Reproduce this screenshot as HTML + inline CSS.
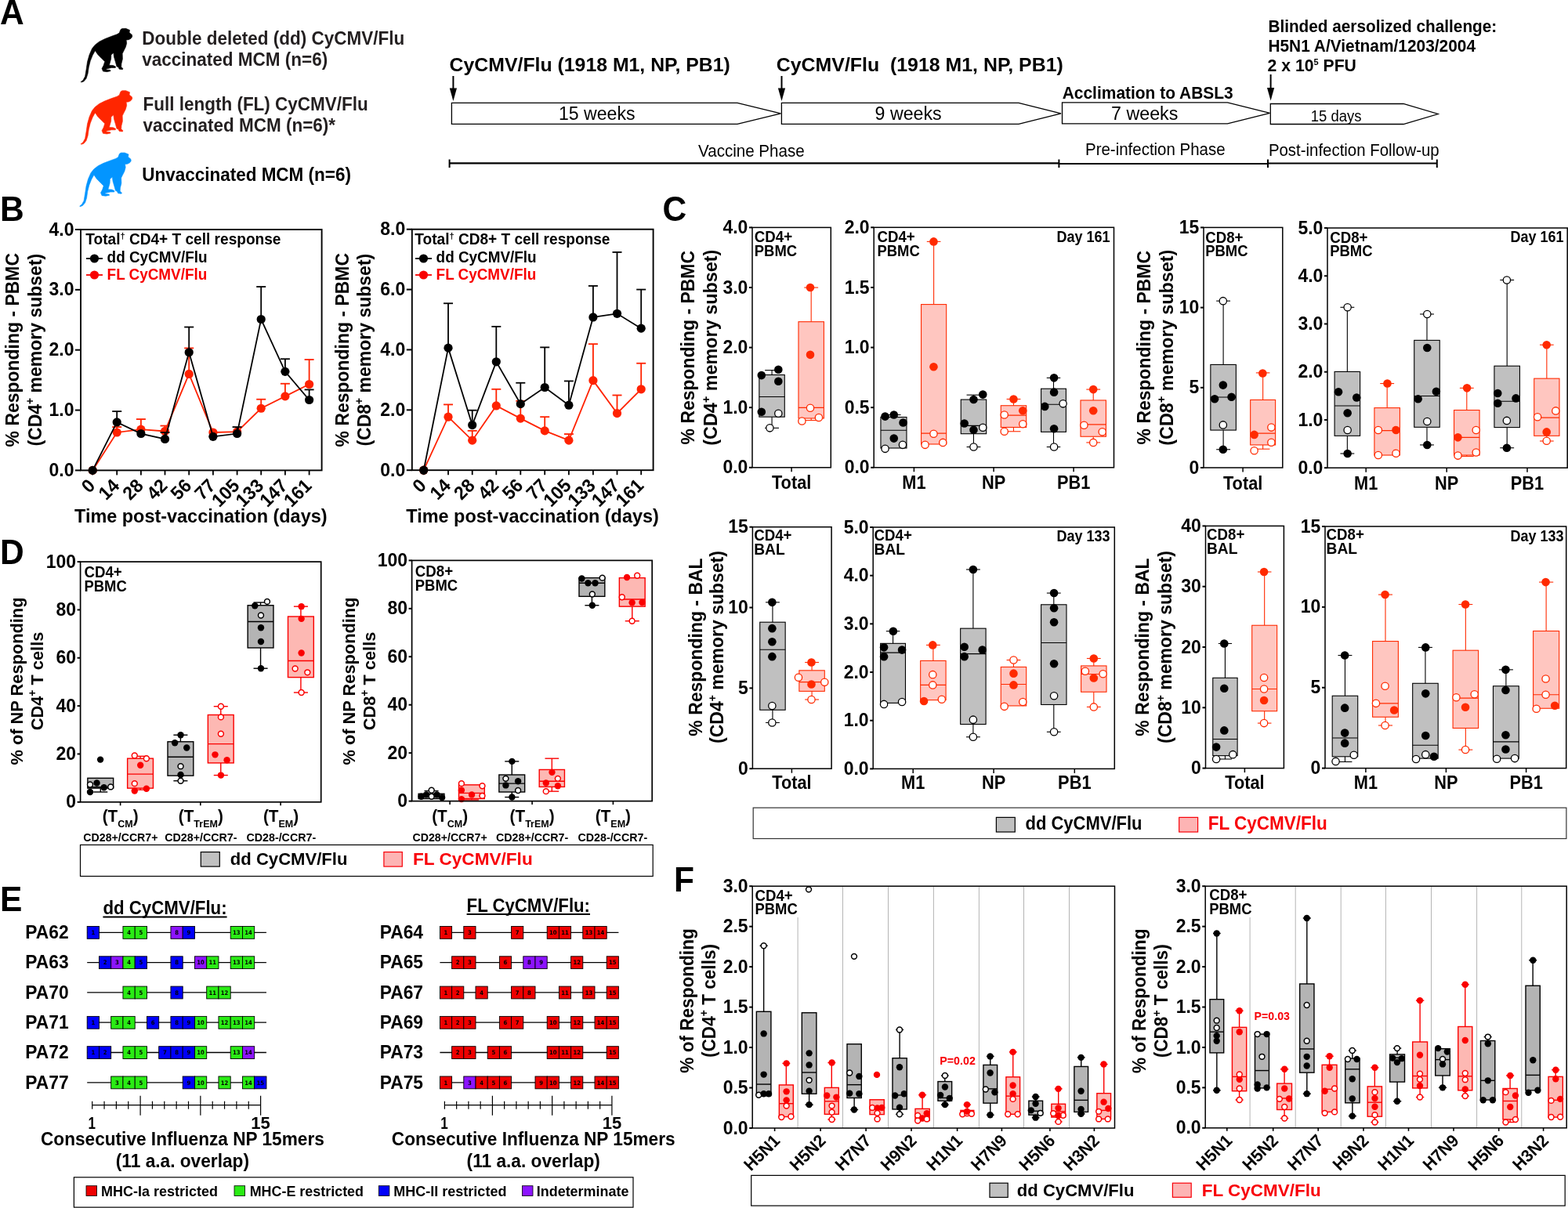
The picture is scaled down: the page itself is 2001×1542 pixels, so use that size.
<!DOCTYPE html>
<html><head><meta charset="utf-8"><title>Figure</title>
<style>
html,body{margin:0;padding:0;background:#fff;}
body{width:2001px;height:1542px;overflow:hidden;}
svg{display:block;font-family:'Liberation Sans', Arial, Helvetica, sans-serif;font-weight:bold;}
</style></head><body>
<svg width="2001" height="1542" viewBox="0 0 2001 1542">
<rect x="0" y="0" width="2001" height="1542" fill="#fff"/>
<text x="0" y="0" font-size="42.5" transform="translate(0 30.9) scale(1 1.04)">A</text>
<path d="M103.17 104.45 L105.89 102.48 L108.6 97.55 L110.07 88.68 L111.55 78.82 L114.02 69.95 L117.47 62.06 L121.16 57.38 L126.59 53.19 L133.49 49.74 L142.36 46.29 L149.26 43.83 L152.21 42.1 L153.94 37.67 L155.91 36.44 L160.59 36.34 L165.52 38.41 L165.03 41.61 L168.48 44.57 L168.72 46.79 L167 49.25 L164.04 50.73 L161.09 50.97 L161.68 55.16 L160.35 60.09 L157.88 65.02 L156.16 68.47 L156.4 75.37 L154.92 81.29 L154.68 85.47 L156.9 87.45 L156.4 88.68 L152.21 88.19 L150.74 85.47 L149.01 84.98 L147.29 78.82 L145.56 72.91 L144.82 67.49 L141.86 69.95 L141.62 75.37 L139.4 83.26 L144.33 83.5 L147.53 84.98 L147.29 86.46 L142.36 86.46 L135.46 87.94 L135.95 88.92 L140.63 89.42 L141.12 90.65 L136.44 91.64 L131.51 91.04 L130.04 87.45 L132.25 83.26 L133.73 78.57 L129.54 74.39 L124.86 69.7 L121.41 64.63 L118.21 70.44 L115.25 77.84 L113.28 85.72 L112.05 94.1 L110.07 100.26 L106.87 103.96 L103.67 105.04Z" fill="#000" stroke="#000" stroke-width="0.6" stroke-linejoin="round"/>
<path d="M103.17 183.75 L105.89 181.78 L108.6 176.85 L110.07 167.98 L111.55 158.12 L114.02 149.25 L117.47 141.36 L121.16 136.68 L126.59 132.49 L133.49 129.04 L142.36 125.59 L149.26 123.13 L152.21 121.4 L153.94 116.97 L155.91 115.74 L160.59 115.64 L165.52 117.71 L165.03 120.91 L168.48 123.87 L168.72 126.09 L167 128.55 L164.04 130.03 L161.09 130.27 L161.68 134.46 L160.35 139.39 L157.88 144.32 L156.16 147.77 L156.4 154.67 L154.92 160.59 L154.68 164.77 L156.9 166.75 L156.4 167.98 L152.21 167.49 L150.74 164.77 L149.01 164.28 L147.29 158.12 L145.56 152.21 L144.82 146.79 L141.86 149.25 L141.62 154.67 L139.4 162.56 L144.33 162.8 L147.53 164.28 L147.29 165.76 L142.36 165.76 L135.46 167.24 L135.95 168.22 L140.63 168.72 L141.12 169.95 L136.44 170.94 L131.51 170.34 L130.04 166.75 L132.25 162.56 L133.73 157.87 L129.54 153.69 L124.86 149 L121.41 143.93 L118.21 149.74 L115.25 157.14 L113.28 165.02 L112.05 173.4 L110.07 179.56 L106.87 183.26 L103.67 184.34Z" fill="#ff2600" stroke="#ff2600" stroke-width="0.6" stroke-linejoin="round"/>
<path d="M101.67 263.05 L104.39 261.08 L107.1 256.15 L108.57 247.28 L110.05 237.42 L112.52 228.55 L115.97 220.66 L119.66 215.98 L125.09 211.79 L131.99 208.34 L140.86 204.89 L147.76 202.43 L150.71 200.7 L152.44 196.27 L154.41 195.04 L159.09 194.94 L164.02 197.01 L163.53 200.21 L166.98 203.17 L167.22 205.39 L165.5 207.85 L162.54 209.33 L159.59 209.57 L160.18 213.76 L158.85 218.69 L156.38 223.62 L154.66 227.07 L154.9 233.97 L153.42 239.89 L153.18 244.07 L155.4 246.05 L154.9 247.28 L150.71 246.79 L149.24 244.07 L147.51 243.58 L145.79 237.42 L144.06 231.51 L143.32 226.09 L140.36 228.55 L140.12 233.97 L137.9 241.86 L142.83 242.1 L146.03 243.58 L145.79 245.06 L140.86 245.06 L133.96 246.54 L134.45 247.52 L139.13 248.02 L139.62 249.25 L134.94 250.24 L130.01 249.64 L128.54 246.05 L130.75 241.86 L132.23 237.17 L128.04 232.99 L123.36 228.3 L119.91 223.23 L116.71 229.04 L113.75 236.44 L111.78 244.32 L110.55 252.7 L108.57 258.86 L105.37 262.56 L102.17 263.64Z" fill="#0395ff" stroke="#0395ff" stroke-width="0.6" stroke-linejoin="round"/>
<text x="0" y="0" font-size="22.5" fill="#231f20" textLength="335" lengthAdjust="spacingAndGlyphs" transform="translate(181.2 57.3) scale(1 1.04)">Double deleted (dd) CyCMV/Flu</text>
<text x="0" y="0" font-size="22.5" fill="#231f20" textLength="237" lengthAdjust="spacingAndGlyphs" transform="translate(181.2 83.6) scale(1 1.04)">vaccinated MCM (n=6)</text>
<text x="0" y="0" font-size="22.5" fill="#231f20" transform="translate(182.5 141.2) scale(1 1.04)">Full length (FL) CyCMV/Flu</text>
<text x="0" y="0" font-size="22.5" fill="#231f20" transform="translate(182.5 167.5) scale(1 1.04)">vaccinated MCM (n=6)*</text>
<text x="0" y="0" font-size="22.5" transform="translate(181.2 231) scale(1 1.04)">Unvaccinated MCM (n=6)</text>
<text x="0" y="0" font-size="23.2" textLength="358.2" lengthAdjust="spacingAndGlyphs" transform="translate(573.6 91) scale(1 1.04)">CyCMV/Flu (1918 M1, NP, PB1)</text>
<text x="0" y="0" font-size="23.2" textLength="366" lengthAdjust="spacingAndGlyphs" transform="translate(990.8 91) scale(1 1.04)" xml:space="preserve">CyCMV/Flu  (1918 M1, NP, PB1)</text>
<line x1="578.4" y1="97" x2="578.4" y2="115" stroke="#000" stroke-width="2"/>
<path d="M573.8 112.5 L583 112.5 L578.4 129Z" fill="#000" stroke="none" stroke-width="0"/>
<line x1="997.5" y1="97" x2="997.5" y2="115" stroke="#000" stroke-width="2"/>
<path d="M992.9 112.5 L1002.1 112.5 L997.5 129Z" fill="#000" stroke="none" stroke-width="0"/>
<line x1="1621.6" y1="95" x2="1621.6" y2="114.5" stroke="#000" stroke-width="2"/>
<path d="M1617 112 L1626.2 112 L1621.6 128.5Z" fill="#000" stroke="none" stroke-width="0"/>
<path d="M576.4 131.3 L941 131.3 L996.4 144.8 L941 158.3 L576.4 158.3Z" fill="#fff" stroke="#000" stroke-width="1.3"/>
<path d="M997.4 131.3 L1300 131.3 L1354 144.8 L1300 158.3 L997.4 158.3Z" fill="#fff" stroke="#000" stroke-width="1.3"/>
<path d="M1355.5 130.8 L1566.5 130.8 L1620.5 144.3 L1566.5 157.8 L1355.5 157.8Z" fill="#fff" stroke="#000" stroke-width="1.3"/>
<path d="M1621.3 132.5 L1791 132.5 L1835.1 145.5 L1791 158.5 L1621.3 158.5Z" fill="#fff" stroke="#000" stroke-width="1.3"/>
<text x="0" y="0" font-size="23" font-weight="normal" textLength="97.5" lengthAdjust="spacingAndGlyphs" transform="translate(713 153.3) scale(1 1.04)">15 weeks</text>
<text x="0" y="0" font-size="23" font-weight="normal" textLength="85" lengthAdjust="spacingAndGlyphs" transform="translate(1116.6 153.3) scale(1 1.04)">9 weeks</text>
<text x="0" y="0" font-size="23" font-weight="normal" textLength="85.4" lengthAdjust="spacingAndGlyphs" transform="translate(1418 153.3) scale(1 1.04)">7 weeks</text>
<text x="0" y="0" font-size="19.5" font-weight="normal" textLength="64.7" lengthAdjust="spacingAndGlyphs" transform="translate(1672.8 154.5) scale(1 1.04)">15 days</text>
<text x="0" y="0" font-size="20.9" textLength="218" lengthAdjust="spacingAndGlyphs" transform="translate(1355.7 126) scale(1 1.04)">Acclimation to ABSL3</text>
<text x="0" y="0" font-size="20.8" textLength="291.8" lengthAdjust="spacingAndGlyphs" transform="translate(1618.4 40.6) scale(1 1.04)">Blinded aersolized challenge:</text>
<text x="0" y="0" font-size="20.8" textLength="264.6" lengthAdjust="spacingAndGlyphs" transform="translate(1618.4 65.9) scale(1 1.04)">H5N1 A/Vietnam/1203/2004</text>
<text x="0" y="0" font-size="21.2" transform="translate(1617.6 90.6) scale(1 1.04)">2 x 10<tspan font-size="11" dy="-7">5</tspan><tspan dy="7"> PFU</tspan></text>
<text x="0" y="0" font-size="20.5" font-weight="normal" textLength="135.7" lengthAdjust="spacingAndGlyphs" transform="translate(891 199.7) scale(1 1.04)">Vaccine Phase</text>
<text x="0" y="0" font-size="20.5" font-weight="normal" textLength="178.6" lengthAdjust="spacingAndGlyphs" transform="translate(1385 198.4) scale(1 1.04)">Pre-infection Phase</text>
<text x="0" y="0" font-size="20.4" font-weight="normal" textLength="217.8" lengthAdjust="spacingAndGlyphs" transform="translate(1618.9 198.6) scale(1 1.04)">Post-infection Follow-up</text>
<line x1="573" y1="208.3" x2="1351.4" y2="208.3" stroke="#000" stroke-width="2.2"/>
<line x1="1351.4" y1="209" x2="1618" y2="209" stroke="#000" stroke-width="2.2"/>
<line x1="1618" y1="208.5" x2="1834" y2="208.5" stroke="#000" stroke-width="2.2"/>
<line x1="573.6" y1="203.5" x2="573.6" y2="214" stroke="#000" stroke-width="2"/>
<line x1="1351.4" y1="203.5" x2="1351.4" y2="214" stroke="#000" stroke-width="2"/>
<line x1="1618" y1="203.5" x2="1618" y2="214" stroke="#000" stroke-width="2"/>
<line x1="1833.8" y1="203.5" x2="1833.8" y2="214" stroke="#000" stroke-width="2"/>
<text x="0" y="0" font-size="42.5" transform="translate(0 281.8) scale(1 1.04)">B</text>
<line x1="149.2" y1="551.98" x2="149.2" y2="545.07" stroke="#ff2200" stroke-width="1.8"/>
<line x1="143.2" y1="545.07" x2="155.2" y2="545.07" stroke="#ff2200" stroke-width="1.8"/>
<line x1="179.9" y1="548.14" x2="179.9" y2="535.08" stroke="#ff2200" stroke-width="1.8"/>
<line x1="173.9" y1="535.08" x2="185.9" y2="535.08" stroke="#ff2200" stroke-width="1.8"/>
<line x1="210.5" y1="550.45" x2="210.5" y2="543.53" stroke="#ff2200" stroke-width="1.8"/>
<line x1="204.5" y1="543.53" x2="216.5" y2="543.53" stroke="#ff2200" stroke-width="1.8"/>
<line x1="241.2" y1="477.44" x2="241.2" y2="444.39" stroke="#ff2200" stroke-width="1.8"/>
<line x1="235.2" y1="444.39" x2="247.2" y2="444.39" stroke="#ff2200" stroke-width="1.8"/>
<line x1="333.2" y1="521.24" x2="333.2" y2="509.72" stroke="#ff2200" stroke-width="1.8"/>
<line x1="327.2" y1="509.72" x2="339.2" y2="509.72" stroke="#ff2200" stroke-width="1.8"/>
<line x1="363.9" y1="505.87" x2="363.9" y2="489.74" stroke="#ff2200" stroke-width="1.8"/>
<line x1="357.9" y1="489.74" x2="369.9" y2="489.74" stroke="#ff2200" stroke-width="1.8"/>
<line x1="394.6" y1="490.5" x2="394.6" y2="459" stroke="#ff2200" stroke-width="1.8"/>
<line x1="388.6" y1="459" x2="400.6" y2="459" stroke="#ff2200" stroke-width="1.8"/>
<path d="M118.2 600.4 L149.2 551.98 L179.9 548.14 L210.5 550.45 L241.2 477.44 L271.9 551.98 L302.6 551.22 L333.2 521.24 L363.9 505.87 L394.6 490.5" fill="none" stroke="#ff2200" stroke-width="1.8"/>
<circle cx="118.2" cy="600.4" r="5.6" fill="#ff2200" stroke="none" stroke-width="1"/>
<circle cx="149.2" cy="551.98" r="5.6" fill="#ff2200" stroke="none" stroke-width="1"/>
<circle cx="179.9" cy="548.14" r="5.6" fill="#ff2200" stroke="none" stroke-width="1"/>
<circle cx="210.5" cy="550.45" r="5.6" fill="#ff2200" stroke="none" stroke-width="1"/>
<circle cx="241.2" cy="477.44" r="5.6" fill="#ff2200" stroke="none" stroke-width="1"/>
<circle cx="271.9" cy="551.98" r="5.6" fill="#ff2200" stroke="none" stroke-width="1"/>
<circle cx="302.6" cy="551.22" r="5.6" fill="#ff2200" stroke="none" stroke-width="1"/>
<circle cx="333.2" cy="521.24" r="5.6" fill="#ff2200" stroke="none" stroke-width="1"/>
<circle cx="363.9" cy="505.87" r="5.6" fill="#ff2200" stroke="none" stroke-width="1"/>
<circle cx="394.6" cy="490.5" r="5.6" fill="#ff2200" stroke="none" stroke-width="1"/>
<line x1="149.2" y1="538.92" x2="149.2" y2="525.09" stroke="#000" stroke-width="1.8"/>
<line x1="143.2" y1="525.09" x2="155.2" y2="525.09" stroke="#000" stroke-width="1.8"/>
<line x1="210.5" y1="560.44" x2="210.5" y2="551.98" stroke="#000" stroke-width="1.8"/>
<line x1="204.5" y1="551.98" x2="216.5" y2="551.98" stroke="#000" stroke-width="1.8"/>
<line x1="241.2" y1="449.77" x2="241.2" y2="417.5" stroke="#000" stroke-width="1.8"/>
<line x1="235.2" y1="417.5" x2="247.2" y2="417.5" stroke="#000" stroke-width="1.8"/>
<line x1="302.6" y1="553.52" x2="302.6" y2="545.07" stroke="#000" stroke-width="1.8"/>
<line x1="296.6" y1="545.07" x2="308.6" y2="545.07" stroke="#000" stroke-width="1.8"/>
<line x1="333.2" y1="407.51" x2="333.2" y2="366.01" stroke="#000" stroke-width="1.8"/>
<line x1="327.2" y1="366.01" x2="339.2" y2="366.01" stroke="#000" stroke-width="1.8"/>
<line x1="363.9" y1="474.37" x2="363.9" y2="458.23" stroke="#000" stroke-width="1.8"/>
<line x1="357.9" y1="458.23" x2="369.9" y2="458.23" stroke="#000" stroke-width="1.8"/>
<line x1="394.6" y1="510.49" x2="394.6" y2="497.42" stroke="#000" stroke-width="1.8"/>
<line x1="388.6" y1="497.42" x2="400.6" y2="497.42" stroke="#000" stroke-width="1.8"/>
<path d="M118.2 600.4 L149.2 538.92 L179.9 553.52 L210.5 560.44 L241.2 449.77 L271.9 557.36 L302.6 553.52 L333.2 407.51 L363.9 474.37 L394.6 510.49" fill="none" stroke="#000" stroke-width="1.8"/>
<circle cx="118.2" cy="600.4" r="5.6" fill="#000" stroke="none" stroke-width="1"/>
<circle cx="149.2" cy="538.92" r="5.6" fill="#000" stroke="none" stroke-width="1"/>
<circle cx="179.9" cy="553.52" r="5.6" fill="#000" stroke="none" stroke-width="1"/>
<circle cx="210.5" cy="560.44" r="5.6" fill="#000" stroke="none" stroke-width="1"/>
<circle cx="241.2" cy="449.77" r="5.6" fill="#000" stroke="none" stroke-width="1"/>
<circle cx="271.9" cy="557.36" r="5.6" fill="#000" stroke="none" stroke-width="1"/>
<circle cx="302.6" cy="553.52" r="5.6" fill="#000" stroke="none" stroke-width="1"/>
<circle cx="333.2" cy="407.51" r="5.6" fill="#000" stroke="none" stroke-width="1"/>
<circle cx="363.9" cy="474.37" r="5.6" fill="#000" stroke="none" stroke-width="1"/>
<circle cx="394.6" cy="510.49" r="5.6" fill="#000" stroke="none" stroke-width="1"/>
<rect x="103" y="293" width="307.6" height="307.4" fill="none" stroke="#000" stroke-width="1.9"/>
<line x1="96" y1="293" x2="103" y2="293" stroke="#000" stroke-width="2"/>
<text x="0" y="0" font-size="23" text-anchor="end" transform="translate(94.5 300.59) scale(1 1.04)">4.0</text>
<line x1="96" y1="369.85" x2="103" y2="369.85" stroke="#000" stroke-width="2"/>
<text x="0" y="0" font-size="23" text-anchor="end" transform="translate(94.5 377.44) scale(1 1.04)">3.0</text>
<line x1="96" y1="446.7" x2="103" y2="446.7" stroke="#000" stroke-width="2"/>
<text x="0" y="0" font-size="23" text-anchor="end" transform="translate(94.5 454.29) scale(1 1.04)">2.0</text>
<line x1="96" y1="523.55" x2="103" y2="523.55" stroke="#000" stroke-width="2"/>
<text x="0" y="0" font-size="23" text-anchor="end" transform="translate(94.5 531.14) scale(1 1.04)">1.0</text>
<line x1="96" y1="600.4" x2="103" y2="600.4" stroke="#000" stroke-width="2"/>
<text x="0" y="0" font-size="23" text-anchor="end" transform="translate(94.5 607.99) scale(1 1.04)">0.0</text>
<line x1="118.2" y1="600.4" x2="118.2" y2="606.4" stroke="#000" stroke-width="1.8"/>
<text x="0" y="0" font-size="23" text-anchor="end" transform="translate(122.7 621.4) rotate(-45) scale(1 1.04)">0</text>
<line x1="149.2" y1="600.4" x2="149.2" y2="606.4" stroke="#000" stroke-width="1.8"/>
<text x="0" y="0" font-size="23" text-anchor="end" transform="translate(153.7 621.4) rotate(-45) scale(1 1.04)">14</text>
<line x1="179.9" y1="600.4" x2="179.9" y2="606.4" stroke="#000" stroke-width="1.8"/>
<text x="0" y="0" font-size="23" text-anchor="end" transform="translate(184.4 621.4) rotate(-45) scale(1 1.04)">28</text>
<line x1="210.5" y1="600.4" x2="210.5" y2="606.4" stroke="#000" stroke-width="1.8"/>
<text x="0" y="0" font-size="23" text-anchor="end" transform="translate(215 621.4) rotate(-45) scale(1 1.04)">42</text>
<line x1="241.2" y1="600.4" x2="241.2" y2="606.4" stroke="#000" stroke-width="1.8"/>
<text x="0" y="0" font-size="23" text-anchor="end" transform="translate(245.7 621.4) rotate(-45) scale(1 1.04)">56</text>
<line x1="271.9" y1="600.4" x2="271.9" y2="606.4" stroke="#000" stroke-width="1.8"/>
<text x="0" y="0" font-size="23" text-anchor="end" transform="translate(276.4 621.4) rotate(-45) scale(1 1.04)">77</text>
<line x1="302.6" y1="600.4" x2="302.6" y2="606.4" stroke="#000" stroke-width="1.8"/>
<text x="0" y="0" font-size="23" text-anchor="end" transform="translate(307.1 621.4) rotate(-45) scale(1 1.04)">105</text>
<line x1="333.2" y1="600.4" x2="333.2" y2="606.4" stroke="#000" stroke-width="1.8"/>
<text x="0" y="0" font-size="23" text-anchor="end" transform="translate(337.7 621.4) rotate(-45) scale(1 1.04)">133</text>
<line x1="363.9" y1="600.4" x2="363.9" y2="606.4" stroke="#000" stroke-width="1.8"/>
<text x="0" y="0" font-size="23" text-anchor="end" transform="translate(368.4 621.4) rotate(-45) scale(1 1.04)">147</text>
<line x1="394.6" y1="600.4" x2="394.6" y2="606.4" stroke="#000" stroke-width="1.8"/>
<text x="0" y="0" font-size="23" text-anchor="end" transform="translate(399.1 621.4) rotate(-45) scale(1 1.04)">161</text>
<text x="0" y="0" font-size="23.4" textLength="322.5" lengthAdjust="spacingAndGlyphs" transform="translate(95 667.4) scale(1 1.04)">Time post-vaccination (days)</text>
<text x="0" y="0" font-size="23" text-anchor="middle" textLength="247.4" lengthAdjust="spacingAndGlyphs" transform="translate(24.3 446.7) rotate(-90) scale(1 1.04)">% Responding - PBMC</text>
<text x="0" y="0" font-size="23" text-anchor="middle" transform="translate(52.5 446.7) rotate(-90) scale(1 1.04)">(CD4<tspan font-size="14" dy="-9">+</tspan><tspan dy="9"> memory subset)</tspan></text>
<text x="0" y="0" font-size="19.1" transform="translate(109.3 311.9) scale(1 1.04)">Total<tspan font-size="11" dy="-7">†</tspan><tspan dy="7"> CD4+ T cell response</tspan></text>
<line x1="110" y1="330" x2="131" y2="330" stroke="#000" stroke-width="1.8"/>
<circle cx="120.5" cy="330" r="5.6" fill="#000" stroke="none" stroke-width="1"/>
<line x1="110" y1="351" x2="131" y2="351" stroke="#f80000" stroke-width="1.8"/>
<circle cx="120.5" cy="351" r="5.6" fill="#f80000" stroke="none" stroke-width="1"/>
<text x="0" y="0" font-size="18.9" transform="translate(136.6 335.3) scale(1 1.04)">dd CyCMV/Flu</text>
<text x="0" y="0" font-size="18.9" fill="#f80000" transform="translate(136.6 356.5) scale(1 1.04)">FL CyCMV/Flu</text>
<line x1="572" y1="532.17" x2="572" y2="516.41" stroke="#ff2200" stroke-width="1.8"/>
<line x1="566" y1="516.41" x2="578" y2="516.41" stroke="#ff2200" stroke-width="1.8"/>
<line x1="602.7" y1="562.15" x2="602.7" y2="549.85" stroke="#ff2200" stroke-width="1.8"/>
<line x1="596.7" y1="549.85" x2="608.7" y2="549.85" stroke="#ff2200" stroke-width="1.8"/>
<line x1="633.3" y1="517.94" x2="633.3" y2="496.8" stroke="#ff2200" stroke-width="1.8"/>
<line x1="627.3" y1="496.8" x2="639.3" y2="496.8" stroke="#ff2200" stroke-width="1.8"/>
<line x1="664.3" y1="534.09" x2="664.3" y2="511.79" stroke="#ff2200" stroke-width="1.8"/>
<line x1="658.3" y1="511.79" x2="670.3" y2="511.79" stroke="#ff2200" stroke-width="1.8"/>
<line x1="695.2" y1="549.85" x2="695.2" y2="532.17" stroke="#ff2200" stroke-width="1.8"/>
<line x1="689.2" y1="532.17" x2="701.2" y2="532.17" stroke="#ff2200" stroke-width="1.8"/>
<line x1="725.9" y1="562.15" x2="725.9" y2="554.08" stroke="#ff2200" stroke-width="1.8"/>
<line x1="719.9" y1="554.08" x2="731.9" y2="554.08" stroke="#ff2200" stroke-width="1.8"/>
<line x1="756.9" y1="485.66" x2="756.9" y2="439.15" stroke="#ff2200" stroke-width="1.8"/>
<line x1="750.9" y1="439.15" x2="762.9" y2="439.15" stroke="#ff2200" stroke-width="1.8"/>
<line x1="787.5" y1="527.55" x2="787.5" y2="504.49" stroke="#ff2200" stroke-width="1.8"/>
<line x1="781.5" y1="504.49" x2="793.5" y2="504.49" stroke="#ff2200" stroke-width="1.8"/>
<line x1="818.2" y1="496.8" x2="818.2" y2="463.75" stroke="#ff2200" stroke-width="1.8"/>
<line x1="812.2" y1="463.75" x2="824.2" y2="463.75" stroke="#ff2200" stroke-width="1.8"/>
<path d="M540.7 600.2 L572 532.17 L602.7 562.15 L633.3 517.94 L664.3 534.09 L695.2 549.85 L725.9 562.15 L756.9 485.66 L787.5 527.55 L818.2 496.8" fill="none" stroke="#ff2200" stroke-width="1.8"/>
<circle cx="540.7" cy="600.2" r="5.6" fill="#ff2200" stroke="none" stroke-width="1"/>
<circle cx="572" cy="532.17" r="5.6" fill="#ff2200" stroke="none" stroke-width="1"/>
<circle cx="602.7" cy="562.15" r="5.6" fill="#ff2200" stroke="none" stroke-width="1"/>
<circle cx="633.3" cy="517.94" r="5.6" fill="#ff2200" stroke="none" stroke-width="1"/>
<circle cx="664.3" cy="534.09" r="5.6" fill="#ff2200" stroke="none" stroke-width="1"/>
<circle cx="695.2" cy="549.85" r="5.6" fill="#ff2200" stroke="none" stroke-width="1"/>
<circle cx="725.9" cy="562.15" r="5.6" fill="#ff2200" stroke="none" stroke-width="1"/>
<circle cx="756.9" cy="485.66" r="5.6" fill="#ff2200" stroke="none" stroke-width="1"/>
<circle cx="787.5" cy="527.55" r="5.6" fill="#ff2200" stroke="none" stroke-width="1"/>
<circle cx="818.2" cy="496.8" r="5.6" fill="#ff2200" stroke="none" stroke-width="1"/>
<line x1="572" y1="444.14" x2="572" y2="387.26" stroke="#000" stroke-width="1.8"/>
<line x1="566" y1="387.26" x2="578" y2="387.26" stroke="#000" stroke-width="1.8"/>
<line x1="602.7" y1="542.54" x2="602.7" y2="523.71" stroke="#000" stroke-width="1.8"/>
<line x1="596.7" y1="523.71" x2="608.7" y2="523.71" stroke="#000" stroke-width="1.8"/>
<line x1="633.3" y1="461.83" x2="633.3" y2="416.85" stroke="#000" stroke-width="1.8"/>
<line x1="627.3" y1="416.85" x2="639.3" y2="416.85" stroke="#000" stroke-width="1.8"/>
<line x1="664.3" y1="515.64" x2="664.3" y2="488.73" stroke="#000" stroke-width="1.8"/>
<line x1="658.3" y1="488.73" x2="670.3" y2="488.73" stroke="#000" stroke-width="1.8"/>
<line x1="695.2" y1="494.5" x2="695.2" y2="443.38" stroke="#000" stroke-width="1.8"/>
<line x1="689.2" y1="443.38" x2="701.2" y2="443.38" stroke="#000" stroke-width="1.8"/>
<line x1="725.9" y1="517.18" x2="725.9" y2="486.43" stroke="#000" stroke-width="1.8"/>
<line x1="719.9" y1="486.43" x2="731.9" y2="486.43" stroke="#000" stroke-width="1.8"/>
<line x1="756.9" y1="404.94" x2="756.9" y2="364.96" stroke="#000" stroke-width="1.8"/>
<line x1="750.9" y1="364.96" x2="762.9" y2="364.96" stroke="#000" stroke-width="1.8"/>
<line x1="787.5" y1="400.32" x2="787.5" y2="321.91" stroke="#000" stroke-width="1.8"/>
<line x1="781.5" y1="321.91" x2="793.5" y2="321.91" stroke="#000" stroke-width="1.8"/>
<line x1="818.2" y1="419.16" x2="818.2" y2="369.57" stroke="#000" stroke-width="1.8"/>
<line x1="812.2" y1="369.57" x2="824.2" y2="369.57" stroke="#000" stroke-width="1.8"/>
<path d="M540.7 600.2 L572 444.14 L602.7 542.54 L633.3 461.83 L664.3 515.64 L695.2 494.5 L725.9 517.18 L756.9 404.94 L787.5 400.32 L818.2 419.16" fill="none" stroke="#000" stroke-width="1.8"/>
<circle cx="540.7" cy="600.2" r="5.6" fill="#000" stroke="none" stroke-width="1"/>
<circle cx="572" cy="444.14" r="5.6" fill="#000" stroke="none" stroke-width="1"/>
<circle cx="602.7" cy="542.54" r="5.6" fill="#000" stroke="none" stroke-width="1"/>
<circle cx="633.3" cy="461.83" r="5.6" fill="#000" stroke="none" stroke-width="1"/>
<circle cx="664.3" cy="515.64" r="5.6" fill="#000" stroke="none" stroke-width="1"/>
<circle cx="695.2" cy="494.5" r="5.6" fill="#000" stroke="none" stroke-width="1"/>
<circle cx="725.9" cy="517.18" r="5.6" fill="#000" stroke="none" stroke-width="1"/>
<circle cx="756.9" cy="404.94" r="5.6" fill="#000" stroke="none" stroke-width="1"/>
<circle cx="787.5" cy="400.32" r="5.6" fill="#000" stroke="none" stroke-width="1"/>
<circle cx="818.2" cy="419.16" r="5.6" fill="#000" stroke="none" stroke-width="1"/>
<rect x="525.8" y="292.7" width="307.8" height="307.5" fill="none" stroke="#000" stroke-width="1.9"/>
<line x1="518.8" y1="292.7" x2="525.8" y2="292.7" stroke="#000" stroke-width="2"/>
<text x="0" y="0" font-size="23" text-anchor="end" transform="translate(517.3 300.29) scale(1 1.04)">8.0</text>
<line x1="518.8" y1="369.57" x2="525.8" y2="369.57" stroke="#000" stroke-width="2"/>
<text x="0" y="0" font-size="23" text-anchor="end" transform="translate(517.3 377.16) scale(1 1.04)">6.0</text>
<line x1="518.8" y1="446.45" x2="525.8" y2="446.45" stroke="#000" stroke-width="2"/>
<text x="0" y="0" font-size="23" text-anchor="end" transform="translate(517.3 454.04) scale(1 1.04)">4.0</text>
<line x1="518.8" y1="523.33" x2="525.8" y2="523.33" stroke="#000" stroke-width="2"/>
<text x="0" y="0" font-size="23" text-anchor="end" transform="translate(517.3 530.92) scale(1 1.04)">2.0</text>
<line x1="518.8" y1="600.2" x2="525.8" y2="600.2" stroke="#000" stroke-width="2"/>
<text x="0" y="0" font-size="23" text-anchor="end" transform="translate(517.3 607.79) scale(1 1.04)">0.0</text>
<line x1="540.7" y1="600.2" x2="540.7" y2="606.2" stroke="#000" stroke-width="1.8"/>
<text x="0" y="0" font-size="23" text-anchor="end" transform="translate(545.2 621.2) rotate(-45) scale(1 1.04)">0</text>
<line x1="572" y1="600.2" x2="572" y2="606.2" stroke="#000" stroke-width="1.8"/>
<text x="0" y="0" font-size="23" text-anchor="end" transform="translate(576.5 621.2) rotate(-45) scale(1 1.04)">14</text>
<line x1="602.7" y1="600.2" x2="602.7" y2="606.2" stroke="#000" stroke-width="1.8"/>
<text x="0" y="0" font-size="23" text-anchor="end" transform="translate(607.2 621.2) rotate(-45) scale(1 1.04)">28</text>
<line x1="633.3" y1="600.2" x2="633.3" y2="606.2" stroke="#000" stroke-width="1.8"/>
<text x="0" y="0" font-size="23" text-anchor="end" transform="translate(637.8 621.2) rotate(-45) scale(1 1.04)">42</text>
<line x1="664.3" y1="600.2" x2="664.3" y2="606.2" stroke="#000" stroke-width="1.8"/>
<text x="0" y="0" font-size="23" text-anchor="end" transform="translate(668.8 621.2) rotate(-45) scale(1 1.04)">56</text>
<line x1="695.2" y1="600.2" x2="695.2" y2="606.2" stroke="#000" stroke-width="1.8"/>
<text x="0" y="0" font-size="23" text-anchor="end" transform="translate(699.7 621.2) rotate(-45) scale(1 1.04)">77</text>
<line x1="725.9" y1="600.2" x2="725.9" y2="606.2" stroke="#000" stroke-width="1.8"/>
<text x="0" y="0" font-size="23" text-anchor="end" transform="translate(730.4 621.2) rotate(-45) scale(1 1.04)">105</text>
<line x1="756.9" y1="600.2" x2="756.9" y2="606.2" stroke="#000" stroke-width="1.8"/>
<text x="0" y="0" font-size="23" text-anchor="end" transform="translate(761.4 621.2) rotate(-45) scale(1 1.04)">133</text>
<line x1="787.5" y1="600.2" x2="787.5" y2="606.2" stroke="#000" stroke-width="1.8"/>
<text x="0" y="0" font-size="23" text-anchor="end" transform="translate(792 621.2) rotate(-45) scale(1 1.04)">147</text>
<line x1="818.2" y1="600.2" x2="818.2" y2="606.2" stroke="#000" stroke-width="1.8"/>
<text x="0" y="0" font-size="23" text-anchor="end" transform="translate(822.7 621.2) rotate(-45) scale(1 1.04)">161</text>
<text x="0" y="0" font-size="23.4" textLength="322.5" lengthAdjust="spacingAndGlyphs" transform="translate(518.3 667.4) scale(1 1.04)">Time post-vaccination (days)</text>
<text x="0" y="0" font-size="23" text-anchor="middle" textLength="247.4" lengthAdjust="spacingAndGlyphs" transform="translate(444.5 446.7) rotate(-90) scale(1 1.04)">% Responding - PBMC</text>
<text x="0" y="0" font-size="23" text-anchor="middle" transform="translate(472.7 446.7) rotate(-90) scale(1 1.04)">(CD8<tspan font-size="14" dy="-9">+</tspan><tspan dy="9"> memory subset)</tspan></text>
<text x="0" y="0" font-size="19.1" transform="translate(529.3 311.9) scale(1 1.04)">Total<tspan font-size="11" dy="-7">†</tspan><tspan dy="7"> CD8+ T cell response</tspan></text>
<line x1="530" y1="330" x2="551" y2="330" stroke="#000" stroke-width="1.8"/>
<circle cx="540.5" cy="330" r="5.6" fill="#000" stroke="none" stroke-width="1"/>
<line x1="530" y1="351" x2="551" y2="351" stroke="#f80000" stroke-width="1.8"/>
<circle cx="540.5" cy="351" r="5.6" fill="#f80000" stroke="none" stroke-width="1"/>
<text x="0" y="0" font-size="18.9" transform="translate(556.6 335.3) scale(1 1.04)">dd CyCMV/Flu</text>
<text x="0" y="0" font-size="18.9" fill="#f80000" transform="translate(556.6 356.5) scale(1 1.04)">FL CyCMV/Flu</text>
<text x="0" y="0" font-size="42.5" transform="translate(845.6 282.3) scale(1 1.04)">C</text>
<line x1="985.07" y1="472.62" x2="985.07" y2="478.51" stroke="#000" stroke-width="1.1"/>
<line x1="976.15" y1="472.62" x2="993.99" y2="472.62" stroke="#000" stroke-width="1.1"/>
<line x1="985.07" y1="532.18" x2="985.07" y2="546.33" stroke="#000" stroke-width="1.1"/>
<line x1="976.15" y1="546.33" x2="993.99" y2="546.33" stroke="#000" stroke-width="1.1"/>
<rect x="968.85" y="478.51" width="32.43" height="53.66" fill="#c0c0c0" stroke="#000" stroke-width="1.1"/>
<line x1="968.85" y1="506.52" x2="1001.29" y2="506.52" stroke="#000" stroke-width="1.1"/>
<circle cx="971.8" cy="479.1" r="5.3" fill="#000" stroke="none" stroke-width="1"/>
<circle cx="993.32" cy="471.73" r="5.3" fill="#000" stroke="none" stroke-width="1"/>
<circle cx="993.32" cy="486.77" r="5.3" fill="#000" stroke="none" stroke-width="1"/>
<circle cx="971.8" cy="525.69" r="5.3" fill="#000" stroke="none" stroke-width="1"/>
<circle cx="993.32" cy="527.75" r="4.65" fill="#fff" stroke="#000" stroke-width="1.3"/>
<circle cx="982.41" cy="546.33" r="4.65" fill="#fff" stroke="#000" stroke-width="1.3"/>
<line x1="1035.19" y1="367.06" x2="1035.19" y2="410.7" stroke="#ff2a00" stroke-width="1.1"/>
<line x1="1026.27" y1="367.06" x2="1044.11" y2="367.06" stroke="#ff2a00" stroke-width="1.1"/>
<line x1="1035.19" y1="533.95" x2="1035.19" y2="536.6" stroke="#ff2a00" stroke-width="1.1"/>
<line x1="1026.27" y1="536.6" x2="1044.11" y2="536.6" stroke="#ff2a00" stroke-width="1.1"/>
<rect x="1018.98" y="410.7" width="32.43" height="123.25" fill="#ffc6c0" stroke="#ff2a00" stroke-width="1.1"/>
<line x1="1018.98" y1="520.38" x2="1051.41" y2="520.38" stroke="#ff2a00" stroke-width="1.1"/>
<circle cx="1034.01" cy="367.06" r="5.3" fill="#ff2a00" stroke="none" stroke-width="1"/>
<circle cx="1034.01" cy="452.86" r="5.3" fill="#ff2a00" stroke="none" stroke-width="1"/>
<circle cx="1034.01" cy="520.68" r="4.65" fill="#fff" stroke="#ff2a00" stroke-width="1.3"/>
<circle cx="1023.4" cy="537.48" r="4.65" fill="#fff" stroke="#ff2a00" stroke-width="1.3"/>
<circle cx="1044.92" cy="533.06" r="4.65" fill="#fff" stroke="#ff2a00" stroke-width="1.3"/>
<rect x="960" y="290.4" width="100.3" height="306.4" fill="none" stroke="#000" stroke-width="1.5"/>
<line x1="956" y1="290.4" x2="960" y2="290.4" stroke="#000" stroke-width="2"/>
<text x="0" y="0" font-size="23" text-anchor="end" transform="translate(954.4 297.99) scale(1 1.04)">4.0</text>
<line x1="956" y1="367" x2="960" y2="367" stroke="#000" stroke-width="2"/>
<text x="0" y="0" font-size="23" text-anchor="end" transform="translate(954.4 374.59) scale(1 1.04)">3.0</text>
<line x1="956" y1="443.6" x2="960" y2="443.6" stroke="#000" stroke-width="2"/>
<text x="0" y="0" font-size="23" text-anchor="end" transform="translate(954.4 451.19) scale(1 1.04)">2.0</text>
<line x1="956" y1="520.2" x2="960" y2="520.2" stroke="#000" stroke-width="2"/>
<text x="0" y="0" font-size="23" text-anchor="end" transform="translate(954.4 527.79) scale(1 1.04)">1.0</text>
<line x1="956" y1="596.8" x2="960" y2="596.8" stroke="#000" stroke-width="2"/>
<text x="0" y="0" font-size="23" text-anchor="end" transform="translate(954.4 604.39) scale(1 1.04)">0.0</text>
<line x1="1010.1" y1="596.8" x2="1010.1" y2="602.3" stroke="#000" stroke-width="1.5"/>
<text x="0" y="0" font-size="21.8" text-anchor="middle" transform="translate(1010.1 624.4) scale(1 1.08)">Total</text>
<text x="0" y="0" font-size="19.2" textLength="48.3" lengthAdjust="spacingAndGlyphs" transform="translate(962.8 309.2) scale(1 1.04)">CD4+</text>
<text x="0" y="0" font-size="19.2" textLength="54.4" lengthAdjust="spacingAndGlyphs" transform="translate(962.8 326.6) scale(1 1.04)">PBMC</text>
<line x1="1140.46" y1="529.52" x2="1140.46" y2="532.47" stroke="#000" stroke-width="1.1"/>
<line x1="1131.38" y1="529.52" x2="1149.54" y2="529.52" stroke="#000" stroke-width="1.1"/>
<rect x="1123.95" y="532.47" width="33.02" height="39.51" fill="#c0c0c0" stroke="#000" stroke-width="1.1"/>
<line x1="1123.95" y1="549.28" x2="1156.97" y2="549.28" stroke="#000" stroke-width="1.1"/>
<circle cx="1129.55" cy="531.59" r="5.3" fill="#000" stroke="none" stroke-width="1"/>
<circle cx="1140.75" cy="529.52" r="5.3" fill="#000" stroke="none" stroke-width="1"/>
<circle cx="1152.55" cy="539.55" r="5.3" fill="#000" stroke="none" stroke-width="1"/>
<circle cx="1140.75" cy="559.6" r="5.3" fill="#000" stroke="none" stroke-width="1"/>
<circle cx="1129.55" cy="572.87" r="4.65" fill="#fff" stroke="#000" stroke-width="1.3"/>
<circle cx="1151.96" cy="567.85" r="4.65" fill="#fff" stroke="#000" stroke-width="1.3"/>
<line x1="1191.61" y1="308.38" x2="1191.61" y2="388.58" stroke="#ff2a00" stroke-width="1.1"/>
<line x1="1182.78" y1="308.38" x2="1200.45" y2="308.38" stroke="#ff2a00" stroke-width="1.1"/>
<rect x="1175.54" y="388.58" width="32.14" height="178.39" fill="#ffc6c0" stroke="#ff2a00" stroke-width="1.1"/>
<line x1="1175.54" y1="553.11" x2="1207.68" y2="553.11" stroke="#ff2a00" stroke-width="1.1"/>
<circle cx="1191.47" cy="308.38" r="5.3" fill="#ff2a00" stroke="none" stroke-width="1"/>
<circle cx="1191.47" cy="468.19" r="5.3" fill="#ff2a00" stroke="none" stroke-width="1"/>
<circle cx="1191.47" cy="553.7" r="4.65" fill="#fff" stroke="#ff2a00" stroke-width="1.3"/>
<circle cx="1180.56" cy="567.85" r="4.65" fill="#fff" stroke="#ff2a00" stroke-width="1.3"/>
<circle cx="1203.26" cy="564.9" r="4.65" fill="#fff" stroke="#ff2a00" stroke-width="1.3"/>
<line x1="1242.48" y1="504.16" x2="1242.48" y2="510.06" stroke="#000" stroke-width="1.1"/>
<line x1="1233.56" y1="504.16" x2="1251.4" y2="504.16" stroke="#000" stroke-width="1.1"/>
<line x1="1242.48" y1="553.7" x2="1242.48" y2="570.51" stroke="#000" stroke-width="1.1"/>
<line x1="1233.56" y1="570.51" x2="1251.4" y2="570.51" stroke="#000" stroke-width="1.1"/>
<rect x="1226.26" y="510.06" width="32.43" height="43.64" fill="#c0c0c0" stroke="#000" stroke-width="1.1"/>
<line x1="1226.26" y1="543.38" x2="1258.69" y2="543.38" stroke="#000" stroke-width="1.1"/>
<circle cx="1254.27" cy="503.58" r="5.3" fill="#000" stroke="none" stroke-width="1"/>
<circle cx="1242.48" cy="510.06" r="5.3" fill="#000" stroke="none" stroke-width="1"/>
<circle cx="1230.68" cy="540.43" r="5.3" fill="#000" stroke="none" stroke-width="1"/>
<circle cx="1242.48" cy="548.69" r="5.3" fill="#000" stroke="none" stroke-width="1"/>
<circle cx="1254.27" cy="545.74" r="4.65" fill="#fff" stroke="#000" stroke-width="1.3"/>
<circle cx="1242.48" cy="570.51" r="4.65" fill="#fff" stroke="#000" stroke-width="1.3"/>
<line x1="1293.49" y1="509.47" x2="1293.49" y2="517.73" stroke="#ff2a00" stroke-width="1.1"/>
<line x1="1284.57" y1="509.47" x2="1302.41" y2="509.47" stroke="#ff2a00" stroke-width="1.1"/>
<line x1="1293.49" y1="545.44" x2="1293.49" y2="550.75" stroke="#ff2a00" stroke-width="1.1"/>
<line x1="1284.57" y1="550.75" x2="1302.41" y2="550.75" stroke="#ff2a00" stroke-width="1.1"/>
<rect x="1277.27" y="517.73" width="32.43" height="27.72" fill="#ffc6c0" stroke="#ff2a00" stroke-width="1.1"/>
<line x1="1277.27" y1="530.11" x2="1309.7" y2="530.11" stroke="#ff2a00" stroke-width="1.1"/>
<circle cx="1293.49" cy="509.47" r="5.3" fill="#ff2a00" stroke="none" stroke-width="1"/>
<circle cx="1305.28" cy="524.21" r="5.3" fill="#ff2a00" stroke="none" stroke-width="1"/>
<circle cx="1281.69" cy="529.52" r="4.65" fill="#fff" stroke="#ff2a00" stroke-width="1.3"/>
<circle cx="1305.28" cy="541.32" r="4.65" fill="#fff" stroke="#ff2a00" stroke-width="1.3"/>
<circle cx="1281.69" cy="550.75" r="4.65" fill="#fff" stroke="#ff2a00" stroke-width="1.3"/>
<line x1="1344.5" y1="482.35" x2="1344.5" y2="496.2" stroke="#000" stroke-width="1.1"/>
<line x1="1335.74" y1="482.35" x2="1353.25" y2="482.35" stroke="#000" stroke-width="1.1"/>
<line x1="1344.5" y1="551.34" x2="1344.5" y2="570.51" stroke="#000" stroke-width="1.1"/>
<line x1="1335.74" y1="570.51" x2="1353.25" y2="570.51" stroke="#000" stroke-width="1.1"/>
<rect x="1328.57" y="496.2" width="31.84" height="55.14" fill="#c0c0c0" stroke="#000" stroke-width="1.1"/>
<line x1="1328.57" y1="516.25" x2="1360.42" y2="516.25" stroke="#000" stroke-width="1.1"/>
<circle cx="1345.09" cy="482.35" r="5.3" fill="#000" stroke="none" stroke-width="1"/>
<circle cx="1345.09" cy="500.63" r="5.3" fill="#000" stroke="none" stroke-width="1"/>
<circle cx="1333.29" cy="518.91" r="5.3" fill="#000" stroke="none" stroke-width="1"/>
<circle cx="1356.59" cy="515.37" r="4.65" fill="#fff" stroke="#000" stroke-width="1.3"/>
<circle cx="1345.09" cy="547.21" r="5.3" fill="#000" stroke="none" stroke-width="1"/>
<circle cx="1345.09" cy="570.51" r="4.65" fill="#fff" stroke="#000" stroke-width="1.3"/>
<line x1="1395.21" y1="497.09" x2="1395.21" y2="510.95" stroke="#ff2a00" stroke-width="1.1"/>
<line x1="1386.29" y1="497.09" x2="1404.13" y2="497.09" stroke="#ff2a00" stroke-width="1.1"/>
<line x1="1395.21" y1="557.24" x2="1395.21" y2="564.9" stroke="#ff2a00" stroke-width="1.1"/>
<line x1="1386.29" y1="564.9" x2="1404.13" y2="564.9" stroke="#ff2a00" stroke-width="1.1"/>
<rect x="1378.99" y="510.95" width="32.43" height="46.29" fill="#ffc6c0" stroke="#ff2a00" stroke-width="1.1"/>
<line x1="1378.99" y1="541.91" x2="1411.43" y2="541.91" stroke="#ff2a00" stroke-width="1.1"/>
<circle cx="1395.21" cy="497.09" r="5.3" fill="#ff2a00" stroke="none" stroke-width="1"/>
<circle cx="1395.21" cy="524.21" r="5.3" fill="#ff2a00" stroke="none" stroke-width="1"/>
<circle cx="1383.42" cy="542.79" r="4.65" fill="#fff" stroke="#ff2a00" stroke-width="1.3"/>
<circle cx="1406.71" cy="551.34" r="4.65" fill="#fff" stroke="#ff2a00" stroke-width="1.3"/>
<circle cx="1395.21" cy="564.9" r="4.65" fill="#fff" stroke="#ff2a00" stroke-width="1.3"/>
<rect x="1115.2" y="290.3" width="306.3" height="306.5" fill="none" stroke="#000" stroke-width="1.5"/>
<line x1="1111.2" y1="290.3" x2="1115.2" y2="290.3" stroke="#000" stroke-width="2"/>
<text x="0" y="0" font-size="23" text-anchor="end" transform="translate(1109.6 297.89) scale(1 1.04)">2.0</text>
<line x1="1111.2" y1="366.93" x2="1115.2" y2="366.93" stroke="#000" stroke-width="2"/>
<text x="0" y="0" font-size="23" text-anchor="end" transform="translate(1109.6 374.51) scale(1 1.04)">1.5</text>
<line x1="1111.2" y1="443.55" x2="1115.2" y2="443.55" stroke="#000" stroke-width="2"/>
<text x="0" y="0" font-size="23" text-anchor="end" transform="translate(1109.6 451.14) scale(1 1.04)">1.0</text>
<line x1="1111.2" y1="520.17" x2="1115.2" y2="520.17" stroke="#000" stroke-width="2"/>
<text x="0" y="0" font-size="23" text-anchor="end" transform="translate(1109.6 527.76) scale(1 1.04)">0.5</text>
<line x1="1111.2" y1="596.8" x2="1115.2" y2="596.8" stroke="#000" stroke-width="2"/>
<text x="0" y="0" font-size="23" text-anchor="end" transform="translate(1109.6 604.39) scale(1 1.04)">0.0</text>
<line x1="1166.4" y1="596.8" x2="1166.4" y2="602.3" stroke="#000" stroke-width="1.5"/>
<text x="0" y="0" font-size="21.8" text-anchor="middle" transform="translate(1166.4 624.4) scale(1 1.08)">M1</text>
<line x1="1268.1" y1="596.8" x2="1268.1" y2="602.3" stroke="#000" stroke-width="1.5"/>
<text x="0" y="0" font-size="21.8" text-anchor="middle" transform="translate(1268.1 624.4) scale(1 1.08)">NP</text>
<line x1="1370.1" y1="596.8" x2="1370.1" y2="602.3" stroke="#000" stroke-width="1.5"/>
<text x="0" y="0" font-size="21.8" text-anchor="middle" transform="translate(1370.1 624.4) scale(1 1.08)">PB1</text>
<text x="0" y="0" font-size="19.2" textLength="48.3" lengthAdjust="spacingAndGlyphs" transform="translate(1119.4 308.8) scale(1 1.04)">CD4+</text>
<text x="0" y="0" font-size="19.2" textLength="54.4" lengthAdjust="spacingAndGlyphs" transform="translate(1119.4 326.8) scale(1 1.04)">PBMC</text>
<text x="0" y="0" font-size="19.2" text-anchor="end" textLength="68" lengthAdjust="spacingAndGlyphs" transform="translate(1416.6 308.9) scale(1 1.04)">Day 161</text>
<text x="0" y="0" font-size="23" text-anchor="middle" textLength="247.4" lengthAdjust="spacingAndGlyphs" transform="translate(885.5 443.7) rotate(-90) scale(1 1.04)">% Responding - PBMC</text>
<text x="0" y="0" font-size="23" text-anchor="middle" textLength="250" lengthAdjust="spacingAndGlyphs" transform="translate(915 443.7) rotate(-90) scale(1 1.04)">(CD4<tspan font-size="14" dy="-9">+</tspan><tspan dy="9"> memory subset)</tspan></text>
<line x1="1561.11" y1="384.15" x2="1561.11" y2="465.45" stroke="#000" stroke-width="1.1"/>
<line x1="1552.17" y1="384.15" x2="1570.06" y2="384.15" stroke="#000" stroke-width="1.1"/>
<line x1="1561.11" y1="549.07" x2="1561.11" y2="573.75" stroke="#000" stroke-width="1.1"/>
<line x1="1552.17" y1="573.75" x2="1570.06" y2="573.75" stroke="#000" stroke-width="1.1"/>
<rect x="1544.85" y="465.45" width="32.52" height="83.62" fill="#c0c0c0" stroke="#000" stroke-width="1.1"/>
<line x1="1544.85" y1="506.97" x2="1577.38" y2="506.97" stroke="#000" stroke-width="1.1"/>
<circle cx="1560.82" cy="384.15" r="4.65" fill="#fff" stroke="#000" stroke-width="1.3"/>
<circle cx="1560.82" cy="491.58" r="5.3" fill="#000" stroke="none" stroke-width="1"/>
<circle cx="1550.08" cy="509.29" r="5.3" fill="#000" stroke="none" stroke-width="1"/>
<circle cx="1571.57" cy="506.68" r="5.3" fill="#000" stroke="none" stroke-width="1"/>
<circle cx="1560.82" cy="542.39" r="4.65" fill="#fff" stroke="#000" stroke-width="1.3"/>
<circle cx="1560.82" cy="573.75" r="5.3" fill="#000" stroke="none" stroke-width="1"/>
<line x1="1611.64" y1="475.9" x2="1611.64" y2="510.45" stroke="#ff2a00" stroke-width="1.1"/>
<line x1="1602.85" y1="475.9" x2="1620.42" y2="475.9" stroke="#ff2a00" stroke-width="1.1"/>
<line x1="1611.64" y1="567.94" x2="1611.64" y2="573.17" stroke="#ff2a00" stroke-width="1.1"/>
<line x1="1602.85" y1="573.17" x2="1620.42" y2="573.17" stroke="#ff2a00" stroke-width="1.1"/>
<rect x="1595.67" y="510.45" width="31.94" height="57.49" fill="#ffc6c0" stroke="#ff2a00" stroke-width="1.1"/>
<line x1="1595.67" y1="553.14" x2="1627.61" y2="553.14" stroke="#ff2a00" stroke-width="1.1"/>
<circle cx="1611.35" cy="476.48" r="5.3" fill="#ff2a00" stroke="none" stroke-width="1"/>
<circle cx="1600.6" cy="554.88" r="5.3" fill="#ff2a00" stroke="none" stroke-width="1"/>
<circle cx="1622.38" cy="545.59" r="4.65" fill="#fff" stroke="#ff2a00" stroke-width="1.3"/>
<circle cx="1622.38" cy="564.75" r="4.65" fill="#fff" stroke="#ff2a00" stroke-width="1.3"/>
<circle cx="1600.6" cy="575.2" r="4.65" fill="#fff" stroke="#ff2a00" stroke-width="1.3"/>
<rect x="1536" y="290.4" width="100.8" height="306.6" fill="none" stroke="#000" stroke-width="1.5"/>
<line x1="1532" y1="290.4" x2="1536" y2="290.4" stroke="#000" stroke-width="2"/>
<text x="0" y="0" font-size="23" text-anchor="end" transform="translate(1530.4 297.99) scale(1 1.04)">15</text>
<line x1="1532" y1="392.6" x2="1536" y2="392.6" stroke="#000" stroke-width="2"/>
<text x="0" y="0" font-size="23" text-anchor="end" transform="translate(1530.4 400.19) scale(1 1.04)">10</text>
<line x1="1532" y1="494.8" x2="1536" y2="494.8" stroke="#000" stroke-width="2"/>
<text x="0" y="0" font-size="23" text-anchor="end" transform="translate(1530.4 502.39) scale(1 1.04)">5</text>
<line x1="1532" y1="597" x2="1536" y2="597" stroke="#000" stroke-width="2"/>
<text x="0" y="0" font-size="23" text-anchor="end" transform="translate(1530.4 604.59) scale(1 1.04)">0</text>
<line x1="1586.1" y1="597" x2="1586.1" y2="602.5" stroke="#000" stroke-width="1.5"/>
<text x="0" y="0" font-size="21.8" text-anchor="middle" transform="translate(1586.1 624.6) scale(1 1.08)">Total</text>
<text x="0" y="0" font-size="19.2" textLength="48.3" lengthAdjust="spacingAndGlyphs" transform="translate(1538.2 309.6) scale(1 1.04)">CD8+</text>
<text x="0" y="0" font-size="19.2" textLength="54.4" lengthAdjust="spacingAndGlyphs" transform="translate(1538.2 327) scale(1 1.04)">PBMC</text>
<line x1="1719.36" y1="392.28" x2="1719.36" y2="474.45" stroke="#000" stroke-width="1.1"/>
<line x1="1710.42" y1="392.28" x2="1728.3" y2="392.28" stroke="#000" stroke-width="1.1"/>
<line x1="1719.36" y1="556.33" x2="1719.36" y2="578.98" stroke="#000" stroke-width="1.1"/>
<line x1="1710.42" y1="578.98" x2="1728.3" y2="578.98" stroke="#000" stroke-width="1.1"/>
<rect x="1703.1" y="474.45" width="32.52" height="81.88" fill="#c0c0c0" stroke="#000" stroke-width="1.1"/>
<line x1="1703.1" y1="518" x2="1735.62" y2="518" stroke="#000" stroke-width="1.1"/>
<circle cx="1719.65" cy="392.28" r="4.65" fill="#fff" stroke="#000" stroke-width="1.3"/>
<circle cx="1708.04" cy="500.29" r="5.3" fill="#000" stroke="none" stroke-width="1"/>
<circle cx="1731.27" cy="507.55" r="5.3" fill="#000" stroke="none" stroke-width="1"/>
<circle cx="1719.65" cy="527.29" r="5.3" fill="#000" stroke="none" stroke-width="1"/>
<circle cx="1719.65" cy="549.07" r="4.65" fill="#fff" stroke="#000" stroke-width="1.3"/>
<circle cx="1719.65" cy="578.98" r="5.3" fill="#000" stroke="none" stroke-width="1"/>
<line x1="1770.17" y1="489.55" x2="1770.17" y2="520.62" stroke="#ff2a00" stroke-width="1.1"/>
<line x1="1761.23" y1="489.55" x2="1779.12" y2="489.55" stroke="#ff2a00" stroke-width="1.1"/>
<rect x="1753.91" y="520.62" width="32.52" height="60.39" fill="#ffc6c0" stroke="#ff2a00" stroke-width="1.1"/>
<line x1="1753.91" y1="549.65" x2="1786.43" y2="549.65" stroke="#ff2a00" stroke-width="1.1"/>
<circle cx="1770.46" cy="489.55" r="5.3" fill="#ff2a00" stroke="none" stroke-width="1"/>
<circle cx="1758.85" cy="549.07" r="4.65" fill="#fff" stroke="#ff2a00" stroke-width="1.3"/>
<circle cx="1781.5" cy="549.07" r="5.3" fill="#ff2a00" stroke="none" stroke-width="1"/>
<circle cx="1758.85" cy="581.01" r="4.65" fill="#fff" stroke="#ff2a00" stroke-width="1.3"/>
<circle cx="1781.5" cy="578.69" r="4.65" fill="#fff" stroke="#ff2a00" stroke-width="1.3"/>
<line x1="1820.99" y1="400.99" x2="1820.99" y2="434.38" stroke="#000" stroke-width="1.1"/>
<line x1="1812.04" y1="400.99" x2="1829.93" y2="400.99" stroke="#000" stroke-width="1.1"/>
<line x1="1820.99" y1="545.3" x2="1820.99" y2="567.94" stroke="#000" stroke-width="1.1"/>
<line x1="1812.04" y1="567.94" x2="1829.93" y2="567.94" stroke="#000" stroke-width="1.1"/>
<rect x="1804.73" y="434.38" width="32.52" height="110.92" fill="#c0c0c0" stroke="#000" stroke-width="1.1"/>
<line x1="1804.73" y1="505.52" x2="1837.25" y2="505.52" stroke="#000" stroke-width="1.1"/>
<circle cx="1821.28" cy="400.99" r="4.65" fill="#fff" stroke="#000" stroke-width="1.3"/>
<circle cx="1821.28" cy="443.96" r="5.3" fill="#000" stroke="none" stroke-width="1"/>
<circle cx="1832.89" cy="499.71" r="5.3" fill="#000" stroke="none" stroke-width="1"/>
<circle cx="1809.66" cy="509.29" r="5.3" fill="#000" stroke="none" stroke-width="1"/>
<circle cx="1821.28" cy="538.04" r="4.65" fill="#fff" stroke="#000" stroke-width="1.3"/>
<circle cx="1821.28" cy="567.94" r="5.3" fill="#000" stroke="none" stroke-width="1"/>
<line x1="1871.8" y1="495.35" x2="1871.8" y2="523.52" stroke="#ff2a00" stroke-width="1.1"/>
<line x1="1862.86" y1="495.35" x2="1880.74" y2="495.35" stroke="#ff2a00" stroke-width="1.1"/>
<line x1="1871.8" y1="581.01" x2="1871.8" y2="582.46" stroke="#ff2a00" stroke-width="1.1"/>
<line x1="1862.86" y1="582.46" x2="1880.74" y2="582.46" stroke="#ff2a00" stroke-width="1.1"/>
<rect x="1855.54" y="523.52" width="32.52" height="57.49" fill="#ffc6c0" stroke="#ff2a00" stroke-width="1.1"/>
<line x1="1855.54" y1="558.36" x2="1888.06" y2="558.36" stroke="#ff2a00" stroke-width="1.1"/>
<circle cx="1872.09" cy="495.35" r="5.3" fill="#ff2a00" stroke="none" stroke-width="1"/>
<circle cx="1860.48" cy="558.36" r="5.3" fill="#ff2a00" stroke="none" stroke-width="1"/>
<circle cx="1883.7" cy="549.07" r="4.65" fill="#fff" stroke="#ff2a00" stroke-width="1.3"/>
<circle cx="1883.7" cy="577.53" r="4.65" fill="#fff" stroke="#ff2a00" stroke-width="1.3"/>
<circle cx="1860.48" cy="581.59" r="4.65" fill="#fff" stroke="#ff2a00" stroke-width="1.3"/>
<line x1="1923.19" y1="357.43" x2="1923.19" y2="467.19" stroke="#000" stroke-width="1.1"/>
<line x1="1914.25" y1="357.43" x2="1932.14" y2="357.43" stroke="#000" stroke-width="1.1"/>
<line x1="1923.19" y1="545.59" x2="1923.19" y2="571.72" stroke="#000" stroke-width="1.1"/>
<line x1="1914.25" y1="571.72" x2="1932.14" y2="571.72" stroke="#000" stroke-width="1.1"/>
<rect x="1906.93" y="467.19" width="32.52" height="78.4" fill="#c0c0c0" stroke="#000" stroke-width="1.1"/>
<line x1="1906.93" y1="512.2" x2="1939.45" y2="512.2" stroke="#000" stroke-width="1.1"/>
<circle cx="1922.9" cy="357.43" r="4.65" fill="#fff" stroke="#000" stroke-width="1.3"/>
<circle cx="1911.29" cy="502.03" r="5.3" fill="#000" stroke="none" stroke-width="1"/>
<circle cx="1934.52" cy="508.42" r="5.3" fill="#000" stroke="none" stroke-width="1"/>
<circle cx="1911.29" cy="514.81" r="5.3" fill="#000" stroke="none" stroke-width="1"/>
<circle cx="1922.9" cy="536.88" r="4.65" fill="#fff" stroke="#000" stroke-width="1.3"/>
<circle cx="1922.9" cy="571.72" r="5.3" fill="#000" stroke="none" stroke-width="1"/>
<line x1="1973.86" y1="440.19" x2="1973.86" y2="483.16" stroke="#ff2a00" stroke-width="1.1"/>
<line x1="1965" y1="440.19" x2="1982.73" y2="440.19" stroke="#ff2a00" stroke-width="1.1"/>
<line x1="1973.86" y1="556.33" x2="1973.86" y2="563.01" stroke="#ff2a00" stroke-width="1.1"/>
<line x1="1965" y1="563.01" x2="1982.73" y2="563.01" stroke="#ff2a00" stroke-width="1.1"/>
<rect x="1957.75" y="483.16" width="32.23" height="73.17" fill="#ffc6c0" stroke="#ff2a00" stroke-width="1.1"/>
<line x1="1957.75" y1="533.1" x2="1989.98" y2="533.1" stroke="#ff2a00" stroke-width="1.1"/>
<circle cx="1973.72" cy="440.19" r="5.3" fill="#ff2a00" stroke="none" stroke-width="1"/>
<circle cx="1985.33" cy="524.39" r="4.65" fill="#fff" stroke="#ff2a00" stroke-width="1.3"/>
<circle cx="1962.1" cy="532.23" r="4.65" fill="#fff" stroke="#ff2a00" stroke-width="1.3"/>
<circle cx="1973.72" cy="551.39" r="5.3" fill="#ff2a00" stroke="none" stroke-width="1"/>
<circle cx="1973.72" cy="562.72" r="4.65" fill="#fff" stroke="#ff2a00" stroke-width="1.3"/>
<rect x="1694" y="291" width="306.2" height="306.2" fill="none" stroke="#000" stroke-width="1.5"/>
<line x1="1690" y1="291" x2="1694" y2="291" stroke="#000" stroke-width="2"/>
<text x="0" y="0" font-size="23" text-anchor="end" transform="translate(1688.4 298.59) scale(1 1.04)">5.0</text>
<line x1="1690" y1="352.24" x2="1694" y2="352.24" stroke="#000" stroke-width="2"/>
<text x="0" y="0" font-size="23" text-anchor="end" transform="translate(1688.4 359.83) scale(1 1.04)">4.0</text>
<line x1="1690" y1="413.48" x2="1694" y2="413.48" stroke="#000" stroke-width="2"/>
<text x="0" y="0" font-size="23" text-anchor="end" transform="translate(1688.4 421.07) scale(1 1.04)">3.0</text>
<line x1="1690" y1="474.72" x2="1694" y2="474.72" stroke="#000" stroke-width="2"/>
<text x="0" y="0" font-size="23" text-anchor="end" transform="translate(1688.4 482.31) scale(1 1.04)">2.0</text>
<line x1="1690" y1="535.96" x2="1694" y2="535.96" stroke="#000" stroke-width="2"/>
<text x="0" y="0" font-size="23" text-anchor="end" transform="translate(1688.4 543.55) scale(1 1.04)">1.0</text>
<line x1="1690" y1="597.2" x2="1694" y2="597.2" stroke="#000" stroke-width="2"/>
<text x="0" y="0" font-size="23" text-anchor="end" transform="translate(1688.4 604.79) scale(1 1.04)">0.0</text>
<line x1="1743.2" y1="597.2" x2="1743.2" y2="602.7" stroke="#000" stroke-width="1.5"/>
<text x="0" y="0" font-size="21.8" text-anchor="middle" transform="translate(1743.2 624.8) scale(1 1.08)">M1</text>
<line x1="1846.2" y1="597.2" x2="1846.2" y2="602.7" stroke="#000" stroke-width="1.5"/>
<text x="0" y="0" font-size="21.8" text-anchor="middle" transform="translate(1846.2 624.8) scale(1 1.08)">NP</text>
<line x1="1949" y1="597.2" x2="1949" y2="602.7" stroke="#000" stroke-width="1.5"/>
<text x="0" y="0" font-size="21.8" text-anchor="middle" transform="translate(1949 624.8) scale(1 1.08)">PB1</text>
<text x="0" y="0" font-size="19.2" textLength="48.3" lengthAdjust="spacingAndGlyphs" transform="translate(1697.2 309.5) scale(1 1.04)">CD8+</text>
<text x="0" y="0" font-size="19.2" textLength="54.4" lengthAdjust="spacingAndGlyphs" transform="translate(1697.2 326.9) scale(1 1.04)">PBMC</text>
<text x="0" y="0" font-size="19.2" text-anchor="end" textLength="68" lengthAdjust="spacingAndGlyphs" transform="translate(1995.6 309.4) scale(1 1.04)">Day 161</text>
<text x="0" y="0" font-size="23" text-anchor="middle" textLength="247.4" lengthAdjust="spacingAndGlyphs" transform="translate(1467.5 443.7) rotate(-90) scale(1 1.04)">% Responding - PBMC</text>
<text x="0" y="0" font-size="23" text-anchor="middle" textLength="250" lengthAdjust="spacingAndGlyphs" transform="translate(1496.5 443.7) rotate(-90) scale(1 1.04)">(CD8<tspan font-size="14" dy="-9">+</tspan><tspan dy="9"> memory subset)</tspan></text>
<line x1="985.95" y1="768.85" x2="985.95" y2="794.21" stroke="#000" stroke-width="1.1"/>
<line x1="977.03" y1="768.85" x2="994.87" y2="768.85" stroke="#000" stroke-width="1.1"/>
<line x1="985.95" y1="906.25" x2="985.95" y2="922.47" stroke="#000" stroke-width="1.1"/>
<line x1="977.03" y1="922.47" x2="994.87" y2="922.47" stroke="#000" stroke-width="1.1"/>
<rect x="969.74" y="794.21" width="32.43" height="112.04" fill="#c0c0c0" stroke="#000" stroke-width="1.1"/>
<line x1="969.74" y1="829.3" x2="1002.17" y2="829.3" stroke="#000" stroke-width="1.1"/>
<circle cx="985.36" cy="768.85" r="5.3" fill="#000" stroke="none" stroke-width="1"/>
<circle cx="985.36" cy="802.17" r="5.3" fill="#000" stroke="none" stroke-width="1"/>
<circle cx="985.36" cy="819.27" r="5.3" fill="#000" stroke="none" stroke-width="1"/>
<circle cx="985.36" cy="838.14" r="5.3" fill="#000" stroke="none" stroke-width="1"/>
<circle cx="985.36" cy="900.95" r="4.65" fill="#fff" stroke="#000" stroke-width="1.3"/>
<circle cx="985.36" cy="922.47" r="4.65" fill="#fff" stroke="#000" stroke-width="1.3"/>
<line x1="1036.08" y1="845.51" x2="1036.08" y2="855.83" stroke="#ff2a00" stroke-width="1.1"/>
<line x1="1027.16" y1="845.51" x2="1045" y2="845.51" stroke="#ff2a00" stroke-width="1.1"/>
<line x1="1036.08" y1="882.37" x2="1036.08" y2="892.99" stroke="#ff2a00" stroke-width="1.1"/>
<line x1="1027.16" y1="892.99" x2="1045" y2="892.99" stroke="#ff2a00" stroke-width="1.1"/>
<rect x="1019.86" y="855.83" width="32.43" height="26.54" fill="#ffc6c0" stroke="#ff2a00" stroke-width="1.1"/>
<line x1="1019.86" y1="870.58" x2="1052.3" y2="870.58" stroke="#ff2a00" stroke-width="1.1"/>
<circle cx="1035.49" cy="845.51" r="5.3" fill="#ff2a00" stroke="none" stroke-width="1"/>
<circle cx="1018.98" cy="864.68" r="4.65" fill="#fff" stroke="#ff2a00" stroke-width="1.3"/>
<circle cx="1052.3" cy="870.87" r="4.65" fill="#fff" stroke="#ff2a00" stroke-width="1.3"/>
<circle cx="1035.49" cy="873.52" r="5.3" fill="#ff2a00" stroke="none" stroke-width="1"/>
<circle cx="1035.49" cy="892.99" r="4.65" fill="#fff" stroke="#ff2a00" stroke-width="1.3"/>
<rect x="960.4" y="672.7" width="100.7" height="308.5" fill="none" stroke="#000" stroke-width="1.5"/>
<line x1="956.4" y1="672.7" x2="960.4" y2="672.7" stroke="#000" stroke-width="2"/>
<text x="0" y="0" font-size="23" text-anchor="end" transform="translate(954.8 680.29) scale(1 1.04)">15</text>
<line x1="956.4" y1="775.53" x2="960.4" y2="775.53" stroke="#000" stroke-width="2"/>
<text x="0" y="0" font-size="23" text-anchor="end" transform="translate(954.8 783.12) scale(1 1.04)">10</text>
<line x1="956.4" y1="878.37" x2="960.4" y2="878.37" stroke="#000" stroke-width="2"/>
<text x="0" y="0" font-size="23" text-anchor="end" transform="translate(954.8 885.96) scale(1 1.04)">5</text>
<line x1="956.4" y1="981.2" x2="960.4" y2="981.2" stroke="#000" stroke-width="2"/>
<text x="0" y="0" font-size="23" text-anchor="end" transform="translate(954.8 988.79) scale(1 1.04)">0</text>
<line x1="1010.4" y1="981.2" x2="1010.4" y2="986.7" stroke="#000" stroke-width="1.5"/>
<text x="0" y="0" font-size="21.8" text-anchor="middle" transform="translate(1010.4 1007.2) scale(1 1.08)">Total</text>
<text x="0" y="0" font-size="19.2" textLength="48.3" lengthAdjust="spacingAndGlyphs" transform="translate(962.2 689.7) scale(1 1.04)">CD4+</text>
<text x="0" y="0" font-size="19.2" transform="translate(962.2 707.7) scale(1 1.04)">BAL</text>
<line x1="1139.57" y1="805.71" x2="1139.57" y2="821.34" stroke="#000" stroke-width="1.1"/>
<line x1="1130.82" y1="805.71" x2="1148.33" y2="805.71" stroke="#000" stroke-width="1.1"/>
<rect x="1123.65" y="821.34" width="31.84" height="76.07" fill="#c0c0c0" stroke="#000" stroke-width="1.1"/>
<line x1="1123.65" y1="833.13" x2="1155.49" y2="833.13" stroke="#000" stroke-width="1.1"/>
<circle cx="1139.87" cy="805.71" r="5.3" fill="#000" stroke="none" stroke-width="1"/>
<circle cx="1128.07" cy="826.35" r="5.3" fill="#000" stroke="none" stroke-width="1"/>
<circle cx="1151.07" cy="829.59" r="5.3" fill="#000" stroke="none" stroke-width="1"/>
<circle cx="1128.07" cy="838.14" r="5.3" fill="#000" stroke="none" stroke-width="1"/>
<circle cx="1128.07" cy="898.88" r="4.65" fill="#fff" stroke="#000" stroke-width="1.3"/>
<circle cx="1151.07" cy="895.93" r="4.65" fill="#fff" stroke="#000" stroke-width="1.3"/>
<line x1="1190.88" y1="823.4" x2="1190.88" y2="843.45" stroke="#ff2a00" stroke-width="1.1"/>
<line x1="1181.96" y1="823.4" x2="1199.8" y2="823.4" stroke="#ff2a00" stroke-width="1.1"/>
<rect x="1174.66" y="843.45" width="32.43" height="50.13" fill="#ffc6c0" stroke="#ff2a00" stroke-width="1.1"/>
<line x1="1174.66" y1="874.41" x2="1207.09" y2="874.41" stroke="#ff2a00" stroke-width="1.1"/>
<circle cx="1190.29" cy="823.4" r="5.3" fill="#ff2a00" stroke="none" stroke-width="1"/>
<circle cx="1190.29" cy="861.14" r="4.65" fill="#fff" stroke="#ff2a00" stroke-width="1.3"/>
<circle cx="1190.29" cy="874.41" r="4.65" fill="#fff" stroke="#ff2a00" stroke-width="1.3"/>
<circle cx="1179.08" cy="895.05" r="5.3" fill="#ff2a00" stroke="none" stroke-width="1"/>
<circle cx="1201.79" cy="892.69" r="4.65" fill="#fff" stroke="#ff2a00" stroke-width="1.3"/>
<line x1="1241.89" y1="726.98" x2="1241.89" y2="802.17" stroke="#000" stroke-width="1.1"/>
<line x1="1232.97" y1="726.98" x2="1250.81" y2="726.98" stroke="#000" stroke-width="1.1"/>
<line x1="1241.89" y1="924.53" x2="1241.89" y2="940.75" stroke="#000" stroke-width="1.1"/>
<line x1="1232.97" y1="940.75" x2="1250.81" y2="940.75" stroke="#000" stroke-width="1.1"/>
<rect x="1225.67" y="802.17" width="32.43" height="122.36" fill="#c0c0c0" stroke="#000" stroke-width="1.1"/>
<line x1="1225.67" y1="834.6" x2="1258.1" y2="834.6" stroke="#000" stroke-width="1.1"/>
<circle cx="1241.89" cy="726.98" r="5.3" fill="#000" stroke="none" stroke-width="1"/>
<circle cx="1230.68" cy="825.76" r="5.3" fill="#000" stroke="none" stroke-width="1"/>
<circle cx="1253.68" cy="829.59" r="5.3" fill="#000" stroke="none" stroke-width="1"/>
<circle cx="1230.68" cy="838.14" r="5.3" fill="#000" stroke="none" stroke-width="1"/>
<circle cx="1241.89" cy="918.64" r="4.65" fill="#fff" stroke="#000" stroke-width="1.3"/>
<circle cx="1241.89" cy="940.75" r="4.65" fill="#fff" stroke="#000" stroke-width="1.3"/>
<line x1="1293.49" y1="842.57" x2="1293.49" y2="851.41" stroke="#ff2a00" stroke-width="1.1"/>
<line x1="1284.57" y1="842.57" x2="1302.41" y2="842.57" stroke="#ff2a00" stroke-width="1.1"/>
<rect x="1277.27" y="851.41" width="32.43" height="49.54" fill="#ffc6c0" stroke="#ff2a00" stroke-width="1.1"/>
<line x1="1277.27" y1="873.52" x2="1309.7" y2="873.52" stroke="#ff2a00" stroke-width="1.1"/>
<circle cx="1293.49" cy="842.57" r="4.65" fill="#fff" stroke="#ff2a00" stroke-width="1.3"/>
<circle cx="1293.49" cy="859.67" r="5.3" fill="#ff2a00" stroke="none" stroke-width="1"/>
<circle cx="1293.49" cy="874.41" r="5.3" fill="#ff2a00" stroke="none" stroke-width="1"/>
<circle cx="1281.69" cy="901.83" r="4.65" fill="#fff" stroke="#ff2a00" stroke-width="1.3"/>
<circle cx="1305.28" cy="895.93" r="4.65" fill="#fff" stroke="#ff2a00" stroke-width="1.3"/>
<line x1="1344.79" y1="757.06" x2="1344.79" y2="771.8" stroke="#000" stroke-width="1.1"/>
<line x1="1335.87" y1="757.06" x2="1353.71" y2="757.06" stroke="#000" stroke-width="1.1"/>
<line x1="1344.79" y1="899.47" x2="1344.79" y2="934.27" stroke="#000" stroke-width="1.1"/>
<line x1="1335.87" y1="934.27" x2="1353.71" y2="934.27" stroke="#000" stroke-width="1.1"/>
<rect x="1328.57" y="771.8" width="32.43" height="127.67" fill="#c0c0c0" stroke="#000" stroke-width="1.1"/>
<line x1="1328.57" y1="820.45" x2="1361.01" y2="820.45" stroke="#000" stroke-width="1.1"/>
<circle cx="1345.09" cy="757.06" r="5.3" fill="#000" stroke="none" stroke-width="1"/>
<circle cx="1345.09" cy="776.22" r="5.3" fill="#000" stroke="none" stroke-width="1"/>
<circle cx="1345.09" cy="794.21" r="5.3" fill="#000" stroke="none" stroke-width="1"/>
<circle cx="1345.09" cy="847.28" r="5.3" fill="#000" stroke="none" stroke-width="1"/>
<circle cx="1345.09" cy="888.27" r="4.65" fill="#fff" stroke="#000" stroke-width="1.3"/>
<circle cx="1345.09" cy="934.27" r="4.65" fill="#fff" stroke="#000" stroke-width="1.3"/>
<line x1="1395.8" y1="840.5" x2="1395.8" y2="849.94" stroke="#ff2a00" stroke-width="1.1"/>
<line x1="1386.88" y1="840.5" x2="1404.72" y2="840.5" stroke="#ff2a00" stroke-width="1.1"/>
<line x1="1395.8" y1="883.26" x2="1395.8" y2="902.42" stroke="#ff2a00" stroke-width="1.1"/>
<line x1="1386.88" y1="902.42" x2="1404.72" y2="902.42" stroke="#ff2a00" stroke-width="1.1"/>
<rect x="1379.58" y="849.94" width="32.43" height="33.32" fill="#ffc6c0" stroke="#ff2a00" stroke-width="1.1"/>
<line x1="1379.58" y1="860.55" x2="1412.02" y2="860.55" stroke="#ff2a00" stroke-width="1.1"/>
<circle cx="1395.8" cy="840.5" r="5.3" fill="#ff2a00" stroke="none" stroke-width="1"/>
<circle cx="1384.89" cy="856.72" r="4.65" fill="#fff" stroke="#ff2a00" stroke-width="1.3"/>
<circle cx="1407.6" cy="860.26" r="4.65" fill="#fff" stroke="#ff2a00" stroke-width="1.3"/>
<circle cx="1395.8" cy="865.56" r="5.3" fill="#ff2a00" stroke="none" stroke-width="1"/>
<circle cx="1395.8" cy="902.42" r="4.65" fill="#fff" stroke="#ff2a00" stroke-width="1.3"/>
<rect x="1114.2" y="673" width="308.1" height="308.4" fill="none" stroke="#000" stroke-width="1.5"/>
<line x1="1110.2" y1="673" x2="1114.2" y2="673" stroke="#000" stroke-width="2"/>
<text x="0" y="0" font-size="23" text-anchor="end" transform="translate(1108.6 680.59) scale(1 1.04)">5.0</text>
<line x1="1110.2" y1="734.68" x2="1114.2" y2="734.68" stroke="#000" stroke-width="2"/>
<text x="0" y="0" font-size="23" text-anchor="end" transform="translate(1108.6 742.27) scale(1 1.04)">4.0</text>
<line x1="1110.2" y1="796.36" x2="1114.2" y2="796.36" stroke="#000" stroke-width="2"/>
<text x="0" y="0" font-size="23" text-anchor="end" transform="translate(1108.6 803.95) scale(1 1.04)">3.0</text>
<line x1="1110.2" y1="858.04" x2="1114.2" y2="858.04" stroke="#000" stroke-width="2"/>
<text x="0" y="0" font-size="23" text-anchor="end" transform="translate(1108.6 865.63) scale(1 1.04)">2.0</text>
<line x1="1110.2" y1="919.72" x2="1114.2" y2="919.72" stroke="#000" stroke-width="2"/>
<text x="0" y="0" font-size="23" text-anchor="end" transform="translate(1108.6 927.31) scale(1 1.04)">1.0</text>
<line x1="1110.2" y1="981.4" x2="1114.2" y2="981.4" stroke="#000" stroke-width="2"/>
<text x="0" y="0" font-size="23" text-anchor="end" transform="translate(1108.6 988.99) scale(1 1.04)">0.0</text>
<line x1="1165.2" y1="981.4" x2="1165.2" y2="986.9" stroke="#000" stroke-width="1.5"/>
<text x="0" y="0" font-size="21.8" text-anchor="middle" transform="translate(1165.2 1007.4) scale(1 1.08)">M1</text>
<line x1="1268.1" y1="981.4" x2="1268.1" y2="986.9" stroke="#000" stroke-width="1.5"/>
<text x="0" y="0" font-size="21.8" text-anchor="middle" transform="translate(1268.1 1007.4) scale(1 1.08)">NP</text>
<line x1="1371.3" y1="981.4" x2="1371.3" y2="986.9" stroke="#000" stroke-width="1.5"/>
<text x="0" y="0" font-size="21.8" text-anchor="middle" transform="translate(1371.3 1007.4) scale(1 1.08)">PB1</text>
<text x="0" y="0" font-size="19.2" textLength="48.3" lengthAdjust="spacingAndGlyphs" transform="translate(1115.6 689.6) scale(1 1.04)">CD4+</text>
<text x="0" y="0" font-size="19.2" transform="translate(1115.6 707.6) scale(1 1.04)">BAL</text>
<text x="0" y="0" font-size="19.2" text-anchor="end" textLength="68" lengthAdjust="spacingAndGlyphs" transform="translate(1416.6 691.4) scale(1 1.04)">Day 133</text>
<text x="0" y="0" font-size="23" text-anchor="middle" transform="translate(895.5 826) rotate(-90) scale(1 1.04)">% Responding - BAL</text>
<text x="0" y="0" font-size="23" text-anchor="middle" transform="translate(923 826) rotate(-90) scale(1 1.04)">(CD4<tspan font-size="14" dy="-9">+</tspan><tspan dy="9"> memory subset)</tspan></text>
<line x1="1563.44" y1="821.48" x2="1563.44" y2="865.32" stroke="#000" stroke-width="1.1"/>
<line x1="1554.81" y1="821.48" x2="1572.06" y2="821.48" stroke="#000" stroke-width="1.1"/>
<line x1="1563.44" y1="964.62" x2="1563.44" y2="968.98" stroke="#000" stroke-width="1.1"/>
<line x1="1554.81" y1="968.98" x2="1572.06" y2="968.98" stroke="#000" stroke-width="1.1"/>
<rect x="1547.76" y="865.32" width="31.36" height="99.3" fill="#c0c0c0" stroke="#000" stroke-width="1.1"/>
<line x1="1547.76" y1="943.43" x2="1579.12" y2="943.43" stroke="#000" stroke-width="1.1"/>
<circle cx="1562.28" cy="821.48" r="5.3" fill="#000" stroke="none" stroke-width="1"/>
<circle cx="1562.28" cy="878.68" r="5.3" fill="#000" stroke="none" stroke-width="1"/>
<circle cx="1562.28" cy="932.39" r="5.3" fill="#000" stroke="none" stroke-width="1"/>
<circle cx="1552.11" cy="953.59" r="5.3" fill="#000" stroke="none" stroke-width="1"/>
<circle cx="1573.31" cy="963.17" r="4.65" fill="#fff" stroke="#000" stroke-width="1.3"/>
<circle cx="1552.11" cy="968.98" r="4.65" fill="#fff" stroke="#000" stroke-width="1.3"/>
<line x1="1613.67" y1="730.01" x2="1613.67" y2="798.25" stroke="#ff2a00" stroke-width="1.1"/>
<line x1="1604.89" y1="730.01" x2="1622.45" y2="730.01" stroke="#ff2a00" stroke-width="1.1"/>
<line x1="1613.67" y1="907.71" x2="1613.67" y2="923.1" stroke="#ff2a00" stroke-width="1.1"/>
<line x1="1604.89" y1="923.1" x2="1622.45" y2="923.1" stroke="#ff2a00" stroke-width="1.1"/>
<rect x="1597.7" y="798.25" width="31.94" height="109.47" fill="#ffc6c0" stroke="#ff2a00" stroke-width="1.1"/>
<line x1="1597.7" y1="879.55" x2="1629.64" y2="879.55" stroke="#ff2a00" stroke-width="1.1"/>
<circle cx="1613.09" cy="730.01" r="5.3" fill="#ff2a00" stroke="none" stroke-width="1"/>
<circle cx="1613.09" cy="865.03" r="4.65" fill="#fff" stroke="#ff2a00" stroke-width="1.3"/>
<circle cx="1613.09" cy="879.55" r="4.65" fill="#fff" stroke="#ff2a00" stroke-width="1.3"/>
<circle cx="1613.09" cy="894.07" r="5.3" fill="#ff2a00" stroke="none" stroke-width="1"/>
<circle cx="1613.09" cy="923.1" r="4.65" fill="#fff" stroke="#ff2a00" stroke-width="1.3"/>
<rect x="1538.5" y="671.4" width="99.9" height="309.2" fill="none" stroke="#000" stroke-width="1.5"/>
<line x1="1534.5" y1="671.4" x2="1538.5" y2="671.4" stroke="#000" stroke-width="2"/>
<text x="0" y="0" font-size="23" text-anchor="end" transform="translate(1532.9 678.99) scale(1 1.04)">40</text>
<line x1="1534.5" y1="748.7" x2="1538.5" y2="748.7" stroke="#000" stroke-width="2"/>
<text x="0" y="0" font-size="23" text-anchor="end" transform="translate(1532.9 756.29) scale(1 1.04)">30</text>
<line x1="1534.5" y1="826" x2="1538.5" y2="826" stroke="#000" stroke-width="2"/>
<text x="0" y="0" font-size="23" text-anchor="end" transform="translate(1532.9 833.59) scale(1 1.04)">20</text>
<line x1="1534.5" y1="903.3" x2="1538.5" y2="903.3" stroke="#000" stroke-width="2"/>
<text x="0" y="0" font-size="23" text-anchor="end" transform="translate(1532.9 910.89) scale(1 1.04)">10</text>
<line x1="1534.5" y1="980.6" x2="1538.5" y2="980.6" stroke="#000" stroke-width="2"/>
<text x="0" y="0" font-size="23" text-anchor="end" transform="translate(1532.9 988.19) scale(1 1.04)">0</text>
<line x1="1588.4" y1="980.6" x2="1588.4" y2="986.1" stroke="#000" stroke-width="1.5"/>
<text x="0" y="0" font-size="21.8" text-anchor="middle" transform="translate(1588.4 1006.6) scale(1 1.08)">Total</text>
<text x="0" y="0" font-size="19.2" textLength="48.3" lengthAdjust="spacingAndGlyphs" transform="translate(1540 689) scale(1 1.04)">CD8+</text>
<text x="0" y="0" font-size="19.2" transform="translate(1540 706.6) scale(1 1.04)">BAL</text>
<line x1="1716.46" y1="836.57" x2="1716.46" y2="888.26" stroke="#000" stroke-width="1.1"/>
<line x1="1707.51" y1="836.57" x2="1725.4" y2="836.57" stroke="#000" stroke-width="1.1"/>
<line x1="1716.46" y1="965.78" x2="1716.46" y2="972.46" stroke="#000" stroke-width="1.1"/>
<line x1="1707.51" y1="972.46" x2="1725.4" y2="972.46" stroke="#000" stroke-width="1.1"/>
<rect x="1700.2" y="888.26" width="32.52" height="77.53" fill="#c0c0c0" stroke="#000" stroke-width="1.1"/>
<line x1="1700.2" y1="941.97" x2="1732.72" y2="941.97" stroke="#000" stroke-width="1.1"/>
<circle cx="1716.17" cy="836.57" r="5.3" fill="#000" stroke="none" stroke-width="1"/>
<circle cx="1716.17" cy="903.65" r="5.3" fill="#000" stroke="none" stroke-width="1"/>
<circle cx="1716.17" cy="935.59" r="5.3" fill="#000" stroke="none" stroke-width="1"/>
<circle cx="1716.17" cy="948.65" r="5.3" fill="#000" stroke="none" stroke-width="1"/>
<circle cx="1727.78" cy="963.75" r="4.65" fill="#fff" stroke="#000" stroke-width="1.3"/>
<circle cx="1704.55" cy="971.88" r="4.65" fill="#fff" stroke="#000" stroke-width="1.3"/>
<line x1="1768" y1="759.05" x2="1768" y2="818.57" stroke="#ff2a00" stroke-width="1.1"/>
<line x1="1758.97" y1="759.05" x2="1777.02" y2="759.05" stroke="#ff2a00" stroke-width="1.1"/>
<line x1="1768" y1="915.26" x2="1768" y2="926" stroke="#ff2a00" stroke-width="1.1"/>
<line x1="1758.97" y1="926" x2="1777.02" y2="926" stroke="#ff2a00" stroke-width="1.1"/>
<rect x="1751.59" y="818.57" width="32.81" height="96.69" fill="#ffc6c0" stroke="#ff2a00" stroke-width="1.1"/>
<line x1="1751.59" y1="897.84" x2="1784.4" y2="897.84" stroke="#ff2a00" stroke-width="1.1"/>
<circle cx="1767.56" cy="759.05" r="5.3" fill="#ff2a00" stroke="none" stroke-width="1"/>
<circle cx="1767.56" cy="875.77" r="4.65" fill="#fff" stroke="#ff2a00" stroke-width="1.3"/>
<circle cx="1755.95" cy="897.84" r="4.65" fill="#fff" stroke="#ff2a00" stroke-width="1.3"/>
<circle cx="1779.18" cy="906.55" r="5.3" fill="#ff2a00" stroke="none" stroke-width="1"/>
<circle cx="1767.56" cy="926" r="4.65" fill="#fff" stroke="#ff2a00" stroke-width="1.3"/>
<line x1="1818.95" y1="826.41" x2="1818.95" y2="872.29" stroke="#000" stroke-width="1.1"/>
<line x1="1810.01" y1="826.41" x2="1827.9" y2="826.41" stroke="#000" stroke-width="1.1"/>
<rect x="1802.69" y="872.29" width="32.52" height="95.82" fill="#c0c0c0" stroke="#000" stroke-width="1.1"/>
<line x1="1802.69" y1="951.27" x2="1835.21" y2="951.27" stroke="#000" stroke-width="1.1"/>
<circle cx="1819.25" cy="826.41" r="5.3" fill="#000" stroke="none" stroke-width="1"/>
<circle cx="1819.25" cy="885.35" r="5.3" fill="#000" stroke="none" stroke-width="1"/>
<circle cx="1819.25" cy="939.07" r="5.3" fill="#000" stroke="none" stroke-width="1"/>
<circle cx="1819.25" cy="963.17" r="4.65" fill="#fff" stroke="#000" stroke-width="1.3"/>
<circle cx="1829.99" cy="965.78" r="5.3" fill="#000" stroke="none" stroke-width="1"/>
<circle cx="1807.05" cy="968.98" r="4.65" fill="#fff" stroke="#000" stroke-width="1.3"/>
<line x1="1870.35" y1="771.53" x2="1870.35" y2="830.19" stroke="#ff2a00" stroke-width="1.1"/>
<line x1="1861.41" y1="771.53" x2="1879.29" y2="771.53" stroke="#ff2a00" stroke-width="1.1"/>
<line x1="1870.35" y1="929.49" x2="1870.35" y2="957.07" stroke="#ff2a00" stroke-width="1.1"/>
<line x1="1861.41" y1="957.07" x2="1879.29" y2="957.07" stroke="#ff2a00" stroke-width="1.1"/>
<rect x="1854.09" y="830.19" width="32.52" height="99.3" fill="#ffc6c0" stroke="#ff2a00" stroke-width="1.1"/>
<line x1="1854.09" y1="891.16" x2="1886.61" y2="891.16" stroke="#ff2a00" stroke-width="1.1"/>
<circle cx="1870.06" cy="771.53" r="5.3" fill="#ff2a00" stroke="none" stroke-width="1"/>
<circle cx="1858.44" cy="890.29" r="4.65" fill="#fff" stroke="#ff2a00" stroke-width="1.3"/>
<circle cx="1881.67" cy="886.23" r="4.65" fill="#fff" stroke="#ff2a00" stroke-width="1.3"/>
<circle cx="1870.06" cy="902.78" r="5.3" fill="#ff2a00" stroke="none" stroke-width="1"/>
<circle cx="1870.06" cy="957.07" r="4.65" fill="#fff" stroke="#ff2a00" stroke-width="1.3"/>
<line x1="1921.89" y1="854.87" x2="1921.89" y2="875.77" stroke="#000" stroke-width="1.1"/>
<line x1="1912.86" y1="854.87" x2="1930.91" y2="854.87" stroke="#000" stroke-width="1.1"/>
<rect x="1905.48" y="875.77" width="32.81" height="92.33" fill="#c0c0c0" stroke="#000" stroke-width="1.1"/>
<line x1="1905.48" y1="946.91" x2="1938.29" y2="946.91" stroke="#000" stroke-width="1.1"/>
<circle cx="1921.45" cy="854.87" r="5.3" fill="#000" stroke="none" stroke-width="1"/>
<circle cx="1921.45" cy="881" r="5.3" fill="#000" stroke="none" stroke-width="1"/>
<circle cx="1921.45" cy="938.2" r="5.3" fill="#000" stroke="none" stroke-width="1"/>
<circle cx="1921.45" cy="956.49" r="5.3" fill="#000" stroke="none" stroke-width="1"/>
<circle cx="1910.13" cy="968.69" r="4.65" fill="#fff" stroke="#000" stroke-width="1.3"/>
<circle cx="1933.07" cy="968.11" r="4.65" fill="#fff" stroke="#000" stroke-width="1.3"/>
<line x1="1973.14" y1="743.08" x2="1973.14" y2="805.51" stroke="#ff2a00" stroke-width="1.1"/>
<line x1="1964.03" y1="743.08" x2="1982.24" y2="743.08" stroke="#ff2a00" stroke-width="1.1"/>
<rect x="1956.59" y="805.51" width="33.1" height="98.72" fill="#ffc6c0" stroke="#ff2a00" stroke-width="1.1"/>
<line x1="1956.59" y1="886.81" x2="1989.69" y2="886.81" stroke="#ff2a00" stroke-width="1.1"/>
<circle cx="1972.56" cy="743.08" r="5.3" fill="#ff2a00" stroke="none" stroke-width="1"/>
<circle cx="1972.56" cy="866.48" r="4.65" fill="#fff" stroke="#ff2a00" stroke-width="1.3"/>
<circle cx="1972.56" cy="886.81" r="4.65" fill="#fff" stroke="#ff2a00" stroke-width="1.3"/>
<circle cx="1984.17" cy="900.74" r="5.3" fill="#ff2a00" stroke="none" stroke-width="1"/>
<circle cx="1960.65" cy="904.81" r="4.65" fill="#fff" stroke="#ff2a00" stroke-width="1.3"/>
<rect x="1691" y="672" width="307.7" height="308.6" fill="none" stroke="#000" stroke-width="1.5"/>
<line x1="1687" y1="672" x2="1691" y2="672" stroke="#000" stroke-width="2"/>
<text x="0" y="0" font-size="23" text-anchor="end" transform="translate(1685.4 679.59) scale(1 1.04)">15</text>
<line x1="1687" y1="774.87" x2="1691" y2="774.87" stroke="#000" stroke-width="2"/>
<text x="0" y="0" font-size="23" text-anchor="end" transform="translate(1685.4 782.46) scale(1 1.04)">10</text>
<line x1="1687" y1="877.73" x2="1691" y2="877.73" stroke="#000" stroke-width="2"/>
<text x="0" y="0" font-size="23" text-anchor="end" transform="translate(1685.4 885.32) scale(1 1.04)">5</text>
<line x1="1687" y1="980.6" x2="1691" y2="980.6" stroke="#000" stroke-width="2"/>
<text x="0" y="0" font-size="23" text-anchor="end" transform="translate(1685.4 988.19) scale(1 1.04)">0</text>
<line x1="1742.9" y1="980.6" x2="1742.9" y2="986.1" stroke="#000" stroke-width="1.5"/>
<text x="0" y="0" font-size="21.8" text-anchor="middle" transform="translate(1742.9 1006.6) scale(1 1.08)">M1</text>
<line x1="1845.4" y1="980.6" x2="1845.4" y2="986.1" stroke="#000" stroke-width="1.5"/>
<text x="0" y="0" font-size="21.8" text-anchor="middle" transform="translate(1845.4 1006.6) scale(1 1.08)">NP</text>
<line x1="1947.6" y1="980.6" x2="1947.6" y2="986.1" stroke="#000" stroke-width="1.5"/>
<text x="0" y="0" font-size="21.8" text-anchor="middle" transform="translate(1947.6 1006.6) scale(1 1.08)">PB1</text>
<text x="0" y="0" font-size="19.2" textLength="48.3" lengthAdjust="spacingAndGlyphs" transform="translate(1692.6 689.3) scale(1 1.04)">CD8+</text>
<text x="0" y="0" font-size="19.2" transform="translate(1692.6 706.9) scale(1 1.04)">BAL</text>
<text x="0" y="0" font-size="19.2" text-anchor="end" textLength="68" lengthAdjust="spacingAndGlyphs" transform="translate(1995.6 690.9) scale(1 1.04)">Day 133</text>
<text x="0" y="0" font-size="23" text-anchor="middle" transform="translate(1466 826) rotate(-90) scale(1 1.04)">% Responding - BAL</text>
<text x="0" y="0" font-size="23" text-anchor="middle" transform="translate(1495 826) rotate(-90) scale(1 1.04)">(CD8<tspan font-size="14" dy="-9">+</tspan><tspan dy="9"> memory subset)</tspan></text>
<rect x="961.2" y="1031.1" width="1037.7" height="39.4" fill="none" stroke="#333" stroke-width="1.2"/>
<rect x="1271.4" y="1043.4" width="23.9" height="18.6" fill="#c0c0c0" stroke="#000" stroke-width="1.2"/>
<text x="0" y="0" font-size="22.2" textLength="149" lengthAdjust="spacingAndGlyphs" transform="translate(1308.5 1059.2) scale(1 1.04)">dd CyCMV/Flu</text>
<rect x="1504.7" y="1043.4" width="23.9" height="18.6" fill="#fdb4b4" stroke="#f80008" stroke-width="1.2"/>
<text x="0" y="0" font-size="22.2" fill="#f80008" textLength="152" lengthAdjust="spacingAndGlyphs" transform="translate(1541.8 1059.2) scale(1 1.04)">FL CyCMV/Flu</text>
<text x="0" y="0" font-size="42.5" transform="translate(0 719.8) scale(1 1.04)">D</text>
<line x1="128.26" y1="1006.13" x2="128.26" y2="1010.98" stroke="#000" stroke-width="1.4"/>
<line x1="119.23" y1="1010.98" x2="137.28" y2="1010.98" stroke="#000" stroke-width="1.4"/>
<rect x="111.85" y="993.29" width="32.81" height="12.84" fill="#b4b4b4" stroke="#000" stroke-width="1.4"/>
<line x1="111.85" y1="1004.71" x2="144.66" y2="1004.71" stroke="#000" stroke-width="1.4"/>
<circle cx="128.11" cy="969.61" r="4.2" fill="#000" stroke="none" stroke-width="1"/>
<circle cx="123.55" cy="999.57" r="4.2" fill="#000" stroke="none" stroke-width="1"/>
<circle cx="114.99" cy="1001.57" r="3.45" fill="#fff" stroke="#000" stroke-width="1.5"/>
<circle cx="132.68" cy="1005.28" r="4.2" fill="#000" stroke="none" stroke-width="1"/>
<circle cx="141.24" cy="1004.42" r="3.45" fill="#fff" stroke="#000" stroke-width="1.5"/>
<circle cx="114.99" cy="1010.98" r="4.2" fill="#000" stroke="none" stroke-width="1"/>
<line x1="179.05" y1="965.33" x2="179.05" y2="968.18" stroke="#fa0000" stroke-width="1.4"/>
<line x1="170.02" y1="965.33" x2="188.07" y2="965.33" stroke="#fa0000" stroke-width="1.4"/>
<line x1="179.05" y1="1006.13" x2="179.05" y2="1008.13" stroke="#fa0000" stroke-width="1.4"/>
<line x1="170.02" y1="1008.13" x2="188.07" y2="1008.13" stroke="#fa0000" stroke-width="1.4"/>
<rect x="162.64" y="968.18" width="32.81" height="37.95" fill="#fdb8b3" stroke="#fa0000" stroke-width="1.4"/>
<line x1="162.64" y1="988.16" x2="195.45" y2="988.16" stroke="#fa0000" stroke-width="1.4"/>
<circle cx="171.77" cy="964.48" r="3.45" fill="#fff" stroke="#fa0000" stroke-width="1.5"/>
<circle cx="186.89" cy="968.18" r="3.45" fill="#fff" stroke="#fa0000" stroke-width="1.5"/>
<circle cx="179.19" cy="976.74" r="4.2" fill="#fa0000" stroke="none" stroke-width="1"/>
<circle cx="171.77" cy="1000.14" r="3.45" fill="#fff" stroke="#fa0000" stroke-width="1.5"/>
<circle cx="171.77" cy="1009.56" r="4.2" fill="#fa0000" stroke="none" stroke-width="1"/>
<circle cx="186.89" cy="1006.7" r="4.2" fill="#fa0000" stroke="none" stroke-width="1"/>
<line x1="230.4" y1="938.22" x2="230.4" y2="946.78" stroke="#000" stroke-width="1.4"/>
<line x1="221.38" y1="938.22" x2="239.43" y2="938.22" stroke="#000" stroke-width="1.4"/>
<line x1="230.4" y1="990.15" x2="230.4" y2="996.72" stroke="#000" stroke-width="1.4"/>
<line x1="221.38" y1="996.72" x2="239.43" y2="996.72" stroke="#000" stroke-width="1.4"/>
<rect x="214" y="946.78" width="32.81" height="43.37" fill="#b4b4b4" stroke="#000" stroke-width="1.4"/>
<line x1="214" y1="966.19" x2="246.81" y2="966.19" stroke="#000" stroke-width="1.4"/>
<circle cx="230.55" cy="938.22" r="4.2" fill="#000" stroke="none" stroke-width="1"/>
<circle cx="223.13" cy="948.21" r="4.2" fill="#000" stroke="none" stroke-width="1"/>
<circle cx="238.25" cy="954.49" r="4.2" fill="#000" stroke="none" stroke-width="1"/>
<circle cx="230.55" cy="978.17" r="3.45" fill="#fff" stroke="#000" stroke-width="1.5"/>
<circle cx="230.55" cy="989.01" r="4.2" fill="#000" stroke="none" stroke-width="1"/>
<circle cx="230.55" cy="996.72" r="3.45" fill="#fff" stroke="#000" stroke-width="1.5"/>
<line x1="281.76" y1="901.7" x2="281.76" y2="912.54" stroke="#fa0000" stroke-width="1.4"/>
<line x1="272.74" y1="901.7" x2="290.79" y2="901.7" stroke="#fa0000" stroke-width="1.4"/>
<line x1="281.76" y1="973.89" x2="281.76" y2="989.58" stroke="#fa0000" stroke-width="1.4"/>
<line x1="272.74" y1="989.58" x2="290.79" y2="989.58" stroke="#fa0000" stroke-width="1.4"/>
<rect x="265.36" y="912.54" width="32.81" height="61.35" fill="#fdb8b3" stroke="#fa0000" stroke-width="1.4"/>
<line x1="265.36" y1="949.64" x2="298.17" y2="949.64" stroke="#fa0000" stroke-width="1.4"/>
<circle cx="281.91" cy="901.7" r="3.45" fill="#fff" stroke="#fa0000" stroke-width="1.5"/>
<circle cx="281.91" cy="915.4" r="3.45" fill="#fff" stroke="#fa0000" stroke-width="1.5"/>
<circle cx="281.91" cy="936.8" r="3.45" fill="#fff" stroke="#fa0000" stroke-width="1.5"/>
<circle cx="274.49" cy="963.33" r="4.2" fill="#fa0000" stroke="none" stroke-width="1"/>
<circle cx="289.61" cy="970.18" r="4.2" fill="#fa0000" stroke="none" stroke-width="1"/>
<circle cx="281.91" cy="989.58" r="4.2" fill="#fa0000" stroke="none" stroke-width="1"/>
<line x1="332.55" y1="769.02" x2="332.55" y2="772.73" stroke="#000" stroke-width="1.4"/>
<line x1="323.53" y1="769.02" x2="341.58" y2="769.02" stroke="#000" stroke-width="1.4"/>
<line x1="332.55" y1="826.95" x2="332.55" y2="853.2" stroke="#000" stroke-width="1.4"/>
<line x1="323.53" y1="853.2" x2="341.58" y2="853.2" stroke="#000" stroke-width="1.4"/>
<rect x="316.15" y="772.73" width="32.81" height="54.21" fill="#b4b4b4" stroke="#000" stroke-width="1.4"/>
<line x1="316.15" y1="793.56" x2="348.96" y2="793.56" stroke="#000" stroke-width="1.4"/>
<circle cx="340.97" cy="767.88" r="3.45" fill="#fff" stroke="#000" stroke-width="1.5"/>
<circle cx="325.28" cy="773.3" r="4.2" fill="#000" stroke="none" stroke-width="1"/>
<circle cx="332.98" cy="785.57" r="3.45" fill="#fff" stroke="#000" stroke-width="1.5"/>
<circle cx="332.98" cy="801.27" r="4.2" fill="#000" stroke="none" stroke-width="1"/>
<circle cx="332.98" cy="818.96" r="4.2" fill="#000" stroke="none" stroke-width="1"/>
<circle cx="332.98" cy="853.2" r="4.2" fill="#000" stroke="none" stroke-width="1"/>
<line x1="383.91" y1="774.16" x2="383.91" y2="787" stroke="#fa0000" stroke-width="1.4"/>
<line x1="374.89" y1="774.16" x2="392.94" y2="774.16" stroke="#fa0000" stroke-width="1.4"/>
<line x1="383.91" y1="864.61" x2="383.91" y2="884.01" stroke="#fa0000" stroke-width="1.4"/>
<line x1="374.89" y1="884.01" x2="392.94" y2="884.01" stroke="#fa0000" stroke-width="1.4"/>
<rect x="367.51" y="787" width="32.81" height="77.61" fill="#fdb8b3" stroke="#fa0000" stroke-width="1.4"/>
<line x1="367.51" y1="843.49" x2="400.32" y2="843.49" stroke="#fa0000" stroke-width="1.4"/>
<circle cx="384.63" cy="774.16" r="4.2" fill="#fa0000" stroke="none" stroke-width="1"/>
<circle cx="384.63" cy="789.85" r="4.2" fill="#fa0000" stroke="none" stroke-width="1"/>
<circle cx="384.63" cy="833.51" r="4.2" fill="#fa0000" stroke="none" stroke-width="1"/>
<circle cx="376.64" cy="853.48" r="3.45" fill="#fff" stroke="#fa0000" stroke-width="1.5"/>
<circle cx="392.33" cy="858.33" r="3.45" fill="#fff" stroke="#fa0000" stroke-width="1.5"/>
<circle cx="384.63" cy="884.01" r="3.45" fill="#fff" stroke="#fa0000" stroke-width="1.5"/>
<rect x="102.6" y="717.1" width="307.1" height="306.7" fill="none" stroke="#000" stroke-width="1.7"/>
<line x1="98.6" y1="717.1" x2="102.6" y2="717.1" stroke="#000" stroke-width="2"/>
<text x="0" y="0" font-size="23" text-anchor="end" transform="translate(97.1 724.69) scale(1 1.04)">100</text>
<line x1="98.6" y1="778.44" x2="102.6" y2="778.44" stroke="#000" stroke-width="2"/>
<text x="0" y="0" font-size="23" text-anchor="end" transform="translate(97.1 786.03) scale(1 1.04)">80</text>
<line x1="98.6" y1="839.78" x2="102.6" y2="839.78" stroke="#000" stroke-width="2"/>
<text x="0" y="0" font-size="23" text-anchor="end" transform="translate(97.1 847.37) scale(1 1.04)">60</text>
<line x1="98.6" y1="901.12" x2="102.6" y2="901.12" stroke="#000" stroke-width="2"/>
<text x="0" y="0" font-size="23" text-anchor="end" transform="translate(97.1 908.71) scale(1 1.04)">40</text>
<line x1="98.6" y1="962.46" x2="102.6" y2="962.46" stroke="#000" stroke-width="2"/>
<text x="0" y="0" font-size="23" text-anchor="end" transform="translate(97.1 970.05) scale(1 1.04)">20</text>
<line x1="98.6" y1="1023.8" x2="102.6" y2="1023.8" stroke="#000" stroke-width="2"/>
<text x="0" y="0" font-size="23" text-anchor="end" transform="translate(97.1 1031.39) scale(1 1.04)">0</text>
<line x1="153.6" y1="1023.8" x2="153.6" y2="1028.3" stroke="#000" stroke-width="1.6"/>
<line x1="255.8" y1="1023.8" x2="255.8" y2="1028.3" stroke="#000" stroke-width="1.6"/>
<line x1="358.1" y1="1023.8" x2="358.1" y2="1028.3" stroke="#000" stroke-width="1.6"/>
<text x="0" y="0" font-size="20.7" text-anchor="middle" transform="translate(153.6 1048.9) scale(1 1.04)">(T<tspan font-size="12.5" dy="7">CM</tspan><tspan dy="-7">)</tspan></text>
<text x="0" y="0" font-size="20.7" text-anchor="middle" transform="translate(256.3 1048.9) scale(1 1.04)">(T<tspan font-size="12.5" dy="7">TrEM</tspan><tspan dy="-7">)</tspan></text>
<text x="0" y="0" font-size="20.7" text-anchor="middle" transform="translate(358.5 1048.9) scale(1 1.04)">(T<tspan font-size="12.5" dy="7">EM</tspan><tspan dy="-7">)</tspan></text>
<text x="0" y="0" font-size="14.2" text-anchor="middle" textLength="95.1" lengthAdjust="spacingAndGlyphs" transform="translate(153.9 1074.4) scale(1 1.04)">CD28+/CCR7+</text>
<text x="0" y="0" font-size="14.2" text-anchor="middle" textLength="92.3" lengthAdjust="spacingAndGlyphs" transform="translate(256.4 1074.4) scale(1 1.04)">CD28+/CCR7-</text>
<text x="0" y="0" font-size="14.2" text-anchor="middle" textLength="88.7" lengthAdjust="spacingAndGlyphs" transform="translate(358.8 1074.4) scale(1 1.04)">CD28-/CCR7-</text>
<text x="0" y="0" font-size="19.2" textLength="48.3" lengthAdjust="spacingAndGlyphs" transform="translate(107.4 736.8) scale(1 1.04)">CD4+</text>
<text x="0" y="0" font-size="19.2" textLength="54.4" lengthAdjust="spacingAndGlyphs" transform="translate(107.4 755) scale(1 1.04)">PBMC</text>
<text x="0" y="0" font-size="21.8" text-anchor="middle" transform="translate(29 869.5) rotate(-90) scale(1 1.04)">% of NP Responding</text>
<text x="0" y="0" font-size="21.8" text-anchor="middle" transform="translate(55 869.5) rotate(-90) scale(1 1.04)">CD4<tspan font-size="14" dy="-9">+</tspan><tspan dy="9"> T cells</tspan></text>
<line x1="550.54" y1="1009.56" x2="550.54" y2="1013.27" stroke="#000" stroke-width="1.4"/>
<line x1="541.52" y1="1009.56" x2="559.56" y2="1009.56" stroke="#000" stroke-width="1.4"/>
<rect x="534.13" y="1013.27" width="32.81" height="6.28" fill="#b4b4b4" stroke="#000" stroke-width="1.4"/>
<line x1="534.13" y1="1016.69" x2="566.95" y2="1016.69" stroke="#000" stroke-width="1.4"/>
<circle cx="537.56" cy="1016.69" r="4.2" fill="#000" stroke="none" stroke-width="1"/>
<circle cx="544.12" cy="1014.41" r="4.2" fill="#000" stroke="none" stroke-width="1"/>
<circle cx="550.68" cy="1008.7" r="3.45" fill="#fff" stroke="#000" stroke-width="1.5"/>
<circle cx="550.68" cy="1016.69" r="3.45" fill="#fff" stroke="#000" stroke-width="1.5"/>
<circle cx="557.53" cy="1014.41" r="4.2" fill="#000" stroke="none" stroke-width="1"/>
<circle cx="564.09" cy="1018.12" r="4.2" fill="#000" stroke="none" stroke-width="1"/>
<line x1="601.9" y1="1019.54" x2="601.9" y2="1020.97" stroke="#fa0000" stroke-width="1.4"/>
<line x1="592.87" y1="1020.97" x2="610.92" y2="1020.97" stroke="#fa0000" stroke-width="1.4"/>
<rect x="585.49" y="1001.85" width="32.81" height="17.69" fill="#fdb8b3" stroke="#fa0000" stroke-width="1.4"/>
<line x1="585.49" y1="1012.41" x2="618.31" y2="1012.41" stroke="#fa0000" stroke-width="1.4"/>
<circle cx="588.92" cy="1000.14" r="3.45" fill="#fff" stroke="#fa0000" stroke-width="1.5"/>
<circle cx="615.45" cy="1003.28" r="3.45" fill="#fff" stroke="#fa0000" stroke-width="1.5"/>
<circle cx="588.92" cy="1008.7" r="4.2" fill="#fa0000" stroke="none" stroke-width="1"/>
<circle cx="602.04" cy="1014.41" r="4.2" fill="#fa0000" stroke="none" stroke-width="1"/>
<circle cx="615.45" cy="1015.83" r="3.45" fill="#fff" stroke="#fa0000" stroke-width="1.5"/>
<circle cx="588.92" cy="1020.11" r="4.2" fill="#fa0000" stroke="none" stroke-width="1"/>
<line x1="653.26" y1="971.89" x2="653.26" y2="989.01" stroke="#000" stroke-width="1.4"/>
<line x1="644.23" y1="971.89" x2="662.28" y2="971.89" stroke="#000" stroke-width="1.4"/>
<line x1="653.26" y1="1010.98" x2="653.26" y2="1017.55" stroke="#000" stroke-width="1.4"/>
<line x1="644.23" y1="1017.55" x2="662.28" y2="1017.55" stroke="#000" stroke-width="1.4"/>
<rect x="636.85" y="989.01" width="32.81" height="21.97" fill="#b4b4b4" stroke="#000" stroke-width="1.4"/>
<line x1="636.85" y1="1000.14" x2="669.66" y2="1000.14" stroke="#000" stroke-width="1.4"/>
<circle cx="653.4" cy="971.89" r="4.2" fill="#000" stroke="none" stroke-width="1"/>
<circle cx="645.41" cy="993.86" r="3.45" fill="#fff" stroke="#000" stroke-width="1.5"/>
<circle cx="661.1" cy="997.29" r="4.2" fill="#000" stroke="none" stroke-width="1"/>
<circle cx="645.41" cy="1002.42" r="4.2" fill="#000" stroke="none" stroke-width="1"/>
<circle cx="661.1" cy="1008.99" r="3.45" fill="#fff" stroke="#000" stroke-width="1.5"/>
<circle cx="653.4" cy="1017.55" r="4.2" fill="#000" stroke="none" stroke-width="1"/>
<line x1="704.33" y1="968.18" x2="704.33" y2="982.45" stroke="#fa0000" stroke-width="1.4"/>
<line x1="695.47" y1="968.18" x2="713.2" y2="968.18" stroke="#fa0000" stroke-width="1.4"/>
<line x1="704.33" y1="1004.42" x2="704.33" y2="1010.13" stroke="#fa0000" stroke-width="1.4"/>
<line x1="695.47" y1="1010.13" x2="713.2" y2="1010.13" stroke="#fa0000" stroke-width="1.4"/>
<rect x="688.21" y="982.45" width="32.24" height="21.97" fill="#fdb8b3" stroke="#fa0000" stroke-width="1.4"/>
<line x1="688.21" y1="997.29" x2="720.45" y2="997.29" stroke="#fa0000" stroke-width="1.4"/>
<circle cx="704.48" cy="985.87" r="4.2" fill="#fa0000" stroke="none" stroke-width="1"/>
<circle cx="711.89" cy="993.86" r="3.45" fill="#fff" stroke="#fa0000" stroke-width="1.5"/>
<circle cx="696.77" cy="999.57" r="4.2" fill="#fa0000" stroke="none" stroke-width="1"/>
<circle cx="711.89" cy="1003.28" r="4.2" fill="#fa0000" stroke="none" stroke-width="1"/>
<circle cx="696.77" cy="1010.13" r="3.45" fill="#fff" stroke="#fa0000" stroke-width="1.5"/>
<line x1="755.41" y1="761.32" x2="755.41" y2="772.73" stroke="#000" stroke-width="1.4"/>
<line x1="746.38" y1="772.73" x2="764.43" y2="772.73" stroke="#000" stroke-width="1.4"/>
<rect x="739" y="737.64" width="32.81" height="23.68" fill="#b4b4b4" stroke="#000" stroke-width="1.4"/>
<line x1="739" y1="744.2" x2="771.81" y2="744.2" stroke="#000" stroke-width="1.4"/>
<circle cx="742.42" cy="738.49" r="4.2" fill="#000" stroke="none" stroke-width="1"/>
<circle cx="750.41" cy="744.2" r="4.2" fill="#000" stroke="none" stroke-width="1"/>
<circle cx="759.54" cy="744.2" r="4.2" fill="#000" stroke="none" stroke-width="1"/>
<circle cx="768.67" cy="737.64" r="3.45" fill="#fff" stroke="#000" stroke-width="1.5"/>
<circle cx="755.83" cy="758.47" r="3.45" fill="#fff" stroke="#000" stroke-width="1.5"/>
<circle cx="755.83" cy="772.73" r="4.2" fill="#000" stroke="none" stroke-width="1"/>
<line x1="806.77" y1="774.16" x2="806.77" y2="792.71" stroke="#fa0000" stroke-width="1.4"/>
<line x1="797.74" y1="792.71" x2="815.79" y2="792.71" stroke="#fa0000" stroke-width="1.4"/>
<rect x="790.36" y="737.64" width="32.81" height="36.52" fill="#fdb8b3" stroke="#fa0000" stroke-width="1.4"/>
<line x1="790.36" y1="765.03" x2="823.17" y2="765.03" stroke="#fa0000" stroke-width="1.4"/>
<circle cx="800.06" cy="737.07" r="4.2" fill="#fa0000" stroke="none" stroke-width="1"/>
<circle cx="813.19" cy="734.78" r="3.45" fill="#fff" stroke="#fa0000" stroke-width="1.5"/>
<circle cx="793.78" cy="762.18" r="3.45" fill="#fff" stroke="#fa0000" stroke-width="1.5"/>
<circle cx="806.62" cy="769.31" r="4.2" fill="#fa0000" stroke="none" stroke-width="1"/>
<circle cx="819.46" cy="769.02" r="4.2" fill="#fa0000" stroke="none" stroke-width="1"/>
<circle cx="806.62" cy="792.71" r="3.45" fill="#fff" stroke="#fa0000" stroke-width="1.5"/>
<rect x="525.6" y="715.4" width="306.6" height="307.2" fill="none" stroke="#000" stroke-width="1.7"/>
<line x1="521.6" y1="715.4" x2="525.6" y2="715.4" stroke="#000" stroke-width="2"/>
<text x="0" y="0" font-size="23" text-anchor="end" transform="translate(520.1 722.99) scale(1 1.04)">100</text>
<line x1="521.6" y1="776.84" x2="525.6" y2="776.84" stroke="#000" stroke-width="2"/>
<text x="0" y="0" font-size="23" text-anchor="end" transform="translate(520.1 784.43) scale(1 1.04)">80</text>
<line x1="521.6" y1="838.28" x2="525.6" y2="838.28" stroke="#000" stroke-width="2"/>
<text x="0" y="0" font-size="23" text-anchor="end" transform="translate(520.1 845.87) scale(1 1.04)">60</text>
<line x1="521.6" y1="899.72" x2="525.6" y2="899.72" stroke="#000" stroke-width="2"/>
<text x="0" y="0" font-size="23" text-anchor="end" transform="translate(520.1 907.31) scale(1 1.04)">40</text>
<line x1="521.6" y1="961.16" x2="525.6" y2="961.16" stroke="#000" stroke-width="2"/>
<text x="0" y="0" font-size="23" text-anchor="end" transform="translate(520.1 968.75) scale(1 1.04)">20</text>
<line x1="521.6" y1="1022.6" x2="525.6" y2="1022.6" stroke="#000" stroke-width="2"/>
<text x="0" y="0" font-size="23" text-anchor="end" transform="translate(520.1 1030.19) scale(1 1.04)">0</text>
<line x1="574.1" y1="1022.6" x2="574.1" y2="1027.1" stroke="#000" stroke-width="1.6"/>
<line x1="679.1" y1="1022.6" x2="679.1" y2="1027.1" stroke="#000" stroke-width="1.6"/>
<line x1="782.4" y1="1022.6" x2="782.4" y2="1027.1" stroke="#000" stroke-width="1.6"/>
<text x="0" y="0" font-size="20.7" text-anchor="middle" transform="translate(574.1 1048.9) scale(1 1.04)">(T<tspan font-size="12.5" dy="7">CM</tspan><tspan dy="-7">)</tspan></text>
<text x="0" y="0" font-size="20.7" text-anchor="middle" transform="translate(679.1 1048.9) scale(1 1.04)">(T<tspan font-size="12.5" dy="7">TrEM</tspan><tspan dy="-7">)</tspan></text>
<text x="0" y="0" font-size="20.7" text-anchor="middle" transform="translate(782.4 1048.9) scale(1 1.04)">(T<tspan font-size="12.5" dy="7">EM</tspan><tspan dy="-7">)</tspan></text>
<text x="0" y="0" font-size="14.2" text-anchor="middle" textLength="95.1" lengthAdjust="spacingAndGlyphs" transform="translate(574.1 1074.4) scale(1 1.04)">CD28+/CCR7+</text>
<text x="0" y="0" font-size="14.2" text-anchor="middle" textLength="92.3" lengthAdjust="spacingAndGlyphs" transform="translate(679.1 1074.4) scale(1 1.04)">CD28+/CCR7-</text>
<text x="0" y="0" font-size="14.2" text-anchor="middle" textLength="88.7" lengthAdjust="spacingAndGlyphs" transform="translate(781.8 1074.4) scale(1 1.04)">CD28-/CCR7-</text>
<text x="0" y="0" font-size="19.2" textLength="48.3" lengthAdjust="spacingAndGlyphs" transform="translate(529.8 735.5) scale(1 1.04)">CD8+</text>
<text x="0" y="0" font-size="19.2" textLength="54.4" lengthAdjust="spacingAndGlyphs" transform="translate(529.8 753.7) scale(1 1.04)">PBMC</text>
<text x="0" y="0" font-size="21.8" text-anchor="middle" transform="translate(453 869.5) rotate(-90) scale(1 1.04)">% of NP Responding</text>
<text x="0" y="0" font-size="21.8" text-anchor="middle" transform="translate(479 869.5) rotate(-90) scale(1 1.04)">CD8<tspan font-size="14" dy="-9">+</tspan><tspan dy="9"> T cells</tspan></text>
<rect x="102.5" y="1078.5" width="730.7" height="40" fill="none" stroke="#000" stroke-width="1.2"/>
<rect x="256.3" y="1087.6" width="24" height="18.5" fill="#c0c0c0" stroke="#000" stroke-width="1.2"/>
<text x="0" y="0" font-size="22.1" transform="translate(293.8 1104.4) scale(1 1.04)">dd CyCMV/Flu</text>
<rect x="489.9" y="1087.6" width="23.4" height="18.5" fill="#fdb4b4" stroke="#f80008" stroke-width="1.2"/>
<text x="0" y="0" font-size="22.1" fill="#f80008" textLength="152.7" lengthAdjust="spacingAndGlyphs" transform="translate(527 1104.4) scale(1 1.04)">FL CyCMV/Flu</text>
<text x="0" y="0" font-size="42.5" transform="translate(0 1162.9) scale(1 1.04)">E</text>
<text x="0" y="0" font-size="22.2" textLength="158.2" lengthAdjust="spacingAndGlyphs" transform="translate(131.4 1167.1) scale(1 1.04)">dd CyCMV/Flu:</text>
<line x1="131.4" y1="1170.4" x2="289.6" y2="1170.4" stroke="#000" stroke-width="2"/>
<text x="0" y="0" font-size="22.8" transform="translate(32.3 1198.1) scale(1 1.04)">PA62</text>
<line x1="111.2" y1="1190.3" x2="339.95" y2="1190.3" stroke="#000" stroke-width="1.3"/>
<rect x="111.2" y="1182.5" width="15.25" height="15.8" fill="#0000fa" stroke="#000" stroke-width="0.9"/>
<text x="118.83" y="1193.1" font-size="7.6" font-weight="bold" text-anchor="middle" font-family="'DejaVu Sans Condensed','DejaVu Sans',sans-serif" fill="#000">1</text>
<rect x="156.95" y="1182.5" width="15.25" height="15.8" fill="#2aeb14" stroke="#000" stroke-width="0.9"/>
<text x="164.57" y="1193.1" font-size="7.6" font-weight="bold" text-anchor="middle" font-family="'DejaVu Sans Condensed','DejaVu Sans',sans-serif" fill="#000">4</text>
<rect x="172.2" y="1182.5" width="15.25" height="15.8" fill="#2aeb14" stroke="#000" stroke-width="0.9"/>
<text x="179.82" y="1193.1" font-size="7.6" font-weight="bold" text-anchor="middle" font-family="'DejaVu Sans Condensed','DejaVu Sans',sans-serif" fill="#000">5</text>
<rect x="217.95" y="1182.5" width="15.25" height="15.8" fill="#8c14ff" stroke="#000" stroke-width="0.9"/>
<text x="225.57" y="1193.1" font-size="7.6" font-weight="bold" text-anchor="middle" font-family="'DejaVu Sans Condensed','DejaVu Sans',sans-serif" fill="#000">8</text>
<rect x="233.2" y="1182.5" width="15.25" height="15.8" fill="#0000fa" stroke="#000" stroke-width="0.9"/>
<text x="240.82" y="1193.1" font-size="7.6" font-weight="bold" text-anchor="middle" font-family="'DejaVu Sans Condensed','DejaVu Sans',sans-serif" fill="#000">9</text>
<rect x="294.2" y="1182.5" width="15.25" height="15.8" fill="#2aeb14" stroke="#000" stroke-width="0.9"/>
<text x="301.82" y="1193.1" font-size="7.6" font-weight="bold" text-anchor="middle" font-family="'DejaVu Sans Condensed','DejaVu Sans',sans-serif" fill="#000">13</text>
<rect x="309.45" y="1182.5" width="15.25" height="15.8" fill="#2aeb14" stroke="#000" stroke-width="0.9"/>
<text x="317.07" y="1193.1" font-size="7.6" font-weight="bold" text-anchor="middle" font-family="'DejaVu Sans Condensed','DejaVu Sans',sans-serif" fill="#000">14</text>
<text x="0" y="0" font-size="22.8" transform="translate(32.3 1236.4) scale(1 1.04)">PA63</text>
<line x1="111.2" y1="1228.6" x2="339.95" y2="1228.6" stroke="#000" stroke-width="1.3"/>
<rect x="126.45" y="1220.8" width="15.25" height="15.8" fill="#0000fa" stroke="#000" stroke-width="0.9"/>
<text x="134.07" y="1231.4" font-size="7.6" font-weight="bold" text-anchor="middle" font-family="'DejaVu Sans Condensed','DejaVu Sans',sans-serif" fill="#000">2</text>
<rect x="141.7" y="1220.8" width="15.25" height="15.8" fill="#8c14ff" stroke="#000" stroke-width="0.9"/>
<text x="149.32" y="1231.4" font-size="7.6" font-weight="bold" text-anchor="middle" font-family="'DejaVu Sans Condensed','DejaVu Sans',sans-serif" fill="#000">3</text>
<rect x="156.95" y="1220.8" width="15.25" height="15.8" fill="#2aeb14" stroke="#000" stroke-width="0.9"/>
<text x="164.57" y="1231.4" font-size="7.6" font-weight="bold" text-anchor="middle" font-family="'DejaVu Sans Condensed','DejaVu Sans',sans-serif" fill="#000">4</text>
<rect x="172.2" y="1220.8" width="15.25" height="15.8" fill="#0000fa" stroke="#000" stroke-width="0.9"/>
<text x="179.82" y="1231.4" font-size="7.6" font-weight="bold" text-anchor="middle" font-family="'DejaVu Sans Condensed','DejaVu Sans',sans-serif" fill="#000">5</text>
<rect x="217.95" y="1220.8" width="15.25" height="15.8" fill="#0000fa" stroke="#000" stroke-width="0.9"/>
<text x="225.57" y="1231.4" font-size="7.6" font-weight="bold" text-anchor="middle" font-family="'DejaVu Sans Condensed','DejaVu Sans',sans-serif" fill="#000">8</text>
<rect x="248.45" y="1220.8" width="15.25" height="15.8" fill="#8c14ff" stroke="#000" stroke-width="0.9"/>
<text x="256.07" y="1231.4" font-size="7.6" font-weight="bold" text-anchor="middle" font-family="'DejaVu Sans Condensed','DejaVu Sans',sans-serif" fill="#000">10</text>
<rect x="263.7" y="1220.8" width="15.25" height="15.8" fill="#2aeb14" stroke="#000" stroke-width="0.9"/>
<text x="271.32" y="1231.4" font-size="7.6" font-weight="bold" text-anchor="middle" font-family="'DejaVu Sans Condensed','DejaVu Sans',sans-serif" fill="#000">11</text>
<rect x="294.2" y="1220.8" width="15.25" height="15.8" fill="#2aeb14" stroke="#000" stroke-width="0.9"/>
<text x="301.82" y="1231.4" font-size="7.6" font-weight="bold" text-anchor="middle" font-family="'DejaVu Sans Condensed','DejaVu Sans',sans-serif" fill="#000">13</text>
<rect x="309.45" y="1220.8" width="15.25" height="15.8" fill="#2aeb14" stroke="#000" stroke-width="0.9"/>
<text x="317.07" y="1231.4" font-size="7.6" font-weight="bold" text-anchor="middle" font-family="'DejaVu Sans Condensed','DejaVu Sans',sans-serif" fill="#000">14</text>
<text x="0" y="0" font-size="22.8" transform="translate(32.3 1274.7) scale(1 1.04)">PA70</text>
<line x1="111.2" y1="1266.9" x2="339.95" y2="1266.9" stroke="#000" stroke-width="1.3"/>
<rect x="156.95" y="1259.1" width="15.25" height="15.8" fill="#2aeb14" stroke="#000" stroke-width="0.9"/>
<text x="164.57" y="1269.7" font-size="7.6" font-weight="bold" text-anchor="middle" font-family="'DejaVu Sans Condensed','DejaVu Sans',sans-serif" fill="#000">4</text>
<rect x="172.2" y="1259.1" width="15.25" height="15.8" fill="#2aeb14" stroke="#000" stroke-width="0.9"/>
<text x="179.82" y="1269.7" font-size="7.6" font-weight="bold" text-anchor="middle" font-family="'DejaVu Sans Condensed','DejaVu Sans',sans-serif" fill="#000">5</text>
<rect x="217.95" y="1259.1" width="15.25" height="15.8" fill="#0000fa" stroke="#000" stroke-width="0.9"/>
<text x="225.57" y="1269.7" font-size="7.6" font-weight="bold" text-anchor="middle" font-family="'DejaVu Sans Condensed','DejaVu Sans',sans-serif" fill="#000">8</text>
<rect x="263.7" y="1259.1" width="15.25" height="15.8" fill="#2aeb14" stroke="#000" stroke-width="0.9"/>
<text x="271.32" y="1269.7" font-size="7.6" font-weight="bold" text-anchor="middle" font-family="'DejaVu Sans Condensed','DejaVu Sans',sans-serif" fill="#000">11</text>
<rect x="278.95" y="1259.1" width="15.25" height="15.8" fill="#2aeb14" stroke="#000" stroke-width="0.9"/>
<text x="286.57" y="1269.7" font-size="7.6" font-weight="bold" text-anchor="middle" font-family="'DejaVu Sans Condensed','DejaVu Sans',sans-serif" fill="#000">12</text>
<text x="0" y="0" font-size="22.8" transform="translate(32.3 1313) scale(1 1.04)">PA71</text>
<line x1="111.2" y1="1305.2" x2="339.95" y2="1305.2" stroke="#000" stroke-width="1.3"/>
<rect x="111.2" y="1297.4" width="15.25" height="15.8" fill="#0000fa" stroke="#000" stroke-width="0.9"/>
<text x="118.83" y="1308" font-size="7.6" font-weight="bold" text-anchor="middle" font-family="'DejaVu Sans Condensed','DejaVu Sans',sans-serif" fill="#000">1</text>
<rect x="141.7" y="1297.4" width="15.25" height="15.8" fill="#2aeb14" stroke="#000" stroke-width="0.9"/>
<text x="149.32" y="1308" font-size="7.6" font-weight="bold" text-anchor="middle" font-family="'DejaVu Sans Condensed','DejaVu Sans',sans-serif" fill="#000">3</text>
<rect x="156.95" y="1297.4" width="15.25" height="15.8" fill="#2aeb14" stroke="#000" stroke-width="0.9"/>
<text x="164.57" y="1308" font-size="7.6" font-weight="bold" text-anchor="middle" font-family="'DejaVu Sans Condensed','DejaVu Sans',sans-serif" fill="#000">4</text>
<rect x="187.45" y="1297.4" width="15.25" height="15.8" fill="#0000fa" stroke="#000" stroke-width="0.9"/>
<text x="195.07" y="1308" font-size="7.6" font-weight="bold" text-anchor="middle" font-family="'DejaVu Sans Condensed','DejaVu Sans',sans-serif" fill="#000">6</text>
<rect x="217.95" y="1297.4" width="15.25" height="15.8" fill="#0000fa" stroke="#000" stroke-width="0.9"/>
<text x="225.57" y="1308" font-size="7.6" font-weight="bold" text-anchor="middle" font-family="'DejaVu Sans Condensed','DejaVu Sans',sans-serif" fill="#000">8</text>
<rect x="233.2" y="1297.4" width="15.25" height="15.8" fill="#0000fa" stroke="#000" stroke-width="0.9"/>
<text x="240.82" y="1308" font-size="7.6" font-weight="bold" text-anchor="middle" font-family="'DejaVu Sans Condensed','DejaVu Sans',sans-serif" fill="#000">9</text>
<rect x="248.45" y="1297.4" width="15.25" height="15.8" fill="#2aeb14" stroke="#000" stroke-width="0.9"/>
<text x="256.07" y="1308" font-size="7.6" font-weight="bold" text-anchor="middle" font-family="'DejaVu Sans Condensed','DejaVu Sans',sans-serif" fill="#000">10</text>
<rect x="278.95" y="1297.4" width="15.25" height="15.8" fill="#2aeb14" stroke="#000" stroke-width="0.9"/>
<text x="286.57" y="1308" font-size="7.6" font-weight="bold" text-anchor="middle" font-family="'DejaVu Sans Condensed','DejaVu Sans',sans-serif" fill="#000">12</text>
<rect x="294.2" y="1297.4" width="15.25" height="15.8" fill="#2aeb14" stroke="#000" stroke-width="0.9"/>
<text x="301.82" y="1308" font-size="7.6" font-weight="bold" text-anchor="middle" font-family="'DejaVu Sans Condensed','DejaVu Sans',sans-serif" fill="#000">13</text>
<rect x="309.45" y="1297.4" width="15.25" height="15.8" fill="#2aeb14" stroke="#000" stroke-width="0.9"/>
<text x="317.07" y="1308" font-size="7.6" font-weight="bold" text-anchor="middle" font-family="'DejaVu Sans Condensed','DejaVu Sans',sans-serif" fill="#000">14</text>
<text x="0" y="0" font-size="22.8" transform="translate(32.3 1351.3) scale(1 1.04)">PA72</text>
<line x1="111.2" y1="1343.5" x2="339.95" y2="1343.5" stroke="#000" stroke-width="1.3"/>
<rect x="111.2" y="1335.7" width="15.25" height="15.8" fill="#0000fa" stroke="#000" stroke-width="0.9"/>
<text x="118.83" y="1346.3" font-size="7.6" font-weight="bold" text-anchor="middle" font-family="'DejaVu Sans Condensed','DejaVu Sans',sans-serif" fill="#000">1</text>
<rect x="126.45" y="1335.7" width="15.25" height="15.8" fill="#0000fa" stroke="#000" stroke-width="0.9"/>
<text x="134.07" y="1346.3" font-size="7.6" font-weight="bold" text-anchor="middle" font-family="'DejaVu Sans Condensed','DejaVu Sans',sans-serif" fill="#000">2</text>
<rect x="156.95" y="1335.7" width="15.25" height="15.8" fill="#2aeb14" stroke="#000" stroke-width="0.9"/>
<text x="164.57" y="1346.3" font-size="7.6" font-weight="bold" text-anchor="middle" font-family="'DejaVu Sans Condensed','DejaVu Sans',sans-serif" fill="#000">4</text>
<rect x="172.2" y="1335.7" width="15.25" height="15.8" fill="#2aeb14" stroke="#000" stroke-width="0.9"/>
<text x="179.82" y="1346.3" font-size="7.6" font-weight="bold" text-anchor="middle" font-family="'DejaVu Sans Condensed','DejaVu Sans',sans-serif" fill="#000">5</text>
<rect x="202.7" y="1335.7" width="15.25" height="15.8" fill="#0000fa" stroke="#000" stroke-width="0.9"/>
<text x="210.32" y="1346.3" font-size="7.6" font-weight="bold" text-anchor="middle" font-family="'DejaVu Sans Condensed','DejaVu Sans',sans-serif" fill="#000">7</text>
<rect x="217.95" y="1335.7" width="15.25" height="15.8" fill="#0000fa" stroke="#000" stroke-width="0.9"/>
<text x="225.57" y="1346.3" font-size="7.6" font-weight="bold" text-anchor="middle" font-family="'DejaVu Sans Condensed','DejaVu Sans',sans-serif" fill="#000">8</text>
<rect x="233.2" y="1335.7" width="15.25" height="15.8" fill="#0000fa" stroke="#000" stroke-width="0.9"/>
<text x="240.82" y="1346.3" font-size="7.6" font-weight="bold" text-anchor="middle" font-family="'DejaVu Sans Condensed','DejaVu Sans',sans-serif" fill="#000">9</text>
<rect x="248.45" y="1335.7" width="15.25" height="15.8" fill="#2aeb14" stroke="#000" stroke-width="0.9"/>
<text x="256.07" y="1346.3" font-size="7.6" font-weight="bold" text-anchor="middle" font-family="'DejaVu Sans Condensed','DejaVu Sans',sans-serif" fill="#000">10</text>
<rect x="294.2" y="1335.7" width="15.25" height="15.8" fill="#2aeb14" stroke="#000" stroke-width="0.9"/>
<text x="301.82" y="1346.3" font-size="7.6" font-weight="bold" text-anchor="middle" font-family="'DejaVu Sans Condensed','DejaVu Sans',sans-serif" fill="#000">13</text>
<rect x="309.45" y="1335.7" width="15.25" height="15.8" fill="#8c14ff" stroke="#000" stroke-width="0.9"/>
<text x="317.07" y="1346.3" font-size="7.6" font-weight="bold" text-anchor="middle" font-family="'DejaVu Sans Condensed','DejaVu Sans',sans-serif" fill="#000">14</text>
<text x="0" y="0" font-size="22.8" transform="translate(32.3 1389.6) scale(1 1.04)">PA77</text>
<line x1="111.2" y1="1381.8" x2="339.95" y2="1381.8" stroke="#000" stroke-width="1.3"/>
<rect x="141.7" y="1374" width="15.25" height="15.8" fill="#2aeb14" stroke="#000" stroke-width="0.9"/>
<text x="149.32" y="1384.6" font-size="7.6" font-weight="bold" text-anchor="middle" font-family="'DejaVu Sans Condensed','DejaVu Sans',sans-serif" fill="#000">3</text>
<rect x="156.95" y="1374" width="15.25" height="15.8" fill="#2aeb14" stroke="#000" stroke-width="0.9"/>
<text x="164.57" y="1384.6" font-size="7.6" font-weight="bold" text-anchor="middle" font-family="'DejaVu Sans Condensed','DejaVu Sans',sans-serif" fill="#000">4</text>
<rect x="172.2" y="1374" width="15.25" height="15.8" fill="#2aeb14" stroke="#000" stroke-width="0.9"/>
<text x="179.82" y="1384.6" font-size="7.6" font-weight="bold" text-anchor="middle" font-family="'DejaVu Sans Condensed','DejaVu Sans',sans-serif" fill="#000">5</text>
<rect x="233.2" y="1374" width="15.25" height="15.8" fill="#0000fa" stroke="#000" stroke-width="0.9"/>
<text x="240.82" y="1384.6" font-size="7.6" font-weight="bold" text-anchor="middle" font-family="'DejaVu Sans Condensed','DejaVu Sans',sans-serif" fill="#000">9</text>
<rect x="248.45" y="1374" width="15.25" height="15.8" fill="#2aeb14" stroke="#000" stroke-width="0.9"/>
<text x="256.07" y="1384.6" font-size="7.6" font-weight="bold" text-anchor="middle" font-family="'DejaVu Sans Condensed','DejaVu Sans',sans-serif" fill="#000">10</text>
<rect x="278.95" y="1374" width="15.25" height="15.8" fill="#2aeb14" stroke="#000" stroke-width="0.9"/>
<text x="286.57" y="1384.6" font-size="7.6" font-weight="bold" text-anchor="middle" font-family="'DejaVu Sans Condensed','DejaVu Sans',sans-serif" fill="#000">12</text>
<rect x="309.45" y="1374" width="15.25" height="15.8" fill="#2aeb14" stroke="#000" stroke-width="0.9"/>
<text x="317.07" y="1384.6" font-size="7.6" font-weight="bold" text-anchor="middle" font-family="'DejaVu Sans Condensed','DejaVu Sans',sans-serif" fill="#000">14</text>
<rect x="324.7" y="1374" width="15.25" height="15.8" fill="#0000fa" stroke="#000" stroke-width="0.9"/>
<text x="332.32" y="1384.6" font-size="7.6" font-weight="bold" text-anchor="middle" font-family="'DejaVu Sans Condensed','DejaVu Sans',sans-serif" fill="#000">15</text>
<line x1="117.7" y1="1410.7" x2="332.6" y2="1410.7" stroke="#000" stroke-width="1.2"/>
<line x1="117.7" y1="1405.7" x2="117.7" y2="1415.7" stroke="#000" stroke-width="1.2"/>
<line x1="133.05" y1="1405.7" x2="133.05" y2="1415.7" stroke="#000" stroke-width="1.2"/>
<line x1="148.4" y1="1405.7" x2="148.4" y2="1415.7" stroke="#000" stroke-width="1.2"/>
<line x1="163.75" y1="1405.7" x2="163.75" y2="1415.7" stroke="#000" stroke-width="1.2"/>
<line x1="179.1" y1="1398.7" x2="179.1" y2="1423.7" stroke="#000" stroke-width="1.2"/>
<line x1="194.45" y1="1405.7" x2="194.45" y2="1415.7" stroke="#000" stroke-width="1.2"/>
<line x1="209.8" y1="1405.7" x2="209.8" y2="1415.7" stroke="#000" stroke-width="1.2"/>
<line x1="225.15" y1="1405.7" x2="225.15" y2="1415.7" stroke="#000" stroke-width="1.2"/>
<line x1="240.5" y1="1405.7" x2="240.5" y2="1415.7" stroke="#000" stroke-width="1.2"/>
<line x1="255.85" y1="1398.7" x2="255.85" y2="1423.7" stroke="#000" stroke-width="1.2"/>
<line x1="271.2" y1="1405.7" x2="271.2" y2="1415.7" stroke="#000" stroke-width="1.2"/>
<line x1="286.55" y1="1405.7" x2="286.55" y2="1415.7" stroke="#000" stroke-width="1.2"/>
<line x1="301.9" y1="1405.7" x2="301.9" y2="1415.7" stroke="#000" stroke-width="1.2"/>
<line x1="317.25" y1="1405.7" x2="317.25" y2="1415.7" stroke="#000" stroke-width="1.2"/>
<line x1="332.6" y1="1398.7" x2="332.6" y2="1423.7" stroke="#000" stroke-width="1.2"/>
<text x="0" y="0" font-size="20.6" text-anchor="middle" textLength="9.5" lengthAdjust="spacingAndGlyphs" transform="translate(117.2 1440.8) scale(1 1.04)">1</text>
<text x="0" y="0" font-size="20.6" text-anchor="middle" textLength="24.5" lengthAdjust="spacingAndGlyphs" transform="translate(332.6 1440.8) scale(1 1.04)">15</text>
<text x="0" y="0" font-size="22.6" textLength="361.8" lengthAdjust="spacingAndGlyphs" transform="translate(52 1462.1) scale(1 1.04)">Consecutive Influenza NP 15mers</text>
<text x="0" y="0" font-size="22.6" textLength="170.2" lengthAdjust="spacingAndGlyphs" transform="translate(147.8 1489.5) scale(1 1.04)">(11 a.a. overlap)</text>
<text x="0" y="0" font-size="22.2" textLength="157.4" lengthAdjust="spacingAndGlyphs" transform="translate(595.6 1163.8) scale(1 1.04)">FL CyCMV/Flu:</text>
<line x1="595.6" y1="1167.1" x2="753" y2="1167.1" stroke="#000" stroke-width="2"/>
<text x="0" y="0" font-size="22.8" transform="translate(484.7 1198.1) scale(1 1.04)">PA64</text>
<line x1="561.4" y1="1190.3" x2="789.4" y2="1190.3" stroke="#000" stroke-width="1.3"/>
<rect x="561.4" y="1182.5" width="15.2" height="15.8" fill="#ee0000" stroke="#000" stroke-width="0.9"/>
<text x="569" y="1193.1" font-size="7.6" font-weight="bold" text-anchor="middle" font-family="'DejaVu Sans Condensed','DejaVu Sans',sans-serif" fill="#000">1</text>
<rect x="591.8" y="1182.5" width="15.2" height="15.8" fill="#ee0000" stroke="#000" stroke-width="0.9"/>
<text x="599.4" y="1193.1" font-size="7.6" font-weight="bold" text-anchor="middle" font-family="'DejaVu Sans Condensed','DejaVu Sans',sans-serif" fill="#000">3</text>
<rect x="652.6" y="1182.5" width="15.2" height="15.8" fill="#ee0000" stroke="#000" stroke-width="0.9"/>
<text x="660.2" y="1193.1" font-size="7.6" font-weight="bold" text-anchor="middle" font-family="'DejaVu Sans Condensed','DejaVu Sans',sans-serif" fill="#000">7</text>
<rect x="698.2" y="1182.5" width="15.2" height="15.8" fill="#ee0000" stroke="#000" stroke-width="0.9"/>
<text x="705.8" y="1193.1" font-size="7.6" font-weight="bold" text-anchor="middle" font-family="'DejaVu Sans Condensed','DejaVu Sans',sans-serif" fill="#000">10</text>
<rect x="713.4" y="1182.5" width="15.2" height="15.8" fill="#ee0000" stroke="#000" stroke-width="0.9"/>
<text x="721" y="1193.1" font-size="7.6" font-weight="bold" text-anchor="middle" font-family="'DejaVu Sans Condensed','DejaVu Sans',sans-serif" fill="#000">11</text>
<rect x="743.8" y="1182.5" width="15.2" height="15.8" fill="#ee0000" stroke="#000" stroke-width="0.9"/>
<text x="751.4" y="1193.1" font-size="7.6" font-weight="bold" text-anchor="middle" font-family="'DejaVu Sans Condensed','DejaVu Sans',sans-serif" fill="#000">13</text>
<rect x="759" y="1182.5" width="15.2" height="15.8" fill="#ee0000" stroke="#000" stroke-width="0.9"/>
<text x="766.6" y="1193.1" font-size="7.6" font-weight="bold" text-anchor="middle" font-family="'DejaVu Sans Condensed','DejaVu Sans',sans-serif" fill="#000">14</text>
<text x="0" y="0" font-size="22.8" transform="translate(484.7 1236.4) scale(1 1.04)">PA65</text>
<line x1="561.4" y1="1228.6" x2="789.4" y2="1228.6" stroke="#000" stroke-width="1.3"/>
<rect x="576.6" y="1220.8" width="15.2" height="15.8" fill="#ee0000" stroke="#000" stroke-width="0.9"/>
<text x="584.2" y="1231.4" font-size="7.6" font-weight="bold" text-anchor="middle" font-family="'DejaVu Sans Condensed','DejaVu Sans',sans-serif" fill="#000">2</text>
<rect x="591.8" y="1220.8" width="15.2" height="15.8" fill="#ee0000" stroke="#000" stroke-width="0.9"/>
<text x="599.4" y="1231.4" font-size="7.6" font-weight="bold" text-anchor="middle" font-family="'DejaVu Sans Condensed','DejaVu Sans',sans-serif" fill="#000">3</text>
<rect x="637.4" y="1220.8" width="15.2" height="15.8" fill="#ee0000" stroke="#000" stroke-width="0.9"/>
<text x="645" y="1231.4" font-size="7.6" font-weight="bold" text-anchor="middle" font-family="'DejaVu Sans Condensed','DejaVu Sans',sans-serif" fill="#000">6</text>
<rect x="667.8" y="1220.8" width="15.2" height="15.8" fill="#8c14ff" stroke="#000" stroke-width="0.9"/>
<text x="675.4" y="1231.4" font-size="7.6" font-weight="bold" text-anchor="middle" font-family="'DejaVu Sans Condensed','DejaVu Sans',sans-serif" fill="#000">8</text>
<rect x="683" y="1220.8" width="15.2" height="15.8" fill="#8c14ff" stroke="#000" stroke-width="0.9"/>
<text x="690.6" y="1231.4" font-size="7.6" font-weight="bold" text-anchor="middle" font-family="'DejaVu Sans Condensed','DejaVu Sans',sans-serif" fill="#000">9</text>
<rect x="728.6" y="1220.8" width="15.2" height="15.8" fill="#ee0000" stroke="#000" stroke-width="0.9"/>
<text x="736.2" y="1231.4" font-size="7.6" font-weight="bold" text-anchor="middle" font-family="'DejaVu Sans Condensed','DejaVu Sans',sans-serif" fill="#000">12</text>
<rect x="774.2" y="1220.8" width="15.2" height="15.8" fill="#ee0000" stroke="#000" stroke-width="0.9"/>
<text x="781.8" y="1231.4" font-size="7.6" font-weight="bold" text-anchor="middle" font-family="'DejaVu Sans Condensed','DejaVu Sans',sans-serif" fill="#000">15</text>
<text x="0" y="0" font-size="22.8" transform="translate(484.7 1274.7) scale(1 1.04)">PA67</text>
<line x1="561.4" y1="1266.9" x2="789.4" y2="1266.9" stroke="#000" stroke-width="1.3"/>
<rect x="561.4" y="1259.1" width="15.2" height="15.8" fill="#ee0000" stroke="#000" stroke-width="0.9"/>
<text x="569" y="1269.7" font-size="7.6" font-weight="bold" text-anchor="middle" font-family="'DejaVu Sans Condensed','DejaVu Sans',sans-serif" fill="#000">1</text>
<rect x="576.6" y="1259.1" width="15.2" height="15.8" fill="#ee0000" stroke="#000" stroke-width="0.9"/>
<text x="584.2" y="1269.7" font-size="7.6" font-weight="bold" text-anchor="middle" font-family="'DejaVu Sans Condensed','DejaVu Sans',sans-serif" fill="#000">2</text>
<rect x="607" y="1259.1" width="15.2" height="15.8" fill="#ee0000" stroke="#000" stroke-width="0.9"/>
<text x="614.6" y="1269.7" font-size="7.6" font-weight="bold" text-anchor="middle" font-family="'DejaVu Sans Condensed','DejaVu Sans',sans-serif" fill="#000">4</text>
<rect x="652.6" y="1259.1" width="15.2" height="15.8" fill="#ee0000" stroke="#000" stroke-width="0.9"/>
<text x="660.2" y="1269.7" font-size="7.6" font-weight="bold" text-anchor="middle" font-family="'DejaVu Sans Condensed','DejaVu Sans',sans-serif" fill="#000">7</text>
<rect x="667.8" y="1259.1" width="15.2" height="15.8" fill="#ee0000" stroke="#000" stroke-width="0.9"/>
<text x="675.4" y="1269.7" font-size="7.6" font-weight="bold" text-anchor="middle" font-family="'DejaVu Sans Condensed','DejaVu Sans',sans-serif" fill="#000">8</text>
<rect x="713.4" y="1259.1" width="15.2" height="15.8" fill="#ee0000" stroke="#000" stroke-width="0.9"/>
<text x="721" y="1269.7" font-size="7.6" font-weight="bold" text-anchor="middle" font-family="'DejaVu Sans Condensed','DejaVu Sans',sans-serif" fill="#000">11</text>
<rect x="743.8" y="1259.1" width="15.2" height="15.8" fill="#ee0000" stroke="#000" stroke-width="0.9"/>
<text x="751.4" y="1269.7" font-size="7.6" font-weight="bold" text-anchor="middle" font-family="'DejaVu Sans Condensed','DejaVu Sans',sans-serif" fill="#000">13</text>
<rect x="774.2" y="1259.1" width="15.2" height="15.8" fill="#ee0000" stroke="#000" stroke-width="0.9"/>
<text x="781.8" y="1269.7" font-size="7.6" font-weight="bold" text-anchor="middle" font-family="'DejaVu Sans Condensed','DejaVu Sans',sans-serif" fill="#000">15</text>
<text x="0" y="0" font-size="22.8" transform="translate(484.7 1313) scale(1 1.04)">PA69</text>
<line x1="561.4" y1="1305.2" x2="789.4" y2="1305.2" stroke="#000" stroke-width="1.3"/>
<rect x="561.4" y="1297.4" width="15.2" height="15.8" fill="#ee0000" stroke="#000" stroke-width="0.9"/>
<text x="569" y="1308" font-size="7.6" font-weight="bold" text-anchor="middle" font-family="'DejaVu Sans Condensed','DejaVu Sans',sans-serif" fill="#000">1</text>
<rect x="576.6" y="1297.4" width="15.2" height="15.8" fill="#ee0000" stroke="#000" stroke-width="0.9"/>
<text x="584.2" y="1308" font-size="7.6" font-weight="bold" text-anchor="middle" font-family="'DejaVu Sans Condensed','DejaVu Sans',sans-serif" fill="#000">2</text>
<rect x="591.8" y="1297.4" width="15.2" height="15.8" fill="#ee0000" stroke="#000" stroke-width="0.9"/>
<text x="599.4" y="1308" font-size="7.6" font-weight="bold" text-anchor="middle" font-family="'DejaVu Sans Condensed','DejaVu Sans',sans-serif" fill="#000">3</text>
<rect x="637.4" y="1297.4" width="15.2" height="15.8" fill="#ee0000" stroke="#000" stroke-width="0.9"/>
<text x="645" y="1308" font-size="7.6" font-weight="bold" text-anchor="middle" font-family="'DejaVu Sans Condensed','DejaVu Sans',sans-serif" fill="#000">6</text>
<rect x="652.6" y="1297.4" width="15.2" height="15.8" fill="#ee0000" stroke="#000" stroke-width="0.9"/>
<text x="660.2" y="1308" font-size="7.6" font-weight="bold" text-anchor="middle" font-family="'DejaVu Sans Condensed','DejaVu Sans',sans-serif" fill="#000">7</text>
<rect x="698.2" y="1297.4" width="15.2" height="15.8" fill="#ee0000" stroke="#000" stroke-width="0.9"/>
<text x="705.8" y="1308" font-size="7.6" font-weight="bold" text-anchor="middle" font-family="'DejaVu Sans Condensed','DejaVu Sans',sans-serif" fill="#000">10</text>
<rect x="728.6" y="1297.4" width="15.2" height="15.8" fill="#ee0000" stroke="#000" stroke-width="0.9"/>
<text x="736.2" y="1308" font-size="7.6" font-weight="bold" text-anchor="middle" font-family="'DejaVu Sans Condensed','DejaVu Sans',sans-serif" fill="#000">12</text>
<rect x="759" y="1297.4" width="15.2" height="15.8" fill="#ee0000" stroke="#000" stroke-width="0.9"/>
<text x="766.6" y="1308" font-size="7.6" font-weight="bold" text-anchor="middle" font-family="'DejaVu Sans Condensed','DejaVu Sans',sans-serif" fill="#000">14</text>
<rect x="774.2" y="1297.4" width="15.2" height="15.8" fill="#ee0000" stroke="#000" stroke-width="0.9"/>
<text x="781.8" y="1308" font-size="7.6" font-weight="bold" text-anchor="middle" font-family="'DejaVu Sans Condensed','DejaVu Sans',sans-serif" fill="#000">15</text>
<text x="0" y="0" font-size="22.8" transform="translate(484.7 1351.3) scale(1 1.04)">PA73</text>
<line x1="561.4" y1="1343.5" x2="789.4" y2="1343.5" stroke="#000" stroke-width="1.3"/>
<rect x="576.6" y="1335.7" width="15.2" height="15.8" fill="#ee0000" stroke="#000" stroke-width="0.9"/>
<text x="584.2" y="1346.3" font-size="7.6" font-weight="bold" text-anchor="middle" font-family="'DejaVu Sans Condensed','DejaVu Sans',sans-serif" fill="#000">2</text>
<rect x="591.8" y="1335.7" width="15.2" height="15.8" fill="#ee0000" stroke="#000" stroke-width="0.9"/>
<text x="599.4" y="1346.3" font-size="7.6" font-weight="bold" text-anchor="middle" font-family="'DejaVu Sans Condensed','DejaVu Sans',sans-serif" fill="#000">3</text>
<rect x="622.2" y="1335.7" width="15.2" height="15.8" fill="#ee0000" stroke="#000" stroke-width="0.9"/>
<text x="629.8" y="1346.3" font-size="7.6" font-weight="bold" text-anchor="middle" font-family="'DejaVu Sans Condensed','DejaVu Sans',sans-serif" fill="#000">5</text>
<rect x="637.4" y="1335.7" width="15.2" height="15.8" fill="#ee0000" stroke="#000" stroke-width="0.9"/>
<text x="645" y="1346.3" font-size="7.6" font-weight="bold" text-anchor="middle" font-family="'DejaVu Sans Condensed','DejaVu Sans',sans-serif" fill="#000">6</text>
<rect x="698.2" y="1335.7" width="15.2" height="15.8" fill="#ee0000" stroke="#000" stroke-width="0.9"/>
<text x="705.8" y="1346.3" font-size="7.6" font-weight="bold" text-anchor="middle" font-family="'DejaVu Sans Condensed','DejaVu Sans',sans-serif" fill="#000">10</text>
<rect x="713.4" y="1335.7" width="15.2" height="15.8" fill="#ee0000" stroke="#000" stroke-width="0.9"/>
<text x="721" y="1346.3" font-size="7.6" font-weight="bold" text-anchor="middle" font-family="'DejaVu Sans Condensed','DejaVu Sans',sans-serif" fill="#000">11</text>
<rect x="728.6" y="1335.7" width="15.2" height="15.8" fill="#ee0000" stroke="#000" stroke-width="0.9"/>
<text x="736.2" y="1346.3" font-size="7.6" font-weight="bold" text-anchor="middle" font-family="'DejaVu Sans Condensed','DejaVu Sans',sans-serif" fill="#000">12</text>
<rect x="774.2" y="1335.7" width="15.2" height="15.8" fill="#ee0000" stroke="#000" stroke-width="0.9"/>
<text x="781.8" y="1346.3" font-size="7.6" font-weight="bold" text-anchor="middle" font-family="'DejaVu Sans Condensed','DejaVu Sans',sans-serif" fill="#000">15</text>
<text x="0" y="0" font-size="22.8" transform="translate(484.7 1389.6) scale(1 1.04)">PA75</text>
<line x1="561.4" y1="1381.8" x2="789.4" y2="1381.8" stroke="#000" stroke-width="1.3"/>
<rect x="561.4" y="1374" width="15.2" height="15.8" fill="#ee0000" stroke="#000" stroke-width="0.9"/>
<text x="569" y="1384.6" font-size="7.6" font-weight="bold" text-anchor="middle" font-family="'DejaVu Sans Condensed','DejaVu Sans',sans-serif" fill="#000">1</text>
<rect x="591.8" y="1374" width="15.2" height="15.8" fill="#8c14ff" stroke="#000" stroke-width="0.9"/>
<text x="599.4" y="1384.6" font-size="7.6" font-weight="bold" text-anchor="middle" font-family="'DejaVu Sans Condensed','DejaVu Sans',sans-serif" fill="#000">3</text>
<rect x="607" y="1374" width="15.2" height="15.8" fill="#ee0000" stroke="#000" stroke-width="0.9"/>
<text x="614.6" y="1384.6" font-size="7.6" font-weight="bold" text-anchor="middle" font-family="'DejaVu Sans Condensed','DejaVu Sans',sans-serif" fill="#000">4</text>
<rect x="622.2" y="1374" width="15.2" height="15.8" fill="#ee0000" stroke="#000" stroke-width="0.9"/>
<text x="629.8" y="1384.6" font-size="7.6" font-weight="bold" text-anchor="middle" font-family="'DejaVu Sans Condensed','DejaVu Sans',sans-serif" fill="#000">5</text>
<rect x="637.4" y="1374" width="15.2" height="15.8" fill="#ee0000" stroke="#000" stroke-width="0.9"/>
<text x="645" y="1384.6" font-size="7.6" font-weight="bold" text-anchor="middle" font-family="'DejaVu Sans Condensed','DejaVu Sans',sans-serif" fill="#000">6</text>
<rect x="683" y="1374" width="15.2" height="15.8" fill="#ee0000" stroke="#000" stroke-width="0.9"/>
<text x="690.6" y="1384.6" font-size="7.6" font-weight="bold" text-anchor="middle" font-family="'DejaVu Sans Condensed','DejaVu Sans',sans-serif" fill="#000">9</text>
<rect x="698.2" y="1374" width="15.2" height="15.8" fill="#ee0000" stroke="#000" stroke-width="0.9"/>
<text x="705.8" y="1384.6" font-size="7.6" font-weight="bold" text-anchor="middle" font-family="'DejaVu Sans Condensed','DejaVu Sans',sans-serif" fill="#000">10</text>
<rect x="728.6" y="1374" width="15.2" height="15.8" fill="#ee0000" stroke="#000" stroke-width="0.9"/>
<text x="736.2" y="1384.6" font-size="7.6" font-weight="bold" text-anchor="middle" font-family="'DejaVu Sans Condensed','DejaVu Sans',sans-serif" fill="#000">12</text>
<rect x="759" y="1374" width="15.2" height="15.8" fill="#ee0000" stroke="#000" stroke-width="0.9"/>
<text x="766.6" y="1384.6" font-size="7.6" font-weight="bold" text-anchor="middle" font-family="'DejaVu Sans Condensed','DejaVu Sans',sans-serif" fill="#000">14</text>
<rect x="774.2" y="1374" width="15.2" height="15.8" fill="#ee0000" stroke="#000" stroke-width="0.9"/>
<text x="781.8" y="1384.6" font-size="7.6" font-weight="bold" text-anchor="middle" font-family="'DejaVu Sans Condensed','DejaVu Sans',sans-serif" fill="#000">15</text>
<line x1="567.4" y1="1410.7" x2="780.9" y2="1410.7" stroke="#000" stroke-width="1.2"/>
<line x1="567.4" y1="1405.7" x2="567.4" y2="1415.7" stroke="#000" stroke-width="1.2"/>
<line x1="582.65" y1="1405.7" x2="582.65" y2="1415.7" stroke="#000" stroke-width="1.2"/>
<line x1="597.9" y1="1405.7" x2="597.9" y2="1415.7" stroke="#000" stroke-width="1.2"/>
<line x1="613.15" y1="1405.7" x2="613.15" y2="1415.7" stroke="#000" stroke-width="1.2"/>
<line x1="628.4" y1="1398.7" x2="628.4" y2="1423.7" stroke="#000" stroke-width="1.2"/>
<line x1="643.65" y1="1405.7" x2="643.65" y2="1415.7" stroke="#000" stroke-width="1.2"/>
<line x1="658.9" y1="1405.7" x2="658.9" y2="1415.7" stroke="#000" stroke-width="1.2"/>
<line x1="674.15" y1="1405.7" x2="674.15" y2="1415.7" stroke="#000" stroke-width="1.2"/>
<line x1="689.4" y1="1405.7" x2="689.4" y2="1415.7" stroke="#000" stroke-width="1.2"/>
<line x1="704.65" y1="1398.7" x2="704.65" y2="1423.7" stroke="#000" stroke-width="1.2"/>
<line x1="719.9" y1="1405.7" x2="719.9" y2="1415.7" stroke="#000" stroke-width="1.2"/>
<line x1="735.15" y1="1405.7" x2="735.15" y2="1415.7" stroke="#000" stroke-width="1.2"/>
<line x1="750.4" y1="1405.7" x2="750.4" y2="1415.7" stroke="#000" stroke-width="1.2"/>
<line x1="765.65" y1="1405.7" x2="765.65" y2="1415.7" stroke="#000" stroke-width="1.2"/>
<line x1="780.9" y1="1398.7" x2="780.9" y2="1423.7" stroke="#000" stroke-width="1.2"/>
<text x="0" y="0" font-size="20.6" text-anchor="middle" textLength="9.5" lengthAdjust="spacingAndGlyphs" transform="translate(566.9 1440.8) scale(1 1.04)">1</text>
<text x="0" y="0" font-size="20.6" text-anchor="middle" textLength="24.5" lengthAdjust="spacingAndGlyphs" transform="translate(780.9 1440.8) scale(1 1.04)">15</text>
<text x="0" y="0" font-size="22.6" textLength="361.8" lengthAdjust="spacingAndGlyphs" transform="translate(499.8 1462.1) scale(1 1.04)">Consecutive Influenza NP 15mers</text>
<text x="0" y="0" font-size="22.6" textLength="170.2" lengthAdjust="spacingAndGlyphs" transform="translate(595.6 1489.5) scale(1 1.04)">(11 a.a. overlap)</text>
<rect x="94.4" y="1502.8" width="713.6" height="38.3" fill="none" stroke="#000" stroke-width="1.2"/>
<rect x="110" y="1513.7" width="13.6" height="12.8" fill="#ee0000" stroke="#000" stroke-width="0.8"/>
<text x="0" y="0" font-size="18" textLength="148.9" lengthAdjust="spacingAndGlyphs" transform="translate(129 1527.2) scale(1 1.04)">MHC-Ia restricted</text>
<rect x="299" y="1513.7" width="13.6" height="12.8" fill="#2aeb14" stroke="#000" stroke-width="0.8"/>
<text x="0" y="0" font-size="18" textLength="145.3" lengthAdjust="spacingAndGlyphs" transform="translate(318.7 1527.2) scale(1 1.04)">MHC-E restricted</text>
<rect x="483.3" y="1513.7" width="13.6" height="12.8" fill="#0000fa" stroke="#000" stroke-width="0.8"/>
<text x="0" y="0" font-size="18" textLength="144.1" lengthAdjust="spacingAndGlyphs" transform="translate(502.3 1527.2) scale(1 1.04)">MHC-II restricted</text>
<rect x="666.4" y="1513.7" width="13.6" height="12.8" fill="#8c14ff" stroke="#000" stroke-width="0.8"/>
<text x="0" y="0" font-size="18" textLength="117.8" lengthAdjust="spacingAndGlyphs" transform="translate(684.7 1527.2) scale(1 1.04)">Indeterminate</text>
<text x="0" y="0" font-size="42.5" transform="translate(860.1 1137.9) scale(1 1.04)">F</text>
<line x1="1075.5" y1="1131.2" x2="1075.5" y2="1440" stroke="#b4b4b4" stroke-width="1"/>
<line x1="1133.5" y1="1131.2" x2="1133.5" y2="1440" stroke="#b4b4b4" stroke-width="1"/>
<line x1="1191.4" y1="1131.2" x2="1191.4" y2="1440" stroke="#b4b4b4" stroke-width="1"/>
<line x1="1249.4" y1="1131.2" x2="1249.4" y2="1440" stroke="#b4b4b4" stroke-width="1"/>
<line x1="1306.5" y1="1131.2" x2="1306.5" y2="1440" stroke="#b4b4b4" stroke-width="1"/>
<line x1="1364.5" y1="1131.2" x2="1364.5" y2="1440" stroke="#b4b4b4" stroke-width="1"/>
<line x1="1018.1" y1="1171" x2="1018.1" y2="1440" stroke="#b4b4b4" stroke-width="1"/>
<line x1="974.64" y1="1207.25" x2="974.64" y2="1291.3" stroke="#000" stroke-width="1.4"/>
<line x1="969.54" y1="1207.25" x2="979.74" y2="1207.25" stroke="#000" stroke-width="1.4"/>
<rect x="965.36" y="1291.3" width="18.55" height="107.25" fill="#b4b4b4" stroke="#000" stroke-width="1.4"/>
<line x1="965.36" y1="1384.06" x2="983.91" y2="1384.06" stroke="#000" stroke-width="1.4"/>
<circle cx="974.64" cy="1207.25" r="3.45" fill="#fff" stroke="#000" stroke-width="1.5"/>
<circle cx="974.64" cy="1319.42" r="4.2" fill="#000" stroke="none" stroke-width="1"/>
<circle cx="974.64" cy="1371.59" r="4.2" fill="#000" stroke="none" stroke-width="1"/>
<circle cx="968.26" cy="1397.68" r="3.45" fill="#fff" stroke="#000" stroke-width="1.5"/>
<circle cx="974.64" cy="1396.23" r="4.2" fill="#000" stroke="none" stroke-width="1"/>
<circle cx="981.01" cy="1396.23" r="4.2" fill="#000" stroke="none" stroke-width="1"/>
<line x1="1003.33" y1="1357.39" x2="1003.33" y2="1384.93" stroke="#fa0000" stroke-width="1.4"/>
<line x1="998.39" y1="1357.39" x2="1008.28" y2="1357.39" stroke="#fa0000" stroke-width="1.4"/>
<rect x="994.35" y="1384.93" width="17.97" height="40.58" fill="#fdb8b3" stroke="#fa0000" stroke-width="1.4"/>
<line x1="994.35" y1="1408.7" x2="1012.32" y2="1408.7" stroke="#fa0000" stroke-width="1.4"/>
<circle cx="1003.62" cy="1357.39" r="4.2" fill="#fa0000" stroke="none" stroke-width="1"/>
<circle cx="1003.62" cy="1393.33" r="4.2" fill="#fa0000" stroke="none" stroke-width="1"/>
<circle cx="1003.62" cy="1404.35" r="4.2" fill="#fa0000" stroke="none" stroke-width="1"/>
<circle cx="1003.62" cy="1411.59" r="3.45" fill="#fff" stroke="#fa0000" stroke-width="1.5"/>
<circle cx="997.25" cy="1426.09" r="3.45" fill="#fff" stroke="#fa0000" stroke-width="1.5"/>
<circle cx="1009.42" cy="1425.22" r="3.45" fill="#fff" stroke="#fa0000" stroke-width="1.5"/>
<line x1="1032.61" y1="1396.23" x2="1032.61" y2="1410.14" stroke="#000" stroke-width="1.4"/>
<line x1="1027.51" y1="1410.14" x2="1037.71" y2="1410.14" stroke="#000" stroke-width="1.4"/>
<rect x="1023.33" y="1292.75" width="18.55" height="103.48" fill="#b4b4b4" stroke="#000" stroke-width="1.4"/>
<line x1="1023.33" y1="1368.99" x2="1041.88" y2="1368.99" stroke="#000" stroke-width="1.4"/>
<circle cx="1032.03" cy="1135.36" r="3.45" fill="#fff" stroke="#000" stroke-width="1.5"/>
<circle cx="1032.61" cy="1344.35" r="4.2" fill="#000" stroke="none" stroke-width="1"/>
<circle cx="1032.61" cy="1359.42" r="4.2" fill="#000" stroke="none" stroke-width="1"/>
<circle cx="1032.61" cy="1378.84" r="3.45" fill="#fff" stroke="#000" stroke-width="1.5"/>
<circle cx="1032.61" cy="1392.75" r="4.2" fill="#000" stroke="none" stroke-width="1"/>
<circle cx="1032.61" cy="1410.14" r="4.2" fill="#000" stroke="none" stroke-width="1"/>
<line x1="1061.3" y1="1356.52" x2="1061.3" y2="1388.41" stroke="#fa0000" stroke-width="1.4"/>
<line x1="1056.36" y1="1356.52" x2="1066.25" y2="1356.52" stroke="#fa0000" stroke-width="1.4"/>
<line x1="1061.3" y1="1422.32" x2="1061.3" y2="1428.99" stroke="#fa0000" stroke-width="1.4"/>
<line x1="1056.36" y1="1428.99" x2="1066.25" y2="1428.99" stroke="#fa0000" stroke-width="1.4"/>
<rect x="1052.32" y="1388.41" width="17.97" height="33.91" fill="#fdb8b3" stroke="#fa0000" stroke-width="1.4"/>
<line x1="1052.32" y1="1405.8" x2="1070.29" y2="1405.8" stroke="#fa0000" stroke-width="1.4"/>
<circle cx="1061.59" cy="1356.52" r="4.2" fill="#fa0000" stroke="none" stroke-width="1"/>
<circle cx="1055.22" cy="1398.55" r="4.2" fill="#fa0000" stroke="none" stroke-width="1"/>
<circle cx="1067.39" cy="1400.58" r="4.2" fill="#fa0000" stroke="none" stroke-width="1"/>
<circle cx="1061.59" cy="1411.59" r="3.45" fill="#fff" stroke="#fa0000" stroke-width="1.5"/>
<circle cx="1061.59" cy="1419.71" r="3.45" fill="#fff" stroke="#fa0000" stroke-width="1.5"/>
<circle cx="1061.59" cy="1428.99" r="3.45" fill="#fff" stroke="#fa0000" stroke-width="1.5"/>
<line x1="1090.14" y1="1401.45" x2="1090.14" y2="1416.52" stroke="#000" stroke-width="1.4"/>
<line x1="1085.12" y1="1416.52" x2="1095.17" y2="1416.52" stroke="#000" stroke-width="1.4"/>
<rect x="1081.01" y="1332.75" width="18.26" height="68.7" fill="#b4b4b4" stroke="#000" stroke-width="1.4"/>
<line x1="1081.01" y1="1384.64" x2="1099.28" y2="1384.64" stroke="#000" stroke-width="1.4"/>
<circle cx="1090" cy="1220.87" r="3.45" fill="#fff" stroke="#000" stroke-width="1.5"/>
<circle cx="1084.2" cy="1369.57" r="3.45" fill="#fff" stroke="#000" stroke-width="1.5"/>
<circle cx="1096.38" cy="1373.91" r="4.2" fill="#000" stroke="none" stroke-width="1"/>
<circle cx="1084.2" cy="1395.65" r="4.2" fill="#000" stroke="none" stroke-width="1"/>
<circle cx="1096.38" cy="1396.23" r="4.2" fill="#000" stroke="none" stroke-width="1"/>
<circle cx="1090" cy="1416.52" r="4.2" fill="#000" stroke="none" stroke-width="1"/>
<rect x="1110" y="1403.77" width="18.26" height="18.84" fill="#fdb8b3" stroke="#fa0000" stroke-width="1.4"/>
<line x1="1110" y1="1415.94" x2="1128.26" y2="1415.94" stroke="#fa0000" stroke-width="1.4"/>
<circle cx="1118.99" cy="1371.88" r="4.2" fill="#fa0000" stroke="none" stroke-width="1"/>
<circle cx="1113.19" cy="1413.91" r="3.45" fill="#fff" stroke="#fa0000" stroke-width="1.5"/>
<circle cx="1119.57" cy="1414.49" r="4.2" fill="#fa0000" stroke="none" stroke-width="1"/>
<circle cx="1125.36" cy="1413.91" r="4.2" fill="#fa0000" stroke="none" stroke-width="1"/>
<circle cx="1119.57" cy="1420.87" r="3.45" fill="#fff" stroke="#fa0000" stroke-width="1.5"/>
<circle cx="1119.57" cy="1428.41" r="3.45" fill="#fff" stroke="#fa0000" stroke-width="1.5"/>
<line x1="1148.12" y1="1314.49" x2="1148.12" y2="1350.72" stroke="#000" stroke-width="1.4"/>
<line x1="1143.09" y1="1314.49" x2="1153.14" y2="1314.49" stroke="#000" stroke-width="1.4"/>
<line x1="1148.12" y1="1415.94" x2="1148.12" y2="1422.32" stroke="#000" stroke-width="1.4"/>
<line x1="1143.09" y1="1422.32" x2="1153.14" y2="1422.32" stroke="#000" stroke-width="1.4"/>
<rect x="1138.99" y="1350.72" width="18.26" height="65.22" fill="#b4b4b4" stroke="#000" stroke-width="1.4"/>
<line x1="1138.99" y1="1397.97" x2="1157.25" y2="1397.97" stroke="#000" stroke-width="1.4"/>
<circle cx="1147.97" cy="1314.49" r="3.45" fill="#fff" stroke="#000" stroke-width="1.5"/>
<circle cx="1147.97" cy="1362.32" r="4.2" fill="#000" stroke="none" stroke-width="1"/>
<circle cx="1142.17" cy="1398.55" r="4.2" fill="#000" stroke="none" stroke-width="1"/>
<circle cx="1153.77" cy="1396.23" r="4.2" fill="#000" stroke="none" stroke-width="1"/>
<circle cx="1147.97" cy="1413.62" r="4.2" fill="#000" stroke="none" stroke-width="1"/>
<circle cx="1147.97" cy="1422.32" r="3.45" fill="#fff" stroke="#000" stroke-width="1.5"/>
<line x1="1177.1" y1="1397.68" x2="1177.1" y2="1415.36" stroke="#fa0000" stroke-width="1.4"/>
<line x1="1172.08" y1="1397.68" x2="1182.12" y2="1397.68" stroke="#fa0000" stroke-width="1.4"/>
<rect x="1167.97" y="1415.36" width="18.26" height="15.07" fill="#fdb8b3" stroke="#fa0000" stroke-width="1.4"/>
<line x1="1167.97" y1="1424.64" x2="1186.23" y2="1424.64" stroke="#fa0000" stroke-width="1.4"/>
<circle cx="1176.96" cy="1397.68" r="4.2" fill="#fa0000" stroke="none" stroke-width="1"/>
<circle cx="1182.75" cy="1421.16" r="4.2" fill="#fa0000" stroke="none" stroke-width="1"/>
<circle cx="1171.16" cy="1424.06" r="3.45" fill="#fff" stroke="#fa0000" stroke-width="1.5"/>
<circle cx="1176.96" cy="1427.54" r="4.2" fill="#fa0000" stroke="none" stroke-width="1"/>
<circle cx="1171.16" cy="1430.43" r="3.45" fill="#fff" stroke="#fa0000" stroke-width="1.5"/>
<circle cx="1182.75" cy="1428.41" r="3.45" fill="#fff" stroke="#fa0000" stroke-width="1.5"/>
<line x1="1205.8" y1="1373.04" x2="1205.8" y2="1380.58" stroke="#000" stroke-width="1.4"/>
<line x1="1200.93" y1="1373.04" x2="1210.66" y2="1373.04" stroke="#000" stroke-width="1.4"/>
<line x1="1205.8" y1="1405.22" x2="1205.8" y2="1410.14" stroke="#000" stroke-width="1.4"/>
<line x1="1200.93" y1="1410.14" x2="1210.66" y2="1410.14" stroke="#000" stroke-width="1.4"/>
<rect x="1196.96" y="1380.58" width="17.68" height="24.64" fill="#b4b4b4" stroke="#000" stroke-width="1.4"/>
<line x1="1196.96" y1="1401.45" x2="1214.64" y2="1401.45" stroke="#000" stroke-width="1.4"/>
<circle cx="1205.94" cy="1373.04" r="3.45" fill="#fff" stroke="#000" stroke-width="1.5"/>
<circle cx="1205.94" cy="1387.54" r="4.2" fill="#000" stroke="none" stroke-width="1"/>
<circle cx="1200.14" cy="1397.97" r="4.2" fill="#000" stroke="none" stroke-width="1"/>
<circle cx="1211.74" cy="1402.03" r="4.2" fill="#000" stroke="none" stroke-width="1"/>
<circle cx="1205.94" cy="1410.14" r="4.2" fill="#000" stroke="none" stroke-width="1"/>
<line x1="1234.35" y1="1410.14" x2="1234.35" y2="1417.39" stroke="#fa0000" stroke-width="1.4"/>
<line x1="1229.72" y1="1410.14" x2="1238.97" y2="1410.14" stroke="#fa0000" stroke-width="1.4"/>
<rect x="1225.94" y="1417.39" width="16.81" height="4.35" fill="#fdb8b3" stroke="#fa0000" stroke-width="1.4"/>
<line x1="1225.94" y1="1418.84" x2="1242.75" y2="1418.84" stroke="#fa0000" stroke-width="1.4"/>
<circle cx="1234.06" cy="1410.14" r="4.2" fill="#fa0000" stroke="none" stroke-width="1"/>
<circle cx="1228.26" cy="1422.32" r="3.45" fill="#fff" stroke="#fa0000" stroke-width="1.5"/>
<circle cx="1234.06" cy="1421.16" r="3.45" fill="#fff" stroke="#fa0000" stroke-width="1.5"/>
<circle cx="1239.86" cy="1421.74" r="3.45" fill="#fff" stroke="#fa0000" stroke-width="1.5"/>
<circle cx="1234.06" cy="1418.84" r="4.2" fill="#fa0000" stroke="none" stroke-width="1"/>
<line x1="1263.77" y1="1348.41" x2="1263.77" y2="1359.42" stroke="#000" stroke-width="1.4"/>
<line x1="1258.91" y1="1348.41" x2="1268.63" y2="1348.41" stroke="#000" stroke-width="1.4"/>
<line x1="1263.77" y1="1408.12" x2="1263.77" y2="1423.19" stroke="#000" stroke-width="1.4"/>
<line x1="1258.91" y1="1423.19" x2="1268.63" y2="1423.19" stroke="#000" stroke-width="1.4"/>
<rect x="1254.93" y="1359.42" width="17.68" height="48.7" fill="#b4b4b4" stroke="#000" stroke-width="1.4"/>
<line x1="1254.93" y1="1389.86" x2="1272.61" y2="1389.86" stroke="#000" stroke-width="1.4"/>
<circle cx="1263.62" cy="1348.41" r="4.2" fill="#000" stroke="none" stroke-width="1"/>
<circle cx="1263.62" cy="1369.57" r="4.2" fill="#000" stroke="none" stroke-width="1"/>
<circle cx="1257.83" cy="1390.43" r="3.45" fill="#fff" stroke="#000" stroke-width="1.5"/>
<circle cx="1269.42" cy="1394.2" r="4.2" fill="#000" stroke="none" stroke-width="1"/>
<circle cx="1263.62" cy="1423.19" r="4.2" fill="#000" stroke="none" stroke-width="1"/>
<line x1="1292.75" y1="1342.9" x2="1292.75" y2="1374.78" stroke="#fa0000" stroke-width="1.4"/>
<line x1="1287.89" y1="1342.9" x2="1297.62" y2="1342.9" stroke="#fa0000" stroke-width="1.4"/>
<rect x="1283.91" y="1374.78" width="17.68" height="47.54" fill="#fdb8b3" stroke="#fa0000" stroke-width="1.4"/>
<line x1="1283.91" y1="1399.13" x2="1301.59" y2="1399.13" stroke="#fa0000" stroke-width="1.4"/>
<circle cx="1292.61" cy="1342.9" r="4.2" fill="#fa0000" stroke="none" stroke-width="1"/>
<circle cx="1292.61" cy="1385.51" r="4.2" fill="#fa0000" stroke="none" stroke-width="1"/>
<circle cx="1292.61" cy="1396.23" r="4.2" fill="#fa0000" stroke="none" stroke-width="1"/>
<circle cx="1292.61" cy="1402.9" r="3.45" fill="#fff" stroke="#fa0000" stroke-width="1.5"/>
<circle cx="1286.23" cy="1422.32" r="3.45" fill="#fff" stroke="#fa0000" stroke-width="1.5"/>
<circle cx="1298.7" cy="1422.32" r="3.45" fill="#fff" stroke="#fa0000" stroke-width="1.5"/>
<line x1="1321.74" y1="1400" x2="1321.74" y2="1405.22" stroke="#000" stroke-width="1.4"/>
<line x1="1316.88" y1="1400" x2="1326.6" y2="1400" stroke="#000" stroke-width="1.4"/>
<line x1="1321.74" y1="1423.19" x2="1321.74" y2="1426.67" stroke="#000" stroke-width="1.4"/>
<line x1="1316.88" y1="1426.67" x2="1326.6" y2="1426.67" stroke="#000" stroke-width="1.4"/>
<rect x="1312.9" y="1405.22" width="17.68" height="17.97" fill="#b4b4b4" stroke="#000" stroke-width="1.4"/>
<line x1="1312.9" y1="1418.26" x2="1330.58" y2="1418.26" stroke="#000" stroke-width="1.4"/>
<circle cx="1321.59" cy="1400" r="4.2" fill="#000" stroke="none" stroke-width="1"/>
<circle cx="1321.59" cy="1408.7" r="4.2" fill="#000" stroke="none" stroke-width="1"/>
<circle cx="1315.8" cy="1417.39" r="4.2" fill="#000" stroke="none" stroke-width="1"/>
<circle cx="1327.68" cy="1420.87" r="3.45" fill="#fff" stroke="#000" stroke-width="1.5"/>
<circle cx="1321.59" cy="1426.67" r="4.2" fill="#000" stroke="none" stroke-width="1"/>
<line x1="1350.72" y1="1389.86" x2="1350.72" y2="1409.28" stroke="#fa0000" stroke-width="1.4"/>
<line x1="1345.86" y1="1389.86" x2="1355.59" y2="1389.86" stroke="#fa0000" stroke-width="1.4"/>
<line x1="1350.72" y1="1426.09" x2="1350.72" y2="1431.88" stroke="#fa0000" stroke-width="1.4"/>
<line x1="1345.86" y1="1431.88" x2="1355.59" y2="1431.88" stroke="#fa0000" stroke-width="1.4"/>
<rect x="1341.88" y="1409.28" width="17.68" height="16.81" fill="#fdb8b3" stroke="#fa0000" stroke-width="1.4"/>
<line x1="1341.88" y1="1418.84" x2="1359.57" y2="1418.84" stroke="#fa0000" stroke-width="1.4"/>
<circle cx="1350.58" cy="1389.86" r="4.2" fill="#fa0000" stroke="none" stroke-width="1"/>
<circle cx="1350.58" cy="1414.49" r="4.2" fill="#fa0000" stroke="none" stroke-width="1"/>
<circle cx="1344.2" cy="1421.16" r="3.45" fill="#fff" stroke="#fa0000" stroke-width="1.5"/>
<circle cx="1356.67" cy="1423.77" r="3.45" fill="#fff" stroke="#fa0000" stroke-width="1.5"/>
<circle cx="1350.58" cy="1424.06" r="4.2" fill="#fa0000" stroke="none" stroke-width="1"/>
<circle cx="1350.58" cy="1431.88" r="3.45" fill="#fff" stroke="#fa0000" stroke-width="1.5"/>
<line x1="1379.71" y1="1349.86" x2="1379.71" y2="1361.45" stroke="#000" stroke-width="1.4"/>
<line x1="1374.85" y1="1349.86" x2="1384.57" y2="1349.86" stroke="#000" stroke-width="1.4"/>
<line x1="1379.71" y1="1419.42" x2="1379.71" y2="1421.74" stroke="#000" stroke-width="1.4"/>
<line x1="1374.85" y1="1421.74" x2="1384.57" y2="1421.74" stroke="#000" stroke-width="1.4"/>
<rect x="1370.87" y="1361.45" width="17.68" height="57.97" fill="#b4b4b4" stroke="#000" stroke-width="1.4"/>
<line x1="1370.87" y1="1404.35" x2="1388.55" y2="1404.35" stroke="#000" stroke-width="1.4"/>
<circle cx="1379.57" cy="1349.86" r="4.2" fill="#000" stroke="none" stroke-width="1"/>
<circle cx="1379.57" cy="1392.75" r="4.2" fill="#000" stroke="none" stroke-width="1"/>
<circle cx="1379.57" cy="1415.94" r="4.2" fill="#000" stroke="none" stroke-width="1"/>
<circle cx="1379.57" cy="1421.74" r="4.2" fill="#000" stroke="none" stroke-width="1"/>
<line x1="1408.7" y1="1358.55" x2="1408.7" y2="1395.65" stroke="#fa0000" stroke-width="1.4"/>
<line x1="1403.83" y1="1358.55" x2="1413.56" y2="1358.55" stroke="#fa0000" stroke-width="1.4"/>
<rect x="1399.86" y="1395.65" width="17.68" height="32.75" fill="#fdb8b3" stroke="#fa0000" stroke-width="1.4"/>
<line x1="1399.86" y1="1417.39" x2="1417.54" y2="1417.39" stroke="#fa0000" stroke-width="1.4"/>
<circle cx="1408.55" cy="1358.55" r="4.2" fill="#fa0000" stroke="none" stroke-width="1"/>
<circle cx="1408.55" cy="1406.67" r="4.2" fill="#fa0000" stroke="none" stroke-width="1"/>
<circle cx="1414.35" cy="1415.07" r="4.2" fill="#fa0000" stroke="none" stroke-width="1"/>
<circle cx="1402.17" cy="1418.84" r="3.45" fill="#fff" stroke="#fa0000" stroke-width="1.5"/>
<circle cx="1402.17" cy="1428.41" r="3.45" fill="#fff" stroke="#fa0000" stroke-width="1.5"/>
<circle cx="1413.77" cy="1428.41" r="3.45" fill="#fff" stroke="#fa0000" stroke-width="1.5"/>
<rect x="960.2" y="1131.2" width="462.3" height="308.8" fill="none" stroke="#000" stroke-width="1.5"/>
<line x1="956.2" y1="1131.2" x2="960.2" y2="1131.2" stroke="#000" stroke-width="2"/>
<text x="0" y="0" font-size="23" text-anchor="end" transform="translate(954.6 1138.79) scale(1 1.04)">3.0</text>
<line x1="956.2" y1="1182.67" x2="960.2" y2="1182.67" stroke="#000" stroke-width="2"/>
<text x="0" y="0" font-size="23" text-anchor="end" transform="translate(954.6 1190.26) scale(1 1.04)">2.5</text>
<line x1="956.2" y1="1234.13" x2="960.2" y2="1234.13" stroke="#000" stroke-width="2"/>
<text x="0" y="0" font-size="23" text-anchor="end" transform="translate(954.6 1241.72) scale(1 1.04)">2.0</text>
<line x1="956.2" y1="1285.6" x2="960.2" y2="1285.6" stroke="#000" stroke-width="2"/>
<text x="0" y="0" font-size="23" text-anchor="end" transform="translate(954.6 1293.19) scale(1 1.04)">1.5</text>
<line x1="956.2" y1="1337.07" x2="960.2" y2="1337.07" stroke="#000" stroke-width="2"/>
<text x="0" y="0" font-size="23" text-anchor="end" transform="translate(954.6 1344.66) scale(1 1.04)">1.0</text>
<line x1="956.2" y1="1388.53" x2="960.2" y2="1388.53" stroke="#000" stroke-width="2"/>
<text x="0" y="0" font-size="23" text-anchor="end" transform="translate(954.6 1396.12) scale(1 1.04)">0.5</text>
<line x1="956.2" y1="1440" x2="960.2" y2="1440" stroke="#000" stroke-width="2"/>
<text x="0" y="0" font-size="23" text-anchor="end" transform="translate(954.6 1447.59) scale(1 1.04)">0.0</text>
<line x1="988.6" y1="1440" x2="988.6" y2="1444" stroke="#000" stroke-width="1.6"/>
<text x="0" y="0" font-size="21.2" text-anchor="end" transform="translate(996.6 1457.5) rotate(-45) scale(1 1.04)">H5N1</text>
<line x1="1047.1" y1="1440" x2="1047.1" y2="1444" stroke="#000" stroke-width="1.6"/>
<text x="0" y="0" font-size="21.2" text-anchor="end" transform="translate(1055.1 1457.5) rotate(-45) scale(1 1.04)">H5N2</text>
<line x1="1105.1" y1="1440" x2="1105.1" y2="1444" stroke="#000" stroke-width="1.6"/>
<text x="0" y="0" font-size="21.2" text-anchor="end" transform="translate(1113.1 1457.5) rotate(-45) scale(1 1.04)">H7N7</text>
<line x1="1163" y1="1440" x2="1163" y2="1444" stroke="#000" stroke-width="1.6"/>
<text x="0" y="0" font-size="21.2" text-anchor="end" transform="translate(1171 1457.5) rotate(-45) scale(1 1.04)">H9N2</text>
<line x1="1221.6" y1="1440" x2="1221.6" y2="1444" stroke="#000" stroke-width="1.6"/>
<text x="0" y="0" font-size="21.2" text-anchor="end" transform="translate(1229.6 1457.5) rotate(-45) scale(1 1.04)">H1N1</text>
<line x1="1278.4" y1="1440" x2="1278.4" y2="1444" stroke="#000" stroke-width="1.6"/>
<text x="0" y="0" font-size="21.2" text-anchor="end" transform="translate(1286.4 1457.5) rotate(-45) scale(1 1.04)">H7N9</text>
<line x1="1339.9" y1="1440" x2="1339.9" y2="1444" stroke="#000" stroke-width="1.6"/>
<text x="0" y="0" font-size="21.2" text-anchor="end" transform="translate(1347.9 1457.5) rotate(-45) scale(1 1.04)">H5N6</text>
<line x1="1396.4" y1="1440" x2="1396.4" y2="1444" stroke="#000" stroke-width="1.6"/>
<text x="0" y="0" font-size="21.2" text-anchor="end" transform="translate(1404.4 1457.5) rotate(-45) scale(1 1.04)">H3N2</text>
<text x="0" y="0" font-size="19.2" textLength="48.3" lengthAdjust="spacingAndGlyphs" transform="translate(963.4 1149.6) scale(1 1.04)">CD4+</text>
<text x="0" y="0" font-size="19.2" textLength="54.4" lengthAdjust="spacingAndGlyphs" transform="translate(963.4 1166.8) scale(1 1.04)">PBMC</text>
<text x="0" y="0" font-size="14.2" fill="#f80008" textLength="45.5" lengthAdjust="spacingAndGlyphs" transform="translate(1199.3 1359.4) scale(1 1.04)">P=0.02</text>
<text x="0" y="0" font-size="22.6" text-anchor="middle" transform="translate(885 1277.5) rotate(-90) scale(1 1.04)">% of Responding</text>
<text x="0" y="0" font-size="22.6" text-anchor="middle" transform="translate(912.5 1277.5) rotate(-90) scale(1 1.04)">(CD4<tspan font-size="14" dy="-9">+</tspan><tspan dy="9"> T cells)</tspan></text>
<line x1="1653.2" y1="1131.2" x2="1653.2" y2="1439.8" stroke="#b4b4b4" stroke-width="1"/>
<line x1="1711.2" y1="1131.2" x2="1711.2" y2="1439.8" stroke="#b4b4b4" stroke-width="1"/>
<line x1="1768.4" y1="1131.2" x2="1768.4" y2="1439.8" stroke="#b4b4b4" stroke-width="1"/>
<line x1="1826.5" y1="1131.2" x2="1826.5" y2="1439.8" stroke="#b4b4b4" stroke-width="1"/>
<line x1="1884.6" y1="1131.2" x2="1884.6" y2="1439.8" stroke="#b4b4b4" stroke-width="1"/>
<line x1="1941.8" y1="1131.2" x2="1941.8" y2="1439.8" stroke="#b4b4b4" stroke-width="1"/>
<line x1="1595.1" y1="1171" x2="1595.1" y2="1439.8" stroke="#b4b4b4" stroke-width="1"/>
<line x1="1552.84" y1="1191.46" x2="1552.84" y2="1275.67" stroke="#000" stroke-width="1.4"/>
<line x1="1547.97" y1="1191.46" x2="1557.71" y2="1191.46" stroke="#000" stroke-width="1.4"/>
<line x1="1552.84" y1="1343.9" x2="1552.84" y2="1391.81" stroke="#000" stroke-width="1.4"/>
<line x1="1547.97" y1="1391.81" x2="1557.71" y2="1391.81" stroke="#000" stroke-width="1.4"/>
<rect x="1543.98" y="1275.67" width="17.71" height="68.23" fill="#b4b4b4" stroke="#000" stroke-width="1.4"/>
<line x1="1543.98" y1="1317.19" x2="1561.7" y2="1317.19" stroke="#000" stroke-width="1.4"/>
<circle cx="1552.69" cy="1191.46" r="4.2" fill="#000" stroke="none" stroke-width="1"/>
<circle cx="1552.69" cy="1302.67" r="3.45" fill="#fff" stroke="#000" stroke-width="1.5"/>
<circle cx="1552.69" cy="1311.96" r="3.45" fill="#fff" stroke="#000" stroke-width="1.5"/>
<circle cx="1552.69" cy="1322.13" r="4.2" fill="#000" stroke="none" stroke-width="1"/>
<circle cx="1552.69" cy="1328.8" r="4.2" fill="#000" stroke="none" stroke-width="1"/>
<circle cx="1552.69" cy="1391.81" r="4.2" fill="#000" stroke="none" stroke-width="1"/>
<line x1="1581.59" y1="1290.19" x2="1581.59" y2="1311.38" stroke="#fa0000" stroke-width="1.4"/>
<line x1="1576.55" y1="1290.19" x2="1586.62" y2="1290.19" stroke="#fa0000" stroke-width="1.4"/>
<line x1="1581.59" y1="1392.68" x2="1581.59" y2="1404.01" stroke="#fa0000" stroke-width="1.4"/>
<line x1="1576.55" y1="1404.01" x2="1586.62" y2="1404.01" stroke="#fa0000" stroke-width="1.4"/>
<rect x="1572.44" y="1311.38" width="18.29" height="81.3" fill="#fdb8b3" stroke="#fa0000" stroke-width="1.4"/>
<line x1="1572.44" y1="1374.39" x2="1590.73" y2="1374.39" stroke="#fa0000" stroke-width="1.4"/>
<circle cx="1581.73" cy="1290.19" r="4.2" fill="#fa0000" stroke="none" stroke-width="1"/>
<circle cx="1581.73" cy="1317.19" r="4.2" fill="#fa0000" stroke="none" stroke-width="1"/>
<circle cx="1581.73" cy="1371.49" r="3.45" fill="#fff" stroke="#fa0000" stroke-width="1.5"/>
<circle cx="1581.73" cy="1377.87" r="4.2" fill="#fa0000" stroke="none" stroke-width="1"/>
<circle cx="1581.73" cy="1389.49" r="3.45" fill="#fff" stroke="#fa0000" stroke-width="1.5"/>
<circle cx="1581.73" cy="1404.01" r="3.45" fill="#fff" stroke="#fa0000" stroke-width="1.5"/>
<rect x="1601.48" y="1320.09" width="18" height="68.82" fill="#b4b4b4" stroke="#000" stroke-width="1.4"/>
<line x1="1601.48" y1="1366.55" x2="1619.48" y2="1366.55" stroke="#000" stroke-width="1.4"/>
<circle cx="1604.67" cy="1320.09" r="3.45" fill="#fff" stroke="#000" stroke-width="1.5"/>
<circle cx="1616.57" cy="1320.09" r="4.2" fill="#000" stroke="none" stroke-width="1"/>
<circle cx="1610.48" cy="1348.84" r="3.45" fill="#fff" stroke="#000" stroke-width="1.5"/>
<circle cx="1604.67" cy="1384.55" r="4.2" fill="#000" stroke="none" stroke-width="1"/>
<circle cx="1604.67" cy="1389.49" r="4.2" fill="#000" stroke="none" stroke-width="1"/>
<circle cx="1616.57" cy="1388.33" r="4.2" fill="#000" stroke="none" stroke-width="1"/>
<line x1="1639.08" y1="1364.81" x2="1639.08" y2="1383.1" stroke="#fa0000" stroke-width="1.4"/>
<line x1="1633.89" y1="1364.81" x2="1644.27" y2="1364.81" stroke="#fa0000" stroke-width="1.4"/>
<line x1="1639.08" y1="1416.49" x2="1639.08" y2="1427.53" stroke="#fa0000" stroke-width="1.4"/>
<line x1="1633.89" y1="1427.53" x2="1644.27" y2="1427.53" stroke="#fa0000" stroke-width="1.4"/>
<rect x="1629.64" y="1383.1" width="18.87" height="33.39" fill="#fdb8b3" stroke="#fa0000" stroke-width="1.4"/>
<line x1="1629.64" y1="1401.97" x2="1648.51" y2="1401.97" stroke="#fa0000" stroke-width="1.4"/>
<circle cx="1639.22" cy="1364.81" r="4.2" fill="#fa0000" stroke="none" stroke-width="1"/>
<circle cx="1639.22" cy="1389.49" r="4.2" fill="#fa0000" stroke="none" stroke-width="1"/>
<circle cx="1632.83" cy="1402.85" r="3.45" fill="#fff" stroke="#fa0000" stroke-width="1.5"/>
<circle cx="1645.03" cy="1402.56" r="4.2" fill="#fa0000" stroke="none" stroke-width="1"/>
<circle cx="1639.22" cy="1413.01" r="3.45" fill="#fff" stroke="#fa0000" stroke-width="1.5"/>
<circle cx="1639.22" cy="1427.53" r="3.45" fill="#fff" stroke="#fa0000" stroke-width="1.5"/>
<line x1="1667.82" y1="1172.01" x2="1667.82" y2="1255.92" stroke="#000" stroke-width="1.4"/>
<line x1="1662.79" y1="1172.01" x2="1672.85" y2="1172.01" stroke="#000" stroke-width="1.4"/>
<line x1="1667.82" y1="1369.16" x2="1667.82" y2="1396.17" stroke="#000" stroke-width="1.4"/>
<line x1="1662.79" y1="1396.17" x2="1672.85" y2="1396.17" stroke="#000" stroke-width="1.4"/>
<rect x="1658.68" y="1255.92" width="18.29" height="113.24" fill="#b4b4b4" stroke="#000" stroke-width="1.4"/>
<line x1="1658.68" y1="1338.97" x2="1676.97" y2="1338.97" stroke="#000" stroke-width="1.4"/>
<circle cx="1667.68" cy="1172.01" r="4.2" fill="#000" stroke="none" stroke-width="1"/>
<circle cx="1667.68" cy="1282.93" r="3.45" fill="#fff" stroke="#000" stroke-width="1.5"/>
<circle cx="1667.68" cy="1328.8" r="3.45" fill="#fff" stroke="#000" stroke-width="1.5"/>
<circle cx="1667.68" cy="1348.84" r="4.2" fill="#000" stroke="none" stroke-width="1"/>
<circle cx="1667.68" cy="1360.45" r="4.2" fill="#000" stroke="none" stroke-width="1"/>
<circle cx="1667.68" cy="1396.17" r="4.2" fill="#000" stroke="none" stroke-width="1"/>
<line x1="1696.57" y1="1348.26" x2="1696.57" y2="1359.29" stroke="#fa0000" stroke-width="1.4"/>
<line x1="1691.38" y1="1348.26" x2="1701.76" y2="1348.26" stroke="#fa0000" stroke-width="1.4"/>
<rect x="1687.13" y="1359.29" width="18.87" height="60.1" fill="#fdb8b3" stroke="#fa0000" stroke-width="1.4"/>
<line x1="1687.13" y1="1390.36" x2="1706" y2="1390.36" stroke="#fa0000" stroke-width="1.4"/>
<circle cx="1696.71" cy="1348.26" r="4.2" fill="#fa0000" stroke="none" stroke-width="1"/>
<circle cx="1696.71" cy="1362.78" r="4.2" fill="#fa0000" stroke="none" stroke-width="1"/>
<circle cx="1690.62" cy="1392.68" r="4.2" fill="#fa0000" stroke="none" stroke-width="1"/>
<circle cx="1703.1" cy="1389.49" r="3.45" fill="#fff" stroke="#fa0000" stroke-width="1.5"/>
<circle cx="1690.62" cy="1420.85" r="3.45" fill="#fff" stroke="#fa0000" stroke-width="1.5"/>
<circle cx="1703.1" cy="1419.4" r="3.45" fill="#fff" stroke="#fa0000" stroke-width="1.5"/>
<line x1="1725.89" y1="1341" x2="1725.89" y2="1351.16" stroke="#000" stroke-width="1.4"/>
<line x1="1720.86" y1="1341" x2="1730.92" y2="1341" stroke="#000" stroke-width="1.4"/>
<line x1="1725.89" y1="1407.78" x2="1725.89" y2="1424.62" stroke="#000" stroke-width="1.4"/>
<line x1="1720.86" y1="1424.62" x2="1730.92" y2="1424.62" stroke="#000" stroke-width="1.4"/>
<rect x="1716.75" y="1351.16" width="18.29" height="56.62" fill="#b4b4b4" stroke="#000" stroke-width="1.4"/>
<line x1="1716.75" y1="1364.81" x2="1735.04" y2="1364.81" stroke="#000" stroke-width="1.4"/>
<circle cx="1725.75" cy="1341" r="3.45" fill="#fff" stroke="#000" stroke-width="1.5"/>
<circle cx="1719.94" cy="1352.03" r="3.45" fill="#fff" stroke="#000" stroke-width="1.5"/>
<circle cx="1731.56" cy="1352.03" r="4.2" fill="#000" stroke="none" stroke-width="1"/>
<circle cx="1725.75" cy="1377.29" r="4.2" fill="#000" stroke="none" stroke-width="1"/>
<circle cx="1725.75" cy="1402.56" r="4.2" fill="#000" stroke="none" stroke-width="1"/>
<circle cx="1725.75" cy="1424.62" r="4.2" fill="#000" stroke="none" stroke-width="1"/>
<line x1="1754.35" y1="1362.78" x2="1754.35" y2="1386.88" stroke="#fa0000" stroke-width="1.4"/>
<line x1="1749.32" y1="1362.78" x2="1759.38" y2="1362.78" stroke="#fa0000" stroke-width="1.4"/>
<line x1="1754.35" y1="1425.2" x2="1754.35" y2="1432.46" stroke="#fa0000" stroke-width="1.4"/>
<line x1="1749.32" y1="1432.46" x2="1759.38" y2="1432.46" stroke="#fa0000" stroke-width="1.4"/>
<rect x="1745.2" y="1386.88" width="18.29" height="38.33" fill="#fdb8b3" stroke="#fa0000" stroke-width="1.4"/>
<line x1="1745.2" y1="1407.2" x2="1763.5" y2="1407.2" stroke="#fa0000" stroke-width="1.4"/>
<circle cx="1754.49" cy="1362.78" r="4.2" fill="#fa0000" stroke="none" stroke-width="1"/>
<circle cx="1754.49" cy="1394.13" r="3.45" fill="#fff" stroke="#fa0000" stroke-width="1.5"/>
<circle cx="1754.49" cy="1401.97" r="4.2" fill="#fa0000" stroke="none" stroke-width="1"/>
<circle cx="1754.49" cy="1412.72" r="4.2" fill="#fa0000" stroke="none" stroke-width="1"/>
<circle cx="1754.49" cy="1423.17" r="3.45" fill="#fff" stroke="#fa0000" stroke-width="1.5"/>
<circle cx="1754.49" cy="1432.46" r="3.45" fill="#fff" stroke="#fa0000" stroke-width="1.5"/>
<line x1="1783.1" y1="1338.1" x2="1783.1" y2="1345.93" stroke="#000" stroke-width="1.4"/>
<line x1="1777.91" y1="1338.1" x2="1788.29" y2="1338.1" stroke="#000" stroke-width="1.4"/>
<line x1="1783.1" y1="1381.07" x2="1783.1" y2="1405.75" stroke="#000" stroke-width="1.4"/>
<line x1="1777.91" y1="1405.75" x2="1788.29" y2="1405.75" stroke="#000" stroke-width="1.4"/>
<rect x="1773.66" y="1345.93" width="18.87" height="35.13" fill="#b4b4b4" stroke="#000" stroke-width="1.4"/>
<line x1="1773.66" y1="1350.29" x2="1792.53" y2="1350.29" stroke="#000" stroke-width="1.4"/>
<circle cx="1782.95" cy="1338.1" r="3.45" fill="#fff" stroke="#000" stroke-width="1.5"/>
<circle cx="1777.14" cy="1350.58" r="4.2" fill="#000" stroke="none" stroke-width="1"/>
<circle cx="1788.76" cy="1351.16" r="4.2" fill="#000" stroke="none" stroke-width="1"/>
<circle cx="1782.95" cy="1356.1" r="4.2" fill="#000" stroke="none" stroke-width="1"/>
<circle cx="1782.95" cy="1405.75" r="4.2" fill="#000" stroke="none" stroke-width="1"/>
<line x1="1812.13" y1="1277.12" x2="1812.13" y2="1329.97" stroke="#fa0000" stroke-width="1.4"/>
<line x1="1806.94" y1="1277.12" x2="1817.32" y2="1277.12" stroke="#fa0000" stroke-width="1.4"/>
<line x1="1812.13" y1="1388.91" x2="1812.13" y2="1400.52" stroke="#fa0000" stroke-width="1.4"/>
<line x1="1806.94" y1="1400.52" x2="1817.32" y2="1400.52" stroke="#fa0000" stroke-width="1.4"/>
<rect x="1802.69" y="1329.97" width="18.87" height="58.94" fill="#fdb8b3" stroke="#fa0000" stroke-width="1.4"/>
<line x1="1802.69" y1="1373.52" x2="1821.57" y2="1373.52" stroke="#fa0000" stroke-width="1.4"/>
<circle cx="1811.99" cy="1277.12" r="4.2" fill="#fa0000" stroke="none" stroke-width="1"/>
<circle cx="1811.99" cy="1346.81" r="4.2" fill="#fa0000" stroke="none" stroke-width="1"/>
<circle cx="1811.99" cy="1370.62" r="3.45" fill="#fff" stroke="#fa0000" stroke-width="1.5"/>
<circle cx="1811.99" cy="1377.87" r="3.45" fill="#fff" stroke="#fa0000" stroke-width="1.5"/>
<circle cx="1811.99" cy="1386" r="4.2" fill="#fa0000" stroke="none" stroke-width="1"/>
<circle cx="1811.99" cy="1400.52" r="3.45" fill="#fff" stroke="#fa0000" stroke-width="1.5"/>
<line x1="1841.02" y1="1372.94" x2="1841.02" y2="1388.33" stroke="#000" stroke-width="1.4"/>
<line x1="1835.91" y1="1388.33" x2="1846.13" y2="1388.33" stroke="#000" stroke-width="1.4"/>
<rect x="1831.73" y="1338.68" width="18.58" height="34.26" fill="#b4b4b4" stroke="#000" stroke-width="1.4"/>
<line x1="1831.73" y1="1352.61" x2="1850.31" y2="1352.61" stroke="#000" stroke-width="1.4"/>
<circle cx="1835.21" cy="1338.1" r="4.2" fill="#000" stroke="none" stroke-width="1"/>
<circle cx="1846.83" cy="1342.45" r="4.2" fill="#000" stroke="none" stroke-width="1"/>
<circle cx="1841.02" cy="1352.03" r="3.45" fill="#fff" stroke="#000" stroke-width="1.5"/>
<circle cx="1841.02" cy="1358.42" r="4.2" fill="#000" stroke="none" stroke-width="1"/>
<circle cx="1841.02" cy="1388.33" r="4.2" fill="#000" stroke="none" stroke-width="1"/>
<line x1="1869.77" y1="1256.79" x2="1869.77" y2="1310.51" stroke="#fa0000" stroke-width="1.4"/>
<line x1="1864.82" y1="1256.79" x2="1874.72" y2="1256.79" stroke="#fa0000" stroke-width="1.4"/>
<line x1="1869.77" y1="1391.81" x2="1869.77" y2="1399.07" stroke="#fa0000" stroke-width="1.4"/>
<line x1="1864.82" y1="1399.07" x2="1874.72" y2="1399.07" stroke="#fa0000" stroke-width="1.4"/>
<rect x="1860.77" y="1310.51" width="18" height="81.3" fill="#fdb8b3" stroke="#fa0000" stroke-width="1.4"/>
<line x1="1860.77" y1="1373.81" x2="1878.77" y2="1373.81" stroke="#fa0000" stroke-width="1.4"/>
<circle cx="1869.77" cy="1256.79" r="4.2" fill="#fa0000" stroke="none" stroke-width="1"/>
<circle cx="1869.77" cy="1327.93" r="4.2" fill="#fa0000" stroke="none" stroke-width="1"/>
<circle cx="1869.77" cy="1370.03" r="3.45" fill="#fff" stroke="#fa0000" stroke-width="1.5"/>
<circle cx="1869.77" cy="1378.16" r="3.45" fill="#fff" stroke="#fa0000" stroke-width="1.5"/>
<circle cx="1869.77" cy="1390.36" r="4.2" fill="#fa0000" stroke="none" stroke-width="1"/>
<circle cx="1869.77" cy="1399.07" r="3.45" fill="#fff" stroke="#fa0000" stroke-width="1.5"/>
<line x1="1898.66" y1="1323.58" x2="1898.66" y2="1328.51" stroke="#000" stroke-width="1.4"/>
<line x1="1893.63" y1="1323.58" x2="1903.69" y2="1323.58" stroke="#000" stroke-width="1.4"/>
<rect x="1889.51" y="1328.51" width="18.29" height="75.49" fill="#b4b4b4" stroke="#000" stroke-width="1.4"/>
<line x1="1889.51" y1="1379.33" x2="1907.8" y2="1379.33" stroke="#000" stroke-width="1.4"/>
<circle cx="1898.8" cy="1323.58" r="3.45" fill="#fff" stroke="#000" stroke-width="1.5"/>
<circle cx="1898.8" cy="1332.29" r="4.2" fill="#000" stroke="none" stroke-width="1"/>
<circle cx="1898.8" cy="1379.33" r="4.2" fill="#000" stroke="none" stroke-width="1"/>
<circle cx="1892.71" cy="1404.3" r="4.2" fill="#000" stroke="none" stroke-width="1"/>
<circle cx="1904.9" cy="1404.3" r="4.2" fill="#000" stroke="none" stroke-width="1"/>
<line x1="1927.11" y1="1372.94" x2="1927.11" y2="1389.49" stroke="#fa0000" stroke-width="1.4"/>
<line x1="1922.08" y1="1372.94" x2="1932.14" y2="1372.94" stroke="#fa0000" stroke-width="1.4"/>
<line x1="1927.11" y1="1428.98" x2="1927.11" y2="1432.46" stroke="#fa0000" stroke-width="1.4"/>
<line x1="1922.08" y1="1432.46" x2="1932.14" y2="1432.46" stroke="#fa0000" stroke-width="1.4"/>
<rect x="1917.97" y="1389.49" width="18.29" height="39.49" fill="#fdb8b3" stroke="#fa0000" stroke-width="1.4"/>
<line x1="1917.97" y1="1405.46" x2="1936.26" y2="1405.46" stroke="#fa0000" stroke-width="1.4"/>
<circle cx="1927.26" cy="1372.94" r="4.2" fill="#fa0000" stroke="none" stroke-width="1"/>
<circle cx="1921.45" cy="1394.13" r="3.45" fill="#fff" stroke="#fa0000" stroke-width="1.5"/>
<circle cx="1933.94" cy="1398.49" r="4.2" fill="#fa0000" stroke="none" stroke-width="1"/>
<circle cx="1927.26" cy="1413.01" r="4.2" fill="#fa0000" stroke="none" stroke-width="1"/>
<circle cx="1933.94" cy="1428.98" r="3.45" fill="#fff" stroke="#fa0000" stroke-width="1.5"/>
<circle cx="1921.45" cy="1432.46" r="3.45" fill="#fff" stroke="#fa0000" stroke-width="1.5"/>
<line x1="1956.15" y1="1225.73" x2="1956.15" y2="1258.25" stroke="#000" stroke-width="1.4"/>
<line x1="1951.12" y1="1225.73" x2="1961.18" y2="1225.73" stroke="#000" stroke-width="1.4"/>
<rect x="1947" y="1258.25" width="18.29" height="133.57" fill="#b4b4b4" stroke="#000" stroke-width="1.4"/>
<line x1="1947" y1="1372.36" x2="1965.3" y2="1372.36" stroke="#000" stroke-width="1.4"/>
<circle cx="1956.3" cy="1225.73" r="4.2" fill="#000" stroke="none" stroke-width="1"/>
<circle cx="1956.3" cy="1353.19" r="4.2" fill="#000" stroke="none" stroke-width="1"/>
<circle cx="1950.49" cy="1394.72" r="4.2" fill="#000" stroke="none" stroke-width="1"/>
<circle cx="1962.39" cy="1391.81" r="4.2" fill="#000" stroke="none" stroke-width="1"/>
<line x1="1985.19" y1="1365.68" x2="1985.19" y2="1374.39" stroke="#fa0000" stroke-width="1.4"/>
<line x1="1980.16" y1="1365.68" x2="1990.22" y2="1365.68" stroke="#fa0000" stroke-width="1.4"/>
<rect x="1976.04" y="1374.39" width="18.29" height="51.68" fill="#fdb8b3" stroke="#fa0000" stroke-width="1.4"/>
<line x1="1976.04" y1="1404.3" x2="1994.33" y2="1404.3" stroke="#fa0000" stroke-width="1.4"/>
<circle cx="1985.33" cy="1365.68" r="4.2" fill="#fa0000" stroke="none" stroke-width="1"/>
<circle cx="1985.33" cy="1377.29" r="4.2" fill="#fa0000" stroke="none" stroke-width="1"/>
<circle cx="1979.52" cy="1404.88" r="3.45" fill="#fff" stroke="#fa0000" stroke-width="1.5"/>
<circle cx="1991.14" cy="1402.85" r="4.2" fill="#fa0000" stroke="none" stroke-width="1"/>
<circle cx="1979.52" cy="1426.07" r="3.45" fill="#fff" stroke="#fa0000" stroke-width="1.5"/>
<circle cx="1991.14" cy="1425.78" r="3.45" fill="#fff" stroke="#fa0000" stroke-width="1.5"/>
<rect x="1538.2" y="1131.2" width="461" height="308.6" fill="none" stroke="#000" stroke-width="1.5"/>
<line x1="1534.2" y1="1131.2" x2="1538.2" y2="1131.2" stroke="#000" stroke-width="2"/>
<text x="0" y="0" font-size="23" text-anchor="end" transform="translate(1532.6 1138.79) scale(1 1.04)">3.0</text>
<line x1="1534.2" y1="1182.63" x2="1538.2" y2="1182.63" stroke="#000" stroke-width="2"/>
<text x="0" y="0" font-size="23" text-anchor="end" transform="translate(1532.6 1190.22) scale(1 1.04)">2.5</text>
<line x1="1534.2" y1="1234.07" x2="1538.2" y2="1234.07" stroke="#000" stroke-width="2"/>
<text x="0" y="0" font-size="23" text-anchor="end" transform="translate(1532.6 1241.66) scale(1 1.04)">2.0</text>
<line x1="1534.2" y1="1285.5" x2="1538.2" y2="1285.5" stroke="#000" stroke-width="2"/>
<text x="0" y="0" font-size="23" text-anchor="end" transform="translate(1532.6 1293.09) scale(1 1.04)">1.5</text>
<line x1="1534.2" y1="1336.93" x2="1538.2" y2="1336.93" stroke="#000" stroke-width="2"/>
<text x="0" y="0" font-size="23" text-anchor="end" transform="translate(1532.6 1344.52) scale(1 1.04)">1.0</text>
<line x1="1534.2" y1="1388.37" x2="1538.2" y2="1388.37" stroke="#000" stroke-width="2"/>
<text x="0" y="0" font-size="23" text-anchor="end" transform="translate(1532.6 1395.96) scale(1 1.04)">0.5</text>
<line x1="1534.2" y1="1439.8" x2="1538.2" y2="1439.8" stroke="#000" stroke-width="2"/>
<text x="0" y="0" font-size="23" text-anchor="end" transform="translate(1532.6 1447.39) scale(1 1.04)">0.0</text>
<line x1="1565.8" y1="1439.8" x2="1565.8" y2="1443.8" stroke="#000" stroke-width="1.6"/>
<text x="0" y="0" font-size="21.2" text-anchor="end" transform="translate(1573.8 1457.3) rotate(-45) scale(1 1.04)">H5N1</text>
<line x1="1624.7" y1="1439.8" x2="1624.7" y2="1443.8" stroke="#000" stroke-width="1.6"/>
<text x="0" y="0" font-size="21.2" text-anchor="end" transform="translate(1632.7 1457.3) rotate(-45) scale(1 1.04)">H5N2</text>
<line x1="1682.2" y1="1439.8" x2="1682.2" y2="1443.8" stroke="#000" stroke-width="1.6"/>
<text x="0" y="0" font-size="21.2" text-anchor="end" transform="translate(1690.2 1457.3) rotate(-45) scale(1 1.04)">H7N7</text>
<line x1="1740" y1="1439.8" x2="1740" y2="1443.8" stroke="#000" stroke-width="1.6"/>
<text x="0" y="0" font-size="21.2" text-anchor="end" transform="translate(1748 1457.3) rotate(-45) scale(1 1.04)">H9N2</text>
<line x1="1797.5" y1="1439.8" x2="1797.5" y2="1443.8" stroke="#000" stroke-width="1.6"/>
<text x="0" y="0" font-size="21.2" text-anchor="end" transform="translate(1805.5 1457.3) rotate(-45) scale(1 1.04)">H1N1</text>
<line x1="1855" y1="1439.8" x2="1855" y2="1443.8" stroke="#000" stroke-width="1.6"/>
<text x="0" y="0" font-size="21.2" text-anchor="end" transform="translate(1863 1457.3) rotate(-45) scale(1 1.04)">H7N9</text>
<line x1="1912.7" y1="1439.8" x2="1912.7" y2="1443.8" stroke="#000" stroke-width="1.6"/>
<text x="0" y="0" font-size="21.2" text-anchor="end" transform="translate(1920.7 1457.3) rotate(-45) scale(1 1.04)">H5N6</text>
<line x1="1969.6" y1="1439.8" x2="1969.6" y2="1443.8" stroke="#000" stroke-width="1.6"/>
<text x="0" y="0" font-size="21.2" text-anchor="end" transform="translate(1977.6 1457.3) rotate(-45) scale(1 1.04)">H3N2</text>
<text x="0" y="0" font-size="19.2" textLength="48.3" lengthAdjust="spacingAndGlyphs" transform="translate(1543.2 1149.4) scale(1 1.04)">CD8+</text>
<text x="0" y="0" font-size="19.2" textLength="54.4" lengthAdjust="spacingAndGlyphs" transform="translate(1543.2 1166.6) scale(1 1.04)">PBMC</text>
<text x="0" y="0" font-size="14.2" fill="#f80008" textLength="45.3" lengthAdjust="spacingAndGlyphs" transform="translate(1600.6 1301.8) scale(1 1.04)">P=0.03</text>
<text x="0" y="0" font-size="22.6" text-anchor="middle" transform="translate(1462.3 1277.8) rotate(-90) scale(1 1.04)">% of Responding</text>
<text x="0" y="0" font-size="22.6" text-anchor="middle" transform="translate(1489.9 1277.8) rotate(-90) scale(1 1.04)">(CD8<tspan font-size="14" dy="-9">+</tspan><tspan dy="9"> T cells)</tspan></text>
<rect x="958.7" y="1500.4" width="1038.5" height="38.7" fill="none" stroke="#000" stroke-width="1.2"/>
<rect x="1263" y="1510.2" width="23.2" height="18.2" fill="#c0c0c0" stroke="#000" stroke-width="1.2"/>
<text x="0" y="0" font-size="22.1" transform="translate(1297.8 1527) scale(1 1.04)">dd CyCMV/Flu</text>
<rect x="1496.4" y="1510.2" width="23.8" height="18.1" fill="#fdb4b4" stroke="#f80008" stroke-width="1.2"/>
<text x="0" y="0" font-size="22.1" fill="#f80008" textLength="151.9" lengthAdjust="spacingAndGlyphs" transform="translate(1533.8 1527) scale(1 1.04)">FL CyCMV/Flu</text>
</svg>
</body></html>
